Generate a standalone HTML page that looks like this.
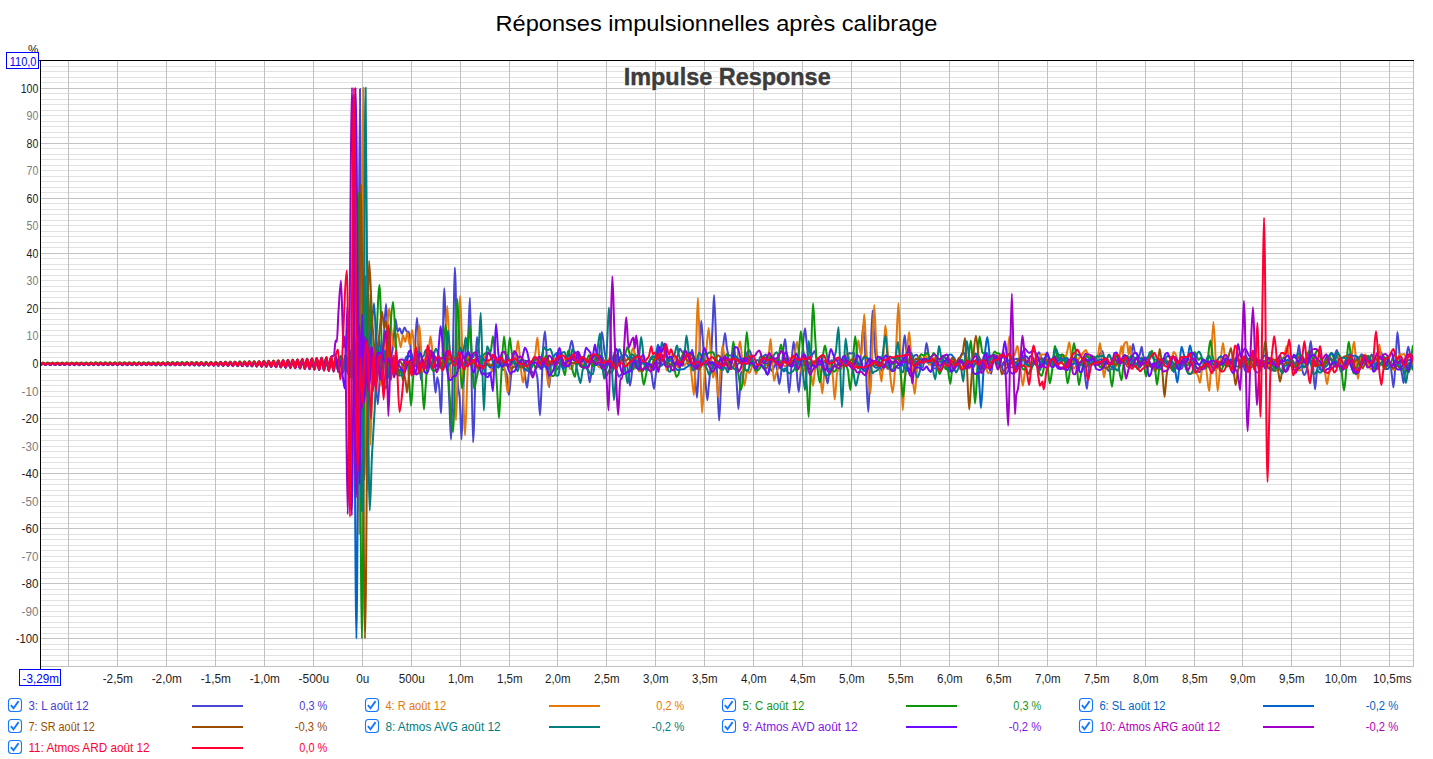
<!DOCTYPE html>
<html lang="fr"><head><meta charset="utf-8"><title>Réponses impulsionnelles après calibrage</title>
<style>html,body{margin:0;padding:0;background:#fff;overflow:hidden}body{width:1433px;height:759px;font-family:"Liberation Sans",sans-serif}svg text{white-space:pre}</style></head>
<body>
<svg width="1433" height="759" viewBox="0 0 1433 759" style="display:block">
<rect width="1433" height="759" fill="#fff"/>
<g shape-rendering="crispEdges">
<path d="M41 660.5H1413M41 655.5H1413M41 649.5H1413M41 644.5H1413M41 633.5H1413M41 627.5H1413M41 622.5H1413M41 616.5H1413M41 611.5H1413M41 605.5H1413M41 600.5H1413M41 594.5H1413M41 589.5H1413M41 578.5H1413M41 572.5H1413M41 567.5H1413M41 561.5H1413M41 556.5H1413M41 550.5H1413M41 545.5H1413M41 539.5H1413M41 534.5H1413M41 523.5H1413M41 517.5H1413M41 512.5H1413M41 506.5H1413M41 501.5H1413M41 495.5H1413M41 490.5H1413M41 484.5H1413M41 479.5H1413M41 468.5H1413M41 462.5H1413M41 457.5H1413M41 451.5H1413M41 446.5H1413M41 440.5H1413M41 435.5H1413M41 429.5H1413M41 424.5H1413M41 413.5H1413M41 407.5H1413M41 402.5H1413M41 396.5H1413M41 391.5H1413M41 385.5H1413M41 380.5H1413M41 374.5H1413M41 369.5H1413M41 357.5H1413M41 352.5H1413M41 346.5H1413M41 341.5H1413M41 335.5H1413M41 330.5H1413M41 324.5H1413M41 319.5H1413M41 313.5H1413M41 302.5H1413M41 297.5H1413M41 291.5H1413M41 286.5H1413M41 280.5H1413M41 275.5H1413M41 269.5H1413M41 264.5H1413M41 258.5H1413M41 247.5H1413M41 242.5H1413M41 236.5H1413M41 231.5H1413M41 225.5H1413M41 220.5H1413M41 214.5H1413M41 209.5H1413M41 203.5H1413M41 192.5H1413M41 187.5H1413M41 181.5H1413M41 176.5H1413M41 170.5H1413M41 165.5H1413M41 159.5H1413M41 154.5H1413M41 148.5H1413M41 137.5H1413M41 132.5H1413M41 126.5H1413M41 121.5H1413M41 115.5H1413M41 110.5H1413M41 104.5H1413M41 99.5H1413M41 93.5H1413M41 82.5H1413M41 77.5H1413M41 71.5H1413M41 66.5H1413" stroke="#e1e1e1" stroke-width="1" fill="none"/>
<path d="M41 638.5H1413M41 583.5H1413M41 528.5H1413M41 473.5H1413M41 418.5H1413M41 363.5H1413M41 308.5H1413M41 253.5H1413M41 198.5H1413M41 143.5H1413M41 88.5H1413" stroke="#c3c3c3" stroke-width="1" fill="none"/>
<path d="M68.5 61V666M117.5 61V666M166.5 61V666M215.5 61V666M264.5 61V666M313.5 61V666M362.5 61V666M411.5 61V666M460.5 61V666M509.5 61V666M557.5 61V666M606.5 61V666M655.5 61V666M704.5 61V666M753.5 61V666M802.5 61V666M851.5 61V666M900.5 61V666M949.5 61V666M998.5 61V666M1047.5 61V666M1096.5 61V666M1145.5 61V666M1194.5 61V666M1242.5 61V666M1291.5 61V666M1340.5 61V666M1389.5 61V666" stroke="#c0c0c0" stroke-width="1" fill="none"/>
<path d="M1413.5 61V667 M41 666.5H1414" stroke="#c0c0c0" stroke-width="1" fill="none"/>
</g>
<clipPath id="cp"><rect x="41" y="61" width="1372" height="605"/></clipPath>
<g clip-path="url(#cp)" fill="none" stroke-width="2" stroke-linejoin="round" stroke-linecap="round">
<path d="M38.0 363.0C38.8 363.3 39.6 364.1 40.4 364.1C41.2 364.1 42.0 363.0 42.8 363.0C43.6 363.0 44.4 364.1 45.2 364.1C46.0 364.1 46.8 363.0 47.6 363.0C48.4 363.0 49.2 364.1 50.0 364.1C50.8 364.1 51.6 363.0 52.4 363.0C53.2 363.0 54.0 364.1 54.8 364.1C55.6 364.1 56.4 363.0 57.2 363.0C58.0 363.0 58.8 364.1 59.6 364.1C60.4 364.1 61.2 363.0 62.0 363.0C62.8 363.0 63.6 364.1 64.4 364.1C65.2 364.1 66.0 363.0 66.8 363.0C67.6 363.0 68.4 364.1 69.2 364.1C70.0 364.1 70.8 363.0 71.6 363.0C72.4 363.0 73.2 364.1 74.0 364.1C74.8 364.1 75.6 363.0 76.4 363.0C77.2 363.0 78.0 364.1 78.8 364.1C79.6 364.1 80.4 363.0 81.2 363.0C82.0 363.0 82.8 364.1 83.6 364.1C84.4 364.1 85.2 362.9 86.0 362.9C86.8 362.9 87.6 364.1 88.4 364.1C89.2 364.1 90.0 362.9 90.8 362.9C91.6 362.9 92.4 364.1 93.2 364.1C94.0 364.1 94.8 362.9 95.6 362.9C96.4 362.9 97.2 364.1 98.0 364.1C98.8 364.1 99.6 362.9 100.4 362.9C101.2 362.9 102.0 364.1 102.8 364.1C103.6 364.1 104.4 362.9 105.2 362.9C106.0 362.9 106.8 364.1 107.6 364.1C108.4 364.1 109.2 362.9 110.0 362.9C110.8 362.9 111.6 364.1 112.4 364.1C113.2 364.1 114.0 362.9 114.8 362.9C115.6 362.9 116.4 364.1 117.2 364.1C118.0 364.1 118.8 362.9 119.6 362.9C120.4 362.9 121.2 364.2 122.0 364.2C122.8 364.2 123.6 362.9 124.4 362.9C125.2 362.9 126.0 364.2 126.8 364.2C127.6 364.2 128.4 362.9 129.2 362.9C130.0 362.9 130.8 364.2 131.6 364.2C132.4 364.2 133.2 362.9 134.0 362.9C134.8 362.9 135.6 364.2 136.4 364.2C137.2 364.2 138.0 362.8 138.8 362.8C139.6 362.8 140.4 364.2 141.2 364.2C142.0 364.2 142.8 362.8 143.6 362.8C144.4 362.8 145.2 364.2 146.0 364.2C146.8 364.2 147.6 362.8 148.4 362.8C149.2 362.8 150.0 364.2 150.8 364.2C151.6 364.2 152.4 362.8 153.2 362.8C154.0 362.8 154.8 364.3 155.6 364.3C156.4 364.3 157.2 362.8 158.0 362.8C158.8 362.8 159.6 364.3 160.4 364.3C161.2 364.3 162.0 362.8 162.8 362.8C163.6 362.8 164.4 364.3 165.2 364.3C166.0 364.3 166.8 362.7 167.6 362.7C168.4 362.7 169.2 364.3 170.0 364.3C170.8 364.3 171.6 362.7 172.4 362.7C173.2 362.7 174.0 364.3 174.8 364.3C175.6 364.3 176.4 362.7 177.2 362.7C178.0 362.7 178.8 364.4 179.6 364.4C180.4 364.4 181.2 362.7 182.0 362.7C182.8 362.7 183.6 364.4 184.4 364.4C185.2 364.4 186.0 362.6 186.8 362.6C187.6 362.6 188.4 364.4 189.2 364.4C190.0 364.4 190.8 362.6 191.6 362.6C192.4 362.6 193.2 364.5 194.0 364.5C194.8 364.5 195.6 362.6 196.4 362.6C197.2 362.6 198.0 364.5 198.8 364.5C199.6 364.5 200.4 362.5 201.2 362.5C202.0 362.5 202.8 364.6 203.6 364.6C204.4 364.6 205.2 362.5 206.0 362.5C206.8 362.5 207.6 364.6 208.4 364.6C209.2 364.6 210.0 362.4 210.8 362.4C211.6 362.4 212.4 364.7 213.2 364.7C214.0 364.7 214.8 362.4 215.6 362.4C216.4 362.4 217.2 364.7 218.0 364.7C218.8 364.7 219.6 362.3 220.4 362.3C221.2 362.3 222.0 364.8 222.8 364.8C223.6 364.8 224.4 362.2 225.2 362.2C226.0 362.2 226.8 364.8 227.6 364.8C228.4 364.8 229.2 362.2 230.0 362.2C230.8 362.2 231.6 364.9 232.4 364.9C233.2 364.9 234.0 362.1 234.8 362.1C235.6 362.1 236.4 365.0 237.2 365.0C238.0 365.0 238.8 362.0 239.6 362.0C240.4 362.0 241.2 365.1 242.0 365.1C242.8 365.1 243.6 361.9 244.4 361.9C245.2 361.9 246.0 365.2 246.8 365.2C247.6 365.2 248.4 361.8 249.2 361.8C250.0 361.8 250.8 365.3 251.6 365.3C252.4 365.3 253.2 361.7 254.0 361.7C254.8 361.7 255.6 365.4 256.4 365.4C257.2 365.4 258.0 361.6 258.8 361.6C259.6 361.6 260.4 365.5 261.2 365.5C262.0 365.5 262.8 361.5 263.6 361.5C264.4 361.5 265.2 365.7 266.0 365.7C266.8 365.7 267.6 361.3 268.4 361.3C269.2 361.3 270.0 365.8 270.8 365.8C271.6 365.8 272.4 361.2 273.2 361.2C274.0 361.2 274.8 366.0 275.6 366.0C276.4 366.0 277.2 361.0 278.0 361.0C278.8 361.0 279.6 366.1 280.4 366.1C281.2 366.1 282.0 360.8 282.8 360.8C283.6 360.8 284.4 366.3 285.2 366.3C286.0 366.3 286.8 360.6 287.6 360.6C288.4 360.6 289.2 366.5 290.0 366.5C290.8 366.5 291.6 360.4 292.4 360.4C293.2 360.4 294.0 366.8 294.8 366.8C295.6 366.8 296.4 360.1 297.2 360.1C298.0 360.1 298.8 367.0 299.6 367.0C300.4 367.0 301.2 359.9 302.0 359.9C302.8 359.9 303.6 367.3 304.4 367.3C305.2 367.3 306.0 359.6 306.8 359.6C307.6 359.6 308.4 367.6 309.2 367.6C310.0 367.6 310.8 359.3 311.6 359.3C312.4 359.3 313.2 367.9 314.0 367.9C314.8 367.9 315.6 359.0 316.4 359.0C317.2 359.0 318.0 368.3 318.8 368.3C319.6 368.3 320.4 358.6 321.2 358.6C322.0 358.6 322.8 368.7 323.6 368.7C324.4 368.7 325.2 358.2 326.0 358.2C326.8 358.2 327.6 369.1 328.4 369.1C329.2 369.1 330.0 357.7 330.8 357.7C331.6 357.7 332.4 369.5 333.2 369.5C334.0 369.5 334.8 357.3 335.6 357.3C336.4 357.3 337.2 370.0 338.0 370.0C338.8 370.0 339.6 356.7 340.4 356.7C341.2 356.7 342.0 370.6 342.8 370.6C343.6 370.6 344.4 356.2 345.2 356.2C346.0 356.2 346.8 371.2 347.6 371.2C348.4 371.2 349.2 358.3 350.0 358.3C350.8 358.3 351.7 374.8 352.5 374.8C353.3 374.8 354.2 341.8 355.0 341.8C355.8 341.8 356.7 424.4 357.5 424.4C358.3 424.4 359.2 88.9 360.0 88.9C360.8 88.9 361.5 425.6 362.3 446.4C363.0 466.4 363.8 479.5 364.5 479.5C365.2 479.5 366.0 336.3 366.7 336.3C367.5 336.3 368.2 385.8 369.0 385.8C369.8 385.8 370.7 347.3 371.5 347.3C372.3 347.3 373.2 349.8 374.0 352.8C375.3 357.4 376.5 404.3 377.8 404.3C378.9 404.3 379.9 364.0 381.0 355.5C381.8 348.9 382.7 348.5 383.5 341.8C384.3 335.0 385.2 304.0 386.0 304.0C386.8 304.0 387.7 333.0 388.5 341.8C389.2 348.8 389.8 358.3 390.5 358.3C391.3 358.3 392.2 352.5 393.0 347.3C393.8 342.0 394.7 319.2 395.5 319.2C396.2 319.2 396.9 331.6 397.6 331.6C398.3 331.6 399.0 328.3 399.7 328.3C400.4 328.3 401.1 333.8 401.8 333.8C402.7 333.8 403.7 327.4 404.6 327.4C405.3 327.4 406.0 331.2 406.7 331.6C407.4 331.9 408.1 331.8 408.8 332.1C409.4 332.4 409.9 339.2 410.5 345.6C411.0 351.3 411.5 374.8 412.0 374.8C412.8 374.8 413.7 364.0 414.5 355.5C415.3 347.0 416.2 317.8 417.0 317.8C417.8 317.8 418.7 345.5 419.5 358.3C420.0 366.0 420.5 380.3 421.0 380.3C421.7 380.3 422.3 361.0 423.0 361.0C423.7 361.0 424.4 361.1 425.0 361.3C425.7 361.5 426.4 367.2 427.1 367.3C427.8 367.3 428.4 367.3 429.1 367.3C429.8 367.3 430.5 363.3 431.2 363.3C431.8 363.3 432.5 366.0 433.2 368.9C434.0 372.2 434.8 392.7 435.6 392.7C436.2 392.7 436.7 377.2 437.3 377.2C438.0 377.2 438.6 382.7 439.3 388.1C439.9 392.6 440.4 413.4 441.0 413.4C442.1 413.4 443.2 288.3 444.3 288.3C444.7 288.3 445.1 305.9 445.4 314.7C446.1 330.4 446.8 346.6 447.5 361.8C448.2 376.9 448.8 390.9 449.5 406.0C450.0 416.9 450.5 439.6 451.0 439.6C451.9 439.6 452.7 357.3 453.6 318.9C454.0 301.1 454.4 267.4 454.8 267.4C455.9 267.4 456.9 374.1 458.0 385.8C458.6 392.1 459.1 391.7 459.7 397.8C460.3 404.2 460.9 439.6 461.5 439.6C462.3 439.6 463.0 393.5 463.8 378.7C464.5 364.6 465.3 348.9 466.0 345.2C466.6 342.1 467.3 342.8 467.9 339.5C468.6 335.8 469.3 297.7 470.0 297.7C471.0 297.7 472.0 442.3 473.0 442.3C474.3 442.3 475.7 337.0 477.0 337.0C478.0 337.0 479.1 355.9 480.1 359.9C480.8 362.6 481.5 364.1 482.2 365.6C482.8 367.1 483.5 367.8 484.2 369.2C484.9 370.6 485.6 374.3 486.2 374.3C486.9 374.3 487.6 373.3 488.3 373.3C489.0 373.3 489.6 373.7 490.3 373.7C491.0 373.7 491.7 370.6 492.4 369.1C493.0 367.6 493.7 366.0 494.4 364.7C495.1 363.5 495.8 361.6 496.4 361.4C497.1 361.2 497.8 361.1 498.5 361.1C499.2 361.1 499.8 362.2 500.5 363.2C501.2 364.2 501.9 369.2 502.6 369.5C503.2 369.8 503.9 369.7 504.6 369.9C505.3 370.2 506.0 371.7 506.6 373.9C507.4 376.4 508.2 395.2 509.0 395.2C509.6 395.2 510.1 384.3 510.7 379.1C511.4 372.9 512.1 364.8 512.8 360.9C513.4 357.0 514.1 352.3 514.8 352.3C515.5 352.3 516.2 353.9 516.8 355.4C517.5 356.8 518.2 361.7 518.9 363.0C519.6 364.2 520.2 365.5 520.9 365.5C521.6 365.5 522.3 365.3 523.0 365.3C523.6 365.3 524.3 371.5 525.0 375.2C525.7 378.8 526.3 387.8 527.0 387.8C527.7 387.8 528.4 373.7 529.1 372.4C529.8 371.2 530.4 370.2 531.1 370.2C531.8 370.2 532.5 374.2 533.2 374.2C533.8 374.2 534.5 369.9 535.2 369.9C535.9 369.9 536.6 373.2 537.2 376.8C538.2 381.6 539.1 415.3 540.0 415.3C540.4 415.3 540.9 401.4 541.3 392.8C542.0 379.5 542.7 352.4 543.4 344.4C543.9 338.0 544.5 331.3 545.0 331.3C545.8 331.3 546.6 357.2 547.4 368.1C548.0 375.1 548.5 387.2 549.0 387.2C549.8 387.2 550.7 367.6 551.5 365.8C552.2 364.3 552.9 363.2 553.6 363.2C554.2 363.2 554.9 366.3 555.6 367.2C556.3 368.0 557.0 369.2 557.6 369.2C558.3 369.2 559.0 366.5 559.7 365.1C560.4 363.6 561.0 360.2 561.7 360.2C562.4 360.2 563.1 362.4 563.8 362.6C564.4 362.7 565.1 362.9 565.8 362.9C566.5 362.9 567.2 359.5 567.8 357.2C568.5 354.9 569.2 351.0 569.9 348.1C570.5 345.5 571.1 340.7 571.7 340.7C572.5 340.7 573.2 348.7 574.0 351.9C574.6 354.8 575.3 359.6 576.0 359.6C576.7 359.6 577.4 357.4 578.0 357.3C578.7 357.2 579.4 357.1 580.1 357.1C580.8 357.1 581.4 364.2 582.1 365.5C582.8 366.7 583.5 367.9 584.2 367.9C584.8 367.9 585.5 364.0 586.2 364.0C586.9 364.0 587.6 369.3 588.2 372.8C588.8 375.4 589.3 382.2 589.8 382.2C590.6 382.2 591.5 369.7 592.3 364.9C593.0 361.0 593.7 354.9 594.4 354.9C595.0 354.9 595.7 358.1 596.4 358.9C597.1 359.8 597.8 360.8 598.4 360.8C599.1 360.8 599.8 347.3 600.5 342.0C601.0 338.3 601.4 332.1 601.9 332.1C602.8 332.1 603.7 347.3 604.6 351.9C605.2 355.5 605.9 359.2 606.6 360.3C607.3 361.4 608.0 361.6 608.6 362.3C609.3 363.0 610.0 364.5 610.7 364.5C611.4 364.5 612.0 364.4 612.7 364.3C613.4 364.2 614.1 362.7 614.8 362.7C615.4 362.7 616.1 368.4 616.8 370.7C617.5 373.0 618.2 376.8 618.8 376.8C619.5 376.8 620.2 375.4 620.9 374.8C621.6 374.3 622.2 374.1 622.9 373.3C623.6 372.5 624.3 369.5 625.0 368.0C625.6 366.6 626.3 364.4 627.0 364.4C628.0 364.4 629.0 385.8 630.0 385.8C631.0 385.8 632.1 367.9 633.1 362.5C633.8 358.9 634.5 354.1 635.2 354.1C635.8 354.1 636.5 359.3 637.2 361.6C637.9 363.9 638.6 368.1 639.2 368.1C639.9 368.1 640.6 365.2 641.3 364.3C642.0 363.4 642.6 362.2 643.3 362.2C644.0 362.2 644.7 364.3 645.4 364.3C646.0 364.3 646.7 362.8 647.4 362.8C648.1 362.8 648.8 362.8 649.4 362.9C650.1 362.9 650.8 369.1 651.5 372.8C652.3 377.5 653.2 388.9 654.0 388.9C654.5 388.9 655.0 380.5 655.6 376.6C656.2 371.5 656.9 361.9 657.6 361.9C658.3 361.9 659.0 364.6 659.6 364.6C660.3 364.6 661.0 363.2 661.7 362.0C662.4 360.8 663.0 356.2 663.7 356.2C664.4 356.2 665.1 356.4 665.8 356.7C666.4 356.9 667.1 358.3 667.8 359.6C668.5 360.8 669.2 365.0 669.8 365.1C670.5 365.2 671.2 365.2 671.9 365.2C672.6 365.3 673.2 366.4 673.9 366.4C674.6 366.4 675.3 363.8 676.0 362.0C676.6 360.1 677.3 356.6 678.0 354.4C678.7 352.2 679.4 348.7 680.0 348.7C680.7 348.7 681.4 351.5 682.1 352.0C682.8 352.5 683.4 352.4 684.1 353.0C684.8 353.5 685.5 357.2 686.2 359.2C686.8 361.1 687.5 364.5 688.2 364.5C688.9 364.5 689.6 359.6 690.2 357.1C690.9 354.7 691.6 349.7 692.3 349.7C693.0 349.7 693.6 359.3 694.3 365.6C695.2 374.0 696.1 397.7 697.0 397.7C697.5 397.7 697.9 384.1 698.4 376.1C699.3 360.2 700.3 320.8 701.2 320.8C701.6 320.8 702.1 329.9 702.5 335.4C703.2 344.1 703.8 357.1 704.5 366.1C705.5 378.9 706.4 400.2 707.4 400.2C707.8 400.2 708.2 391.5 708.6 387.3C709.3 380.1 710.0 375.6 710.6 366.1C711.3 356.7 712.0 336.9 712.7 323.0C713.2 313.3 713.6 294.9 714.1 294.9C715.0 294.9 715.9 343.1 716.8 365.3C717.5 384.8 718.3 420.8 719.1 420.8C719.7 420.8 720.3 400.3 720.8 389.5C721.5 376.8 722.2 358.1 722.9 350.2C723.6 342.1 724.3 332.9 725.0 332.9C725.7 332.9 726.3 345.3 727.0 348.5C727.6 351.8 728.3 355.6 729.0 355.6C729.7 355.6 730.4 355.5 731.0 355.4C731.7 355.4 732.4 354.1 733.1 354.1C733.8 354.1 734.4 356.9 735.1 360.5C735.8 364.0 736.5 381.8 737.2 391.7C737.6 397.7 738.0 409.0 738.4 409.0C739.3 409.0 740.3 373.4 741.2 372.3C741.9 371.5 742.6 371.7 743.3 371.0C744.0 370.3 744.6 366.6 745.3 363.6C746.0 360.6 746.7 353.1 747.4 352.0C748.0 351.0 748.7 350.2 749.4 350.2C750.1 350.2 750.8 353.8 751.4 355.8C752.1 357.7 752.8 360.3 753.5 362.1C754.2 363.8 754.8 366.6 755.5 366.6C756.2 366.6 756.9 366.3 757.6 365.8C758.2 365.4 758.9 363.6 759.6 362.8C760.3 362.0 761.0 361.7 761.6 360.8C762.3 359.9 763.0 357.2 763.7 356.3C764.4 355.4 765.0 354.4 765.7 354.4C766.4 354.4 767.1 358.2 767.8 360.3C768.4 362.4 769.1 365.3 769.8 367.0C770.5 368.7 771.2 371.1 771.8 371.1C772.5 371.1 773.2 368.6 773.9 367.3C774.6 366.1 775.2 363.4 775.9 363.4C776.6 363.4 777.3 372.6 778.0 376.6C778.4 379.3 778.9 384.2 779.4 384.2C780.3 384.2 781.2 370.9 782.0 363.9C783.0 356.0 784.0 339.0 785.0 339.0C785.4 339.0 785.7 344.1 786.1 347.8C787.1 357.7 788.1 393.0 789.1 393.0C790.1 393.0 791.2 364.4 792.2 354.1C792.7 349.3 793.2 341.8 793.7 341.8C794.6 341.8 795.4 357.7 796.3 366.5C797.1 374.5 797.9 391.9 798.7 391.9C799.3 391.9 799.8 381.3 800.4 375.3C801.1 368.2 801.8 358.5 802.4 351.6C803.3 342.8 804.1 328.3 805.0 328.3C805.5 328.3 806.0 336.9 806.5 341.3C807.2 347.2 807.9 359.2 808.6 359.2C809.2 359.2 809.9 359.0 810.6 358.8C811.3 358.5 812.0 355.5 812.6 354.2C813.3 353.0 814.0 351.0 814.7 351.0C815.4 351.0 816.0 357.1 816.7 359.4C817.4 361.8 818.1 365.6 818.8 365.6C819.4 365.6 820.1 363.7 820.8 363.4C821.5 363.2 822.2 363.0 822.8 363.0C823.5 363.0 824.2 366.5 824.9 369.1C825.8 372.5 826.7 383.4 827.6 383.4C828.1 383.4 828.5 376.7 829.0 373.6C829.6 368.9 830.3 360.2 831.0 360.2C831.7 360.2 832.4 361.6 833.0 361.6C833.7 361.6 834.4 360.0 835.1 360.0C835.8 360.0 836.4 360.0 837.1 360.0C837.8 360.1 838.5 360.2 839.2 360.2C839.8 360.2 840.5 359.9 841.2 359.9C841.9 359.9 842.6 363.7 843.2 364.3C843.9 364.9 844.6 365.3 845.3 365.3C846.0 365.3 846.6 359.7 847.3 357.7C848.0 355.8 848.7 353.1 849.4 353.1C850.0 353.1 850.7 353.6 851.4 353.6C852.1 353.6 852.8 352.6 853.4 352.6C854.1 352.6 854.8 356.1 855.5 358.6C856.2 361.1 856.8 368.3 857.5 368.3C858.2 368.3 858.9 367.7 859.6 366.8C860.2 365.9 860.9 353.2 861.6 345.6C862.2 339.3 862.7 325.2 863.3 325.2C864.1 325.2 864.9 350.3 865.7 364.0C866.6 379.0 867.4 412.0 868.3 412.0C868.8 412.0 869.3 391.4 869.8 380.0C870.7 358.6 871.6 310.4 872.5 310.4C872.9 310.4 873.4 323.9 873.8 330.4C874.5 340.4 875.2 359.6 875.9 359.6C876.6 359.6 877.2 359.5 877.9 359.5C878.6 359.5 879.3 363.4 880.0 365.3C880.6 367.2 881.3 371.0 882.0 371.0C882.7 371.0 883.4 368.3 884.0 367.4C884.7 366.6 885.4 365.3 886.1 365.3C886.8 365.3 887.4 369.0 888.1 369.0C888.8 369.0 889.5 367.4 890.2 366.4C890.8 365.5 891.5 363.1 892.2 363.1C892.9 363.1 893.6 363.7 894.2 364.2C894.9 364.7 895.6 366.2 896.3 366.7C897.0 367.3 897.6 368.0 898.3 368.0C899.0 368.0 899.7 367.8 900.4 367.5C901.0 367.2 901.7 360.9 902.4 356.2C903.2 351.0 903.9 335.2 904.7 335.2C905.3 335.2 905.9 347.3 906.5 351.6C907.2 356.5 907.8 363.6 908.5 363.6C909.2 363.6 909.9 363.3 910.6 362.9C911.2 362.4 911.9 359.7 912.6 358.5C913.3 357.3 914.0 355.7 914.6 355.3C915.3 355.0 916.0 354.7 916.7 354.7C917.4 354.7 918.0 357.5 918.7 359.6C919.3 361.5 920.0 367.2 920.6 367.3C921.3 367.4 922.1 367.4 922.8 367.4C923.5 367.4 924.2 359.8 924.8 355.3C925.4 351.6 925.9 343.1 926.5 343.1C927.3 343.1 928.1 353.4 928.9 356.7C929.6 359.6 930.3 361.6 931.0 363.6C931.6 365.5 932.3 368.7 933.0 368.7C933.7 368.7 934.4 368.2 935.0 368.2C935.7 368.2 936.4 368.3 937.1 368.5C937.8 368.6 938.4 370.6 939.1 370.6C939.8 370.6 940.5 365.5 941.2 363.8C941.8 362.1 942.5 359.7 943.2 359.7C943.9 359.7 944.6 363.0 945.2 364.5C945.9 366.0 946.6 368.8 947.3 368.8C948.0 368.8 948.6 367.5 949.3 366.5C950.0 365.5 950.7 363.5 951.4 361.9C952.0 360.3 952.7 356.9 953.4 356.9C954.1 356.9 954.8 359.4 955.4 360.5C956.1 361.7 956.8 363.7 957.5 363.7C958.2 363.7 958.8 362.0 959.5 360.5C960.2 359.1 960.9 354.5 961.6 353.9C962.2 353.3 962.9 352.8 963.6 352.8C964.3 352.8 965.0 357.3 965.6 359.3C966.3 361.2 967.0 364.5 967.7 364.5C968.4 364.5 969.0 363.6 969.7 363.6C970.4 363.6 971.1 365.6 971.8 366.0C972.4 366.4 973.1 366.9 973.8 366.9C974.5 366.9 975.2 361.8 975.8 360.7C976.5 359.6 977.2 358.5 977.9 358.5C978.6 358.5 979.2 360.9 979.9 360.9C980.6 360.9 981.3 360.9 982.0 360.8C982.6 360.8 983.3 359.5 984.0 358.4C984.7 357.2 985.4 352.8 986.0 352.8C986.7 352.8 987.4 353.6 988.1 354.7C989.1 356.2 990.0 373.7 991.0 373.7C991.4 373.7 991.8 369.6 992.2 367.5C992.8 363.9 993.5 356.7 994.2 356.7C994.9 356.7 995.6 358.3 996.2 358.3C996.9 358.3 997.6 357.9 998.3 357.9C999.0 357.9 999.6 358.9 1000.3 360.0C1001.0 361.1 1001.7 365.9 1002.4 368.1C1003.0 370.3 1003.7 373.8 1004.4 373.8C1005.1 373.9 1005.8 373.9 1006.4 373.9C1007.1 373.9 1007.8 371.5 1008.5 370.0C1009.2 368.5 1009.8 366.0 1010.5 364.5C1011.2 363.1 1011.9 361.8 1012.6 361.0C1013.2 360.2 1013.9 359.2 1014.6 359.2C1015.3 359.2 1016.0 359.2 1016.6 359.1C1017.3 359.1 1018.0 359.1 1018.7 358.9C1019.4 358.8 1020.0 356.5 1020.7 356.1C1021.4 355.8 1022.1 355.5 1022.8 355.5C1023.4 355.5 1024.1 360.5 1024.8 363.3C1025.5 366.1 1026.2 371.7 1026.8 372.5C1027.5 373.3 1028.2 373.8 1028.9 373.8C1029.6 373.8 1030.2 369.2 1030.9 367.6C1031.6 366.0 1032.3 365.1 1033.0 363.7C1033.6 362.4 1034.3 361.0 1035.0 359.6C1035.7 358.2 1036.4 356.5 1037.0 355.3C1037.7 354.2 1038.4 352.3 1039.1 352.3C1039.8 352.3 1040.4 355.7 1041.1 357.3C1041.8 358.8 1042.5 360.9 1043.2 361.6C1043.8 362.2 1044.5 362.9 1045.2 362.9C1045.9 362.9 1046.6 359.0 1047.2 359.0C1047.9 359.0 1048.6 359.6 1049.3 360.2C1050.0 360.7 1050.6 363.6 1051.3 363.7C1052.0 363.9 1052.7 364.0 1053.4 364.0C1054.0 364.0 1054.7 359.1 1055.4 357.7C1056.1 356.3 1056.8 354.6 1057.4 354.6C1058.1 354.6 1058.8 354.6 1059.5 354.7C1060.2 354.7 1060.8 355.3 1061.5 355.9C1062.2 356.5 1062.9 357.9 1063.6 358.9C1064.2 359.9 1064.9 361.9 1065.6 361.9C1066.3 361.9 1067.0 361.6 1067.6 361.6C1068.3 361.6 1069.0 362.1 1069.7 362.5C1070.4 363.0 1071.0 365.6 1071.7 365.6C1072.4 365.6 1073.1 362.9 1073.8 361.1C1074.4 359.4 1075.1 354.5 1075.8 354.5C1076.5 354.5 1077.2 354.5 1077.8 354.6C1078.5 354.6 1079.2 355.6 1079.9 356.1C1080.6 356.6 1081.2 356.7 1081.9 357.5C1082.6 358.3 1083.3 362.5 1084.0 366.1C1084.9 371.4 1085.9 388.9 1086.9 388.9C1087.3 388.9 1087.7 382.0 1088.0 378.2C1088.7 371.5 1089.4 356.4 1090.1 356.1C1090.8 355.8 1091.4 355.6 1092.1 355.6C1092.8 355.6 1093.5 358.9 1094.2 359.4C1094.8 359.8 1095.5 360.1 1096.2 360.1C1096.9 360.1 1097.6 358.0 1098.2 356.9C1098.9 355.8 1099.6 354.2 1100.3 353.3C1101.0 352.4 1101.6 351.0 1102.3 351.0C1103.0 351.0 1103.7 356.1 1104.4 358.8C1105.0 361.5 1105.7 365.5 1106.4 367.1C1107.1 368.8 1107.8 370.7 1108.4 370.7C1109.1 370.7 1109.8 369.4 1110.5 369.3C1111.2 369.3 1111.8 369.3 1112.5 369.2C1113.2 369.2 1113.9 367.9 1114.6 367.1C1115.2 366.3 1115.9 365.2 1116.6 364.2C1117.3 363.2 1118.0 361.1 1118.6 361.1C1119.3 361.1 1120.0 363.1 1120.7 363.1C1121.4 363.1 1122.0 362.0 1122.7 361.0C1123.4 360.0 1124.1 356.9 1124.8 356.5C1125.4 356.2 1126.1 355.9 1126.8 355.9C1127.5 355.9 1128.2 362.8 1128.8 362.8C1129.5 362.8 1130.2 360.5 1130.9 358.2C1131.6 355.8 1132.3 344.0 1133.0 344.0C1133.7 344.0 1134.3 351.9 1135.0 352.6C1135.6 353.3 1136.3 353.2 1137.0 353.8C1137.7 354.4 1138.4 357.2 1139.0 357.2C1139.9 357.2 1140.8 346.7 1141.7 346.7C1142.2 346.7 1142.6 353.6 1143.1 355.2C1143.8 357.5 1144.5 359.8 1145.2 359.8C1145.8 359.8 1146.5 357.2 1147.2 357.2C1147.9 357.2 1148.6 360.4 1149.2 361.6C1149.9 362.8 1150.6 364.1 1151.3 364.7C1152.0 365.4 1152.6 365.6 1153.3 366.1C1154.0 366.5 1154.7 367.5 1155.4 367.5C1156.0 367.5 1156.7 361.0 1157.4 360.7C1158.1 360.4 1158.8 360.2 1159.4 360.2C1160.1 360.2 1160.8 360.9 1161.5 360.9C1162.2 360.9 1162.8 360.4 1163.5 360.4C1164.2 360.4 1164.9 361.9 1165.6 362.7C1166.2 363.4 1166.9 365.0 1167.6 365.0C1168.3 365.0 1169.0 364.3 1169.6 364.3C1170.3 364.3 1171.0 365.6 1171.7 366.6C1172.4 367.7 1173.0 371.9 1173.7 371.9C1174.4 371.9 1175.1 368.4 1175.8 367.8C1176.4 367.2 1177.1 366.7 1177.8 366.7C1178.5 366.7 1179.2 369.0 1179.8 369.0C1180.5 369.0 1181.2 368.7 1181.9 368.3C1182.6 367.9 1183.2 364.8 1183.9 363.4C1184.6 362.0 1185.3 359.7 1186.0 359.7C1186.6 359.7 1187.3 359.8 1188.0 359.8C1188.7 359.8 1189.4 359.7 1190.0 359.7C1190.7 359.7 1191.4 363.6 1192.1 364.7C1192.8 365.9 1193.4 366.3 1194.1 367.3C1194.8 368.4 1195.5 370.8 1196.2 371.1C1196.8 371.4 1197.5 371.6 1198.2 371.7C1198.9 371.8 1199.6 371.9 1200.2 371.9C1200.9 371.9 1201.6 367.9 1202.3 366.7C1203.0 365.4 1203.6 364.4 1204.3 363.7C1205.0 363.0 1205.7 362.2 1206.4 362.2C1207.0 362.2 1207.7 365.3 1208.4 366.3C1209.1 367.4 1209.8 368.4 1210.4 368.7C1211.1 369.1 1211.8 369.2 1212.5 369.4C1213.2 369.7 1213.8 370.3 1214.5 370.3C1215.2 370.3 1215.9 369.6 1216.6 368.9C1217.2 368.1 1217.9 362.9 1218.6 362.9C1219.3 362.9 1220.0 363.2 1220.6 363.5C1221.3 363.8 1222.0 365.3 1222.7 365.3C1223.4 365.3 1224.0 362.7 1224.7 362.7C1225.4 362.7 1226.1 363.7 1226.8 363.7C1227.4 363.7 1228.1 363.6 1228.8 363.3C1229.5 363.1 1230.2 359.6 1230.8 359.6C1231.5 359.6 1232.2 360.9 1232.9 361.6C1233.6 362.3 1234.2 363.8 1234.9 363.8C1235.6 363.8 1236.3 358.8 1237.0 357.4C1237.6 356.0 1238.3 354.3 1239.0 354.3C1239.7 354.3 1240.4 355.6 1241.0 356.8C1241.7 358.0 1242.4 361.0 1243.1 363.3C1243.8 365.6 1244.4 369.7 1245.1 370.5C1245.8 371.4 1246.5 372.0 1247.2 372.0C1247.8 372.0 1248.5 366.2 1249.2 365.0C1249.9 363.8 1250.6 362.6 1251.2 362.6C1251.9 362.6 1252.6 365.6 1253.3 366.9C1254.0 368.3 1254.6 369.9 1255.3 370.8C1256.0 371.6 1256.7 372.6 1257.4 372.6C1258.0 372.6 1258.7 372.3 1259.4 371.9C1260.1 371.5 1260.8 368.4 1261.4 366.5C1262.1 364.7 1262.8 360.8 1263.5 360.8C1264.2 360.8 1264.8 361.5 1265.5 362.1C1266.2 362.7 1266.9 364.4 1267.6 365.5C1268.2 366.6 1268.9 368.0 1269.6 368.8C1270.3 369.6 1271.0 370.6 1271.6 370.6C1272.3 370.6 1273.0 370.3 1273.7 369.8C1274.4 369.3 1275.0 365.8 1275.7 364.0C1276.4 362.2 1277.1 360.3 1277.8 358.9C1278.4 357.5 1279.1 355.4 1279.8 355.4C1280.5 355.4 1281.2 357.9 1281.8 359.9C1282.5 362.0 1283.2 369.4 1283.9 369.7C1284.6 369.9 1285.2 370.1 1285.9 370.1C1286.6 370.1 1287.3 366.7 1288.0 365.2C1288.6 363.6 1289.3 360.7 1290.0 360.7C1290.7 360.7 1291.4 360.8 1292.0 360.9C1292.7 361.0 1293.4 363.6 1294.1 363.8C1294.8 364.0 1295.4 364.1 1296.1 364.1C1297.0 364.1 1298.0 345.1 1298.9 345.1C1299.3 345.1 1299.8 350.7 1300.2 353.8C1300.9 358.8 1301.6 367.6 1302.2 370.1C1302.9 372.7 1303.6 375.1 1304.3 375.1C1305.0 375.1 1305.6 373.4 1306.3 371.5C1307.0 369.6 1307.7 363.4 1308.4 358.8C1309.2 353.4 1310.0 340.9 1310.8 340.9C1311.3 340.9 1311.9 350.5 1312.4 356.4C1313.3 365.6 1314.1 389.4 1315.0 389.4C1315.5 389.4 1316.0 379.4 1316.5 375.4C1317.2 370.1 1317.9 361.5 1318.6 361.5C1319.2 361.5 1319.9 368.2 1320.6 369.2C1321.3 370.3 1322.0 371.2 1322.6 371.2C1323.3 371.2 1324.0 362.7 1324.7 360.8C1325.4 358.9 1326.0 356.9 1326.7 356.9C1327.4 356.9 1328.1 361.6 1328.8 362.8C1329.4 364.0 1330.1 365.5 1330.8 365.5C1331.5 365.5 1332.2 364.0 1332.8 362.6C1333.5 361.2 1334.2 356.8 1334.9 354.9C1335.6 352.8 1336.3 349.9 1337.0 349.9C1337.7 349.9 1338.3 360.2 1339.0 363.6C1339.6 367.1 1340.3 371.8 1341.0 371.8C1341.7 371.8 1342.4 370.2 1343.0 369.7C1343.7 369.2 1344.4 369.0 1345.1 368.5C1345.8 368.0 1346.4 367.5 1347.1 366.6C1347.8 365.6 1348.5 362.1 1349.2 362.1C1349.8 362.1 1350.5 362.5 1351.2 362.5C1351.9 362.5 1352.6 362.5 1353.2 362.4C1353.9 362.3 1354.6 358.0 1355.3 357.4C1356.0 356.9 1356.6 356.5 1357.3 356.5C1358.0 356.5 1358.7 358.7 1359.4 358.7C1360.0 358.7 1360.7 354.3 1361.4 354.3C1362.1 354.3 1362.8 354.8 1363.4 355.5C1364.1 356.2 1364.8 362.1 1365.5 363.2C1366.2 364.3 1366.8 365.2 1367.5 365.2C1368.2 365.2 1368.9 361.5 1369.6 359.7C1370.2 358.0 1370.9 354.6 1371.6 354.6C1372.3 354.6 1373.0 357.3 1373.6 358.7C1374.3 360.0 1375.0 362.7 1375.7 362.7C1376.4 362.7 1377.0 359.0 1377.7 357.0C1378.4 355.1 1379.1 351.0 1379.8 351.0C1380.4 351.0 1381.1 352.8 1381.8 353.9C1382.5 354.9 1383.2 356.2 1383.8 357.4C1384.5 358.7 1385.2 360.2 1385.9 361.4C1386.6 362.5 1387.2 364.5 1387.9 364.5C1388.6 364.5 1389.3 362.7 1390.0 362.7C1390.6 362.7 1391.3 371.4 1392.0 376.2C1392.5 379.7 1393.0 387.5 1393.5 387.5C1394.4 387.5 1395.2 364.5 1396.1 352.1C1396.5 345.7 1397.0 332.1 1397.4 332.1C1398.3 332.1 1399.2 354.0 1400.2 361.6C1400.8 367.1 1401.5 371.5 1402.2 375.5C1402.7 378.3 1403.2 383.1 1403.7 383.1C1404.6 383.1 1405.4 364.0 1406.3 357.8C1406.9 353.2 1407.6 346.7 1408.2 346.7C1408.9 346.7 1409.6 353.0 1410.4 356.0C1411.0 358.8 1411.7 362.0 1412.4 364.1C1413.1 366.2 1413.8 367.4 1414.4 369.1" stroke="#4646d2"/>
<path d="M38.1 362.7C38.9 363.1 39.7 363.8 40.5 363.8C41.3 363.8 42.1 362.7 42.9 362.7C43.7 362.7 44.5 363.8 45.3 363.8C46.1 363.8 46.9 362.7 47.7 362.7C48.5 362.7 49.3 363.8 50.1 363.8C50.9 363.8 51.7 362.7 52.5 362.7C53.3 362.7 54.1 363.8 54.9 363.8C55.7 363.8 56.5 362.7 57.3 362.7C58.1 362.7 58.9 363.8 59.7 363.8C60.5 363.8 61.3 362.7 62.1 362.7C62.9 362.7 63.7 363.8 64.5 363.8C65.3 363.8 66.1 362.7 66.9 362.7C67.7 362.7 68.5 363.8 69.3 363.8C70.1 363.8 70.9 362.7 71.7 362.7C72.5 362.7 73.3 363.8 74.1 363.8C74.9 363.8 75.7 362.7 76.5 362.7C77.3 362.7 78.1 363.8 78.9 363.8C79.7 363.8 80.5 362.7 81.3 362.7C82.1 362.7 82.9 363.8 83.7 363.8C84.5 363.8 85.3 362.7 86.1 362.7C86.9 362.7 87.7 363.8 88.5 363.8C89.3 363.8 90.1 362.6 90.9 362.6C91.7 362.6 92.5 363.9 93.3 363.9C94.1 363.9 94.9 362.6 95.7 362.6C96.5 362.6 97.3 363.9 98.1 363.9C98.9 363.9 99.7 362.6 100.5 362.6C101.3 362.6 102.1 363.9 102.9 363.9C103.7 363.9 104.5 362.6 105.3 362.6C106.1 362.6 106.9 363.9 107.7 363.9C108.5 363.9 109.3 362.6 110.1 362.6C110.9 362.6 111.7 363.9 112.5 363.9C113.3 363.9 114.1 362.6 114.9 362.6C115.7 362.6 116.5 363.9 117.3 363.9C118.1 363.9 118.9 362.6 119.7 362.6C120.5 362.6 121.3 363.9 122.1 363.9C122.9 363.9 123.7 362.6 124.5 362.6C125.3 362.6 126.1 363.9 126.9 363.9C127.7 363.9 128.5 362.6 129.3 362.6C130.1 362.6 130.9 363.9 131.7 363.9C132.5 363.9 133.3 362.6 134.1 362.6C134.9 362.6 135.7 363.9 136.5 363.9C137.3 363.9 138.1 362.5 138.9 362.5C139.7 362.5 140.5 364.0 141.3 364.0C142.1 364.0 142.9 362.5 143.7 362.5C144.5 362.5 145.3 364.0 146.1 364.0C146.9 364.0 147.7 362.5 148.5 362.5C149.3 362.5 150.1 364.0 150.9 364.0C151.7 364.0 152.5 362.5 153.3 362.5C154.1 362.5 154.9 364.0 155.7 364.0C156.5 364.0 157.3 362.5 158.1 362.5C158.9 362.5 159.7 364.0 160.5 364.0C161.3 364.0 162.1 362.5 162.9 362.5C163.7 362.5 164.5 364.1 165.3 364.1C166.1 364.1 166.9 362.4 167.7 362.4C168.5 362.4 169.3 364.1 170.1 364.1C170.9 364.1 171.7 362.4 172.5 362.4C173.3 362.4 174.1 364.1 174.9 364.1C175.7 364.1 176.5 362.4 177.3 362.4C178.1 362.4 178.9 364.1 179.7 364.1C180.5 364.1 181.3 362.4 182.1 362.4C182.9 362.4 183.7 364.2 184.5 364.2C185.3 364.2 186.1 362.3 186.9 362.3C187.7 362.3 188.5 364.2 189.3 364.2C190.1 364.2 190.9 362.3 191.7 362.3C192.5 362.3 193.3 364.2 194.1 364.2C194.9 364.2 195.7 362.2 196.5 362.2C197.3 362.2 198.1 364.3 198.9 364.3C199.7 364.3 200.5 362.2 201.3 362.2C202.1 362.2 202.9 364.3 203.7 364.3C204.5 364.3 205.3 362.2 206.1 362.2C206.9 362.2 207.7 364.4 208.5 364.4C209.3 364.4 210.1 362.1 210.9 362.1C211.7 362.1 212.5 364.4 213.3 364.4C214.1 364.4 214.9 362.0 215.7 362.0C216.5 362.0 217.3 364.5 218.1 364.5C218.9 364.5 219.7 362.0 220.5 362.0C221.3 362.0 222.1 364.5 222.9 364.5C223.7 364.5 224.5 361.9 225.3 361.9C226.1 361.9 226.9 364.6 227.7 364.6C228.5 364.6 229.3 361.8 230.1 361.8C230.9 361.8 231.7 364.7 232.5 364.7C233.3 364.7 234.1 361.8 234.9 361.8C235.7 361.8 236.5 364.8 237.3 364.8C238.1 364.8 238.9 361.7 239.7 361.7C240.5 361.7 241.3 364.9 242.1 364.9C242.9 364.9 243.7 361.6 244.5 361.6C245.3 361.6 246.1 365.0 246.9 365.0C247.7 365.0 248.5 361.5 249.3 361.5C250.1 361.5 250.9 365.1 251.7 365.1C252.5 365.1 253.3 361.4 254.1 361.4C254.9 361.4 255.7 365.2 256.5 365.2C257.3 365.2 258.1 361.2 258.9 361.2C259.7 361.2 260.5 365.3 261.3 365.3C262.1 365.3 262.9 361.1 263.7 361.1C264.5 361.1 265.3 365.5 266.1 365.5C266.9 365.5 267.7 361.0 268.5 361.0C269.3 361.0 270.1 365.6 270.9 365.6C271.7 365.6 272.5 360.8 273.3 360.8C274.1 360.8 274.9 365.8 275.7 365.8C276.5 365.8 277.3 360.6 278.1 360.6C278.9 360.6 279.7 366.0 280.5 366.0C281.3 366.0 282.1 360.4 282.9 360.4C283.7 360.4 284.5 366.2 285.3 366.2C286.1 366.2 286.9 360.2 287.7 360.2C288.5 360.2 289.3 366.4 290.1 366.4C290.9 366.4 291.7 360.0 292.5 360.0C293.3 360.0 294.1 366.6 294.9 366.6C295.7 366.6 296.5 359.8 297.3 359.8C298.1 359.8 298.9 366.9 299.7 366.9C300.5 366.9 301.3 359.5 302.1 359.5C302.9 359.5 303.7 367.2 304.5 367.2C305.3 367.2 306.1 359.2 306.9 359.2C307.7 359.2 308.5 367.5 309.3 367.5C310.1 367.5 310.9 358.9 311.7 358.9C312.5 358.9 313.3 367.8 314.1 367.8C314.9 367.8 315.7 358.5 316.5 358.5C317.3 358.5 318.1 368.2 318.9 368.2C319.7 368.2 320.5 358.1 321.3 358.1C322.1 358.1 322.9 368.6 323.7 368.6C324.5 368.6 325.3 357.7 326.1 357.7C326.9 357.7 327.7 369.0 328.5 369.0C329.3 369.0 330.1 357.3 330.9 357.3C331.7 357.3 332.5 369.5 333.3 369.5C334.1 369.5 334.9 356.8 335.7 356.8C336.5 356.8 337.3 370.0 338.1 370.0C338.9 370.0 339.7 356.2 340.5 356.2C341.3 356.2 342.1 370.6 342.9 370.6C343.7 370.6 344.5 355.6 345.3 355.6C346.1 355.6 346.9 371.2 347.7 371.2C348.5 371.2 349.3 355.0 350.1 355.0C350.7 355.0 351.4 356.5 352.0 358.3C352.8 360.6 353.7 380.3 354.5 380.3C355.3 380.3 356.2 330.7 357.0 330.7C357.8 330.7 358.6 534.0 359.4 534.0C360.0 534.0 360.7 383.1 361.3 308.7C361.9 234.3 362.6 87.8 363.2 87.8C363.9 87.8 364.5 272.8 365.2 336.3C365.9 399.7 366.5 490.5 367.2 490.5C367.7 490.5 368.3 377.6 368.8 377.6C369.4 377.6 369.9 445.1 370.5 445.1C371.3 445.1 372.2 347.3 373.0 347.3C373.8 347.3 374.7 380.3 375.5 380.3C376.3 380.3 377.2 352.8 378.0 352.8C379.0 352.8 380.0 385.8 381.0 385.8C382.0 385.8 383.0 353.7 384.0 347.3C384.8 341.9 385.7 341.4 386.5 336.3C387.4 330.7 388.3 308.2 389.2 308.2C390.0 308.2 390.7 324.4 391.5 330.7C392.3 337.1 393.0 347.3 393.8 347.3C394.4 347.3 394.9 343.8 395.5 341.8C396.2 339.2 396.9 333.2 397.6 333.2C398.7 333.2 399.7 347.3 400.8 347.3C401.5 347.3 402.2 335.2 402.9 335.2C403.7 335.2 404.4 341.8 405.2 341.8C405.9 341.8 406.7 332.4 407.4 332.4C408.2 332.4 409.0 345.1 409.8 345.1C410.5 345.1 411.3 329.9 412.0 329.9C412.7 329.9 413.3 339.9 414.0 345.9C414.5 350.4 415.0 361.0 415.5 361.0C416.0 361.0 416.5 356.5 417.0 352.8C417.8 347.1 418.5 325.2 419.3 325.2C420.0 325.2 420.8 346.6 421.5 355.5C422.0 361.6 422.5 372.1 423.0 372.1C423.7 372.1 424.3 358.3 425.0 358.3C425.7 358.3 426.4 364.3 427.0 364.3C427.7 364.3 428.4 353.3 429.1 347.8C429.6 344.0 430.0 336.3 430.5 336.3C431.4 336.3 432.3 354.0 433.2 358.4C433.8 361.7 434.5 365.7 435.2 365.7C435.9 365.7 436.6 364.4 437.2 364.4C437.9 364.4 438.6 364.8 439.3 365.2C440.0 365.7 440.6 368.6 441.3 368.6C442.0 368.6 442.7 367.4 443.4 365.5C444.0 363.7 444.7 347.2 445.4 336.9C446.0 327.4 446.7 306.0 447.3 306.0C448.0 306.0 448.8 337.4 449.5 351.3C450.0 361.0 450.5 378.4 451.0 378.4C451.9 378.4 452.7 375.8 453.6 375.8C454.4 375.8 455.2 420.3 456.0 420.3C456.5 420.3 457.1 390.0 457.6 373.3C458.4 349.4 459.2 295.8 460.0 295.8C460.6 295.8 461.1 318.3 461.7 334.3C462.4 353.2 463.1 393.4 463.8 410.6C464.2 421.2 464.6 435.4 465.0 435.4C465.9 435.4 466.9 381.8 467.8 366.6C468.2 360.5 468.6 351.9 469.0 351.9C470.0 351.9 470.9 367.2 471.9 367.2C472.6 367.2 473.3 366.7 474.0 366.1C474.6 365.4 475.3 356.5 476.0 356.5C476.7 356.5 477.4 357.2 478.0 358.2C478.7 359.1 479.4 367.4 480.1 367.4C480.8 367.4 481.4 366.6 482.1 365.6C482.8 364.6 483.5 356.8 484.2 356.6C484.8 356.4 485.5 356.3 486.2 356.3C486.9 356.3 487.6 359.5 488.2 361.1C488.9 362.8 489.6 364.7 490.3 366.3C491.0 367.9 491.6 370.7 492.3 370.7C493.0 370.7 493.7 370.6 494.4 370.4C495.0 370.2 495.7 365.4 496.4 363.2C497.1 361.0 497.8 357.2 498.4 357.2C499.1 357.2 499.8 357.7 500.5 358.2C501.2 358.8 501.8 363.5 502.5 365.0C503.2 366.5 503.9 366.5 504.6 368.3C505.6 371.0 506.6 392.7 507.6 392.7C508.6 392.7 509.7 370.3 510.7 367.6C511.4 365.9 512.0 365.4 512.7 364.3C513.4 363.2 514.1 362.7 514.8 360.9C515.4 359.1 516.1 353.3 516.8 349.0C517.2 346.5 517.6 340.9 518.0 340.9C519.0 340.9 519.9 361.3 520.9 368.7C521.6 374.2 522.3 382.5 523.0 382.5C523.7 382.5 524.3 375.4 525.0 373.1C525.6 370.6 526.3 367.3 527.0 367.3C527.7 367.3 528.4 367.5 529.0 367.5C529.7 367.5 530.4 363.9 531.1 362.8C531.8 361.6 532.4 361.3 533.1 360.0C533.8 358.8 534.5 357.0 535.2 354.3C535.9 351.3 536.7 337.6 537.4 337.6C538.0 337.6 538.6 351.7 539.2 356.2C539.9 361.3 540.6 368.0 541.3 368.0C542.2 368.0 543.1 357.1 544.0 357.1C544.5 357.1 544.9 358.5 545.4 360.0C546.0 362.3 546.7 373.6 547.4 378.5C547.8 381.4 548.2 385.8 548.6 385.8C549.6 385.8 550.5 366.7 551.5 363.3C552.2 360.8 552.8 358.4 553.5 358.4C554.2 358.4 554.9 359.0 555.6 359.0C556.2 359.0 556.9 357.1 557.6 356.7C558.3 356.2 559.0 355.7 559.6 355.7C560.3 355.7 561.0 360.9 561.7 360.9C562.4 360.9 563.0 360.7 563.7 360.3C564.4 359.9 565.1 355.4 565.8 355.4C566.4 355.4 567.1 356.7 567.8 358.2C568.5 359.7 569.2 368.0 569.8 368.4C570.5 368.8 571.2 369.1 571.9 369.1C572.6 369.1 573.2 363.7 573.9 362.6C574.6 361.6 575.3 360.5 576.0 360.5C576.6 360.5 577.3 362.9 578.0 362.9C578.7 362.9 579.4 362.8 580.0 362.8C580.7 362.8 581.4 363.0 582.1 363.2C582.8 363.5 583.4 365.1 584.1 365.5C584.8 366.0 585.5 366.6 586.2 366.6C586.8 366.6 587.5 366.4 588.2 366.3C588.9 366.1 589.6 364.8 590.2 364.1C590.9 363.4 591.6 363.0 592.3 362.2C593.0 361.4 593.6 358.6 594.3 358.6C595.0 358.6 595.7 361.0 596.4 362.4C597.0 363.7 597.7 366.3 598.4 366.8C599.1 367.3 599.8 367.7 600.4 367.7C601.1 367.7 601.8 365.3 602.5 365.3C603.2 365.3 603.8 368.9 604.5 368.9C605.2 368.9 605.9 368.7 606.6 368.2C607.2 367.8 607.9 362.0 608.6 360.2C609.3 358.3 610.0 356.0 610.6 356.0C611.3 356.0 612.0 356.7 612.7 356.7C613.4 356.7 614.0 354.7 614.7 354.7C615.4 354.7 616.1 355.5 616.8 356.4C617.4 357.3 618.1 362.0 618.8 362.6C619.5 363.2 620.2 363.6 620.8 363.6C621.5 363.6 622.2 357.6 622.9 357.6C623.6 357.6 624.2 357.7 624.9 357.9C625.6 358.1 626.3 365.2 627.0 365.3C627.6 365.3 628.3 365.3 629.0 365.3C629.7 365.3 630.4 356.7 631.0 354.2C631.7 351.6 632.4 348.3 633.1 348.3C633.8 348.3 634.4 353.2 635.1 356.1C635.8 359.0 636.5 364.1 637.2 366.3C637.8 368.6 638.5 371.4 639.2 371.4C639.9 371.4 640.6 370.8 641.2 370.3C641.9 369.9 642.6 368.7 643.3 368.7C644.0 368.7 644.6 368.7 645.3 368.7C646.0 368.7 646.7 368.6 647.4 368.6C648.0 368.6 648.7 370.2 649.4 370.2C650.1 370.2 650.8 370.0 651.4 369.8C652.1 369.5 652.8 363.8 653.5 362.1C654.2 360.3 654.8 358.1 655.5 358.1C656.2 358.1 656.9 360.9 657.6 360.9C658.2 360.9 658.9 359.7 659.6 358.7C660.3 357.8 661.0 354.8 661.6 354.8C662.3 354.8 663.0 355.9 663.7 357.1C664.4 358.3 665.0 362.3 665.7 365.1C666.1 366.9 666.6 370.6 667.0 370.6C667.9 370.6 668.9 363.1 669.8 360.4C670.5 358.5 671.2 356.2 671.8 355.5C672.5 354.8 673.2 354.1 673.9 354.1C674.6 354.1 675.2 361.5 675.9 363.4C676.6 365.3 677.3 367.5 678.0 367.5C678.6 367.5 679.3 364.9 680.0 364.6C680.7 364.4 681.4 364.3 682.0 364.3C682.7 364.3 683.4 365.7 684.1 365.7C684.8 365.7 685.4 363.8 686.1 363.2C686.8 362.5 687.5 361.6 688.2 361.6C688.8 361.6 689.5 363.7 690.2 365.9C690.9 368.2 691.6 375.7 692.2 381.0C692.8 385.5 693.4 395.2 694.0 395.2C694.8 395.2 695.5 359.0 696.3 339.5C696.8 326.2 697.4 297.7 697.9 297.7C698.7 297.7 699.6 347.2 700.4 370.3C700.9 385.0 701.5 412.8 702.0 412.8C702.8 412.8 703.7 387.4 704.5 375.8C705.2 366.4 705.8 356.6 706.5 349.0C707.2 340.9 708.0 328.0 708.7 328.0C709.3 328.0 710.0 343.3 710.6 350.6C711.4 359.9 712.2 377.7 713.0 377.7C713.6 377.7 714.1 370.4 714.7 370.4C715.4 370.4 716.0 376.2 716.7 380.9C717.2 384.5 717.8 396.9 718.3 396.9C719.1 396.9 720.0 375.0 720.8 365.0C721.4 358.2 721.9 345.6 722.5 345.6C723.3 345.6 724.1 358.4 724.9 358.5C725.6 358.6 726.2 358.6 726.9 358.7C727.6 358.8 728.3 360.0 729.0 361.2C729.6 362.3 730.3 366.4 731.0 367.0C731.7 367.7 732.4 368.2 733.0 368.2C733.7 368.2 734.4 365.9 735.1 364.4C735.8 363.0 736.4 361.7 737.1 359.3C738.1 355.9 739.0 341.2 740.0 341.2C740.4 341.2 740.8 346.2 741.2 349.5C742.2 358.2 743.3 385.8 744.3 385.8C745.3 385.8 746.3 369.7 747.3 369.7C748.0 369.7 748.7 373.0 749.4 373.0C750.0 373.0 750.7 370.1 751.4 368.4C752.1 366.7 752.8 362.7 753.4 362.7C754.3 362.7 755.1 374.2 756.0 374.2C756.5 374.2 757.0 371.9 757.5 370.3C758.2 368.1 758.9 361.5 759.6 361.5C760.2 361.5 760.9 364.1 761.6 364.8C762.3 365.5 763.0 366.3 763.6 366.3C764.3 366.3 765.0 365.6 765.7 365.2C766.4 364.9 767.0 364.8 767.7 364.2C768.7 363.3 769.6 339.0 770.6 339.0C771.0 339.0 771.4 349.1 771.8 354.0C772.5 363.1 773.3 380.9 774.0 380.9C774.6 380.9 775.3 376.2 775.9 374.3C776.6 372.3 777.2 370.4 777.9 368.9C778.6 367.3 779.3 366.1 780.0 364.9C780.6 363.6 781.3 361.4 782.0 361.4C782.7 361.4 783.4 365.9 784.0 365.9C784.7 365.9 785.4 365.9 786.1 365.9C786.8 365.9 787.4 360.5 788.1 359.5C788.8 358.5 789.5 357.7 790.2 357.7C790.8 357.7 791.5 358.2 792.2 358.2C792.9 358.2 793.6 357.4 794.2 356.4C795.2 355.2 796.1 341.8 797.0 341.8C797.4 341.8 797.9 346.4 798.3 349.4C799.0 354.0 799.7 362.3 800.4 366.2C801.0 370.1 801.7 375.2 802.4 375.2C803.1 375.2 803.8 370.0 804.4 367.8C805.1 365.6 805.8 361.8 806.5 361.8C807.2 361.8 807.8 364.1 808.5 365.7C809.2 367.2 809.9 368.7 810.6 371.2C811.4 374.2 812.2 385.8 813.0 385.8C813.5 385.8 814.1 376.6 814.6 372.8C815.3 368.2 816.0 360.7 816.7 360.7C817.4 360.7 818.0 361.2 818.7 362.0C819.4 362.9 820.1 373.2 820.8 379.2C821.3 383.8 821.8 393.5 822.3 393.5C823.1 393.5 824.0 370.8 824.8 368.4C825.5 366.5 826.2 364.9 826.9 364.9C827.6 364.9 828.2 368.1 828.9 368.1C829.6 368.1 830.3 362.0 831.0 362.0C831.6 362.0 832.3 371.5 833.0 378.2C833.6 383.8 834.1 399.6 834.7 399.6C835.5 399.6 836.3 376.3 837.1 373.2C837.8 370.6 838.4 368.4 839.1 368.4C839.8 368.4 840.5 369.0 841.2 369.0C841.8 369.0 842.5 364.0 843.2 361.9C843.9 359.9 844.6 357.8 845.2 356.6C845.9 355.4 846.6 353.8 847.3 353.8C848.0 353.8 848.6 356.5 849.3 358.5C850.0 360.6 850.7 365.8 851.4 367.7C852.0 369.6 852.7 371.8 853.4 371.8C854.1 371.8 854.8 364.9 855.4 360.7C856.4 354.9 857.3 340.4 858.3 340.4C858.7 340.4 859.1 347.0 859.5 348.8C860.2 351.9 860.9 355.4 861.6 355.4C862.4 355.4 863.3 314.2 864.2 314.2C864.7 314.2 865.2 329.2 865.6 336.7C866.3 347.4 867.0 360.8 867.7 368.7C868.6 379.3 869.5 393.5 870.4 393.5C870.9 393.5 871.3 374.8 871.8 364.5C872.6 346.1 873.4 304.9 874.2 304.9C874.7 304.9 875.3 326.2 875.8 335.1C876.5 346.3 877.2 361.3 877.9 365.0C878.6 368.7 879.2 368.8 879.9 371.7C880.5 374.1 881.0 381.7 881.6 381.7C882.4 381.7 883.2 356.8 884.0 345.2C884.5 338.4 884.9 325.5 885.4 325.5C886.3 325.5 887.2 347.8 888.1 356.4C888.8 363.0 889.4 368.1 890.1 373.6C890.9 380.2 891.8 392.7 892.6 392.7C893.1 392.7 893.7 385.9 894.2 380.3C894.9 373.1 895.6 357.6 896.2 345.5C897.0 332.0 897.7 303.2 898.5 303.2C899.1 303.2 899.7 333.9 900.3 349.3C901.1 369.6 901.9 410.4 902.7 410.4C903.3 410.4 903.8 391.7 904.4 383.9C905.1 374.6 905.8 366.4 906.4 359.0C907.4 349.0 908.3 332.1 909.2 332.1C909.6 332.1 910.1 341.4 910.5 346.8C911.2 355.2 911.9 368.2 912.6 375.5C913.3 383.2 914.0 394.1 914.7 394.1C915.3 394.1 916.0 380.2 916.6 374.0C917.3 367.6 918.0 356.2 918.7 356.2C919.4 356.2 920.0 356.6 920.7 357.0C921.4 357.4 922.1 359.4 922.8 359.4C923.4 359.4 924.1 356.1 924.8 356.1C925.5 356.1 926.2 356.4 926.8 357.0C927.5 357.6 928.2 364.7 928.9 364.7C929.6 364.7 930.2 364.6 930.9 364.3C931.6 364.0 932.3 358.3 933.0 358.1C933.6 357.9 934.3 357.8 935.0 357.8C935.7 357.8 936.4 360.1 937.0 361.3C937.7 362.6 938.4 365.2 939.1 365.2C939.8 365.2 940.4 364.5 941.1 364.2C941.8 363.9 942.5 363.5 943.2 363.5C943.8 363.5 944.5 363.6 945.2 363.8C945.9 364.0 946.6 366.1 947.2 366.3C947.9 366.5 948.6 366.6 949.3 366.6C950.0 366.6 950.6 364.7 951.3 363.7C952.0 362.8 952.7 360.7 953.4 360.7C954.0 360.7 954.7 362.1 955.4 362.8C956.1 363.4 956.8 364.0 957.4 364.9C958.1 365.7 958.8 367.4 959.5 368.1C960.2 368.7 960.8 369.4 961.5 369.4C962.2 369.4 962.9 364.1 963.6 362.4C964.2 360.7 964.9 358.3 965.6 358.3C966.3 358.3 967.0 364.3 967.6 365.6C968.3 366.9 969.0 368.2 969.7 368.2C970.4 368.2 971.0 364.3 971.7 363.3C972.4 362.4 973.1 361.6 973.8 361.4C974.4 361.3 975.1 361.1 975.8 361.1C976.5 361.1 977.2 361.5 977.8 361.6C978.5 361.6 979.2 361.7 979.9 361.7C980.6 361.7 981.2 361.5 981.9 361.5C982.6 361.4 983.3 361.3 984.0 361.3C984.6 361.3 985.3 365.4 986.0 367.3C986.7 369.3 987.4 373.0 988.0 373.0C988.7 373.0 989.4 372.6 990.1 372.0C990.8 371.3 991.4 363.8 992.1 361.6C992.8 359.3 993.5 356.5 994.2 356.5C994.8 356.5 995.5 359.7 996.2 361.4C996.9 363.2 997.6 367.0 998.2 367.0C998.9 367.0 999.6 365.4 1000.3 364.7C1001.0 364.1 1001.6 362.9 1002.3 362.9C1003.0 362.9 1003.7 365.9 1004.4 365.9C1005.0 365.9 1005.7 365.5 1006.4 365.0C1007.4 364.1 1008.4 336.3 1009.4 336.3C1010.4 336.3 1011.5 356.3 1012.5 356.3C1013.2 356.3 1013.9 355.6 1014.6 354.8C1015.5 353.7 1016.5 345.9 1017.4 345.9C1017.8 345.9 1018.2 349.5 1018.6 352.1C1019.3 356.4 1020.0 365.2 1020.7 370.6C1021.4 376.3 1022.1 385.8 1022.8 385.8C1023.5 385.8 1024.1 376.4 1024.8 372.4C1025.4 368.3 1026.1 361.4 1026.8 361.4C1027.5 361.4 1028.2 363.0 1028.8 363.3C1029.5 363.6 1030.2 364.0 1030.9 364.0C1031.6 364.0 1032.2 361.2 1032.9 360.4C1033.6 359.7 1034.3 358.8 1035.0 358.8C1035.6 358.8 1036.3 361.8 1037.0 361.8C1037.7 361.8 1038.4 361.1 1039.0 360.4C1039.7 359.6 1040.4 354.5 1041.1 354.5C1041.8 354.5 1042.4 354.6 1043.1 354.6C1043.8 354.6 1044.5 354.2 1045.2 354.2C1045.8 354.2 1046.5 357.3 1047.2 359.1C1047.9 360.9 1048.6 365.1 1049.2 365.4C1049.9 365.6 1050.6 365.8 1051.3 365.8C1052.0 365.8 1052.6 363.1 1053.3 363.1C1054.0 363.1 1054.7 363.2 1055.4 363.3C1056.0 363.4 1056.7 365.0 1057.4 365.0C1058.1 365.0 1058.8 364.6 1059.4 364.1C1060.1 363.6 1060.8 360.9 1061.5 359.4C1062.2 357.9 1062.8 354.9 1063.5 354.9C1064.2 354.9 1064.9 357.1 1065.6 357.1C1066.2 357.1 1066.9 352.4 1067.6 349.7C1068.2 347.5 1068.7 342.3 1069.3 342.3C1070.1 342.3 1070.9 355.4 1071.7 359.7C1072.4 363.3 1073.0 368.4 1073.7 368.4C1074.4 368.4 1075.1 367.4 1075.8 366.4C1076.4 365.5 1077.1 362.6 1077.8 361.0C1078.5 359.5 1079.2 358.0 1079.8 357.0C1080.5 356.1 1081.2 355.7 1081.9 354.8C1082.6 354.0 1083.2 352.5 1083.9 351.8C1084.6 351.0 1085.3 350.1 1086.0 350.1C1086.6 350.1 1087.3 354.1 1088.0 355.5C1088.7 356.9 1089.4 358.9 1090.0 358.9C1090.7 358.9 1091.4 357.9 1092.1 357.6C1092.8 357.2 1093.4 356.7 1094.1 356.7C1094.8 356.7 1095.5 363.2 1096.2 363.2C1096.8 363.2 1097.5 358.0 1098.2 354.5C1098.8 351.4 1099.4 342.9 1100.0 342.9C1100.8 342.9 1101.5 356.5 1102.3 363.0C1102.9 368.0 1103.4 377.4 1104.0 377.4C1104.8 377.4 1105.6 366.7 1106.4 362.9C1107.0 359.6 1107.7 354.9 1108.4 354.9C1109.1 354.9 1109.8 356.4 1110.4 357.5C1111.1 358.6 1111.8 360.5 1112.5 362.2C1113.2 364.0 1113.8 368.1 1114.5 368.1C1115.2 368.1 1115.9 366.2 1116.6 365.1C1117.2 364.1 1117.9 363.3 1118.6 361.6C1119.6 359.1 1120.5 345.9 1121.5 345.9C1121.9 345.9 1122.3 355.0 1122.7 355.0C1123.1 355.0 1123.6 345.4 1124.0 344.5C1124.9 342.7 1125.9 341.8 1126.8 341.8C1127.5 341.8 1128.1 354.9 1128.8 354.9C1129.2 354.9 1129.6 345.9 1130.0 345.9C1131.0 345.9 1131.9 363.7 1132.9 363.7C1133.6 363.7 1134.2 359.3 1134.9 359.2C1135.6 359.1 1136.3 359.0 1137.0 359.0C1137.6 359.0 1138.3 363.6 1139.0 363.6C1139.7 363.6 1140.4 362.7 1141.0 361.9C1141.7 361.1 1142.4 357.5 1143.1 357.5C1143.8 357.5 1144.4 360.4 1145.1 362.1C1145.8 363.8 1146.5 367.7 1147.2 367.7C1147.8 367.7 1148.5 366.5 1149.2 366.1C1149.9 365.7 1150.6 365.3 1151.2 365.3C1151.9 365.3 1152.6 368.4 1153.3 369.4C1154.0 370.4 1154.6 371.6 1155.3 371.6C1156.0 371.6 1156.7 368.3 1157.4 367.6C1158.0 366.8 1158.7 366.5 1159.4 366.0C1160.1 365.5 1160.8 365.4 1161.4 364.7C1162.1 364.0 1162.8 361.0 1163.5 360.4C1164.2 359.8 1164.8 359.2 1165.5 359.2C1166.2 359.2 1166.9 360.4 1167.6 360.9C1168.2 361.4 1168.9 362.3 1169.6 362.3C1170.3 362.3 1171.0 360.9 1171.6 359.6C1172.3 358.2 1173.0 352.1 1173.7 352.1C1174.4 352.1 1175.0 353.3 1175.7 354.4C1176.4 355.6 1177.1 358.9 1177.8 360.7C1178.4 362.5 1179.1 365.6 1179.8 365.6C1180.5 365.6 1181.2 364.0 1181.8 362.6C1182.5 361.2 1183.2 355.4 1183.9 355.4C1184.6 355.4 1185.2 357.6 1185.9 359.6C1186.6 361.5 1187.3 368.0 1188.0 370.0C1188.6 372.0 1189.3 374.2 1190.0 374.2C1190.7 374.2 1191.4 373.4 1192.0 373.2C1192.7 373.0 1193.4 372.8 1194.1 372.8C1194.8 372.8 1195.4 372.8 1196.1 372.9C1196.8 373.0 1197.5 374.9 1198.2 376.5C1198.8 377.9 1199.4 382.8 1200.0 382.8C1200.7 382.8 1201.5 370.6 1202.2 367.9C1202.9 365.4 1203.6 362.7 1204.3 362.7C1205.0 362.7 1205.6 366.9 1206.3 370.1C1207.3 374.7 1208.2 391.3 1209.2 391.3C1209.6 391.3 1210.0 382.8 1210.4 377.3C1211.4 363.3 1212.4 321.7 1213.4 321.7C1214.8 321.7 1216.2 391.3 1217.6 391.3C1218.6 391.3 1219.6 369.8 1220.6 361.2C1221.4 354.3 1222.2 342.9 1223.0 342.9C1223.6 342.9 1224.1 351.9 1224.7 355.5C1225.4 359.9 1226.0 366.9 1226.7 366.9C1227.4 366.9 1228.1 364.0 1228.8 363.3C1229.4 362.6 1230.1 361.8 1230.8 361.8C1231.5 361.8 1232.2 363.5 1232.8 363.5C1233.5 363.5 1234.2 359.8 1234.9 359.0C1235.6 358.2 1236.2 357.4 1236.9 357.4C1237.6 357.4 1238.3 359.1 1239.0 360.2C1239.6 361.4 1240.3 364.8 1241.0 364.8C1241.7 364.8 1242.4 362.7 1243.0 361.5C1243.7 360.3 1244.4 357.7 1245.1 357.7C1245.8 357.7 1246.4 358.7 1247.1 359.6C1247.8 360.6 1248.5 364.8 1249.2 364.8C1249.8 364.8 1250.5 364.1 1251.2 363.4C1251.9 362.8 1252.6 360.1 1253.2 360.1C1253.9 360.1 1254.6 360.5 1255.3 361.0C1256.0 361.5 1256.6 364.0 1257.3 365.4C1258.0 366.8 1258.7 369.6 1259.4 369.6C1260.0 369.6 1260.7 368.5 1261.4 367.8C1262.1 367.1 1262.8 365.1 1263.4 365.1C1264.1 365.1 1264.8 365.8 1265.5 366.1C1266.2 366.5 1266.8 367.4 1267.5 367.4C1268.2 367.4 1268.9 362.0 1269.6 360.6C1270.2 359.2 1270.9 357.7 1271.6 357.7C1272.3 357.7 1273.0 360.7 1273.6 362.8C1274.3 364.9 1275.0 370.9 1275.7 370.9C1276.4 370.9 1277.0 370.0 1277.7 369.0C1278.4 368.1 1279.1 365.0 1279.8 363.4C1280.4 361.8 1281.1 359.8 1281.8 359.1C1282.5 358.4 1283.2 358.4 1283.8 357.6C1284.8 356.5 1285.8 345.9 1286.8 345.9C1287.2 345.9 1287.5 349.0 1287.9 350.6C1288.6 353.6 1289.3 359.4 1290.0 360.1C1290.6 360.8 1291.3 360.6 1292.0 361.2C1292.7 361.8 1293.4 363.8 1294.0 365.1C1294.7 366.4 1295.4 368.1 1296.1 368.8C1296.8 369.5 1297.4 370.3 1298.1 370.3C1298.8 370.3 1299.5 370.3 1300.2 370.2C1300.8 370.2 1301.5 368.4 1302.2 367.1C1302.9 365.8 1303.6 363.3 1304.2 362.0C1304.9 360.6 1305.6 358.5 1306.3 358.5C1307.0 358.5 1307.6 359.4 1308.3 359.4C1309.0 359.4 1309.7 359.3 1310.4 359.3C1311.0 359.2 1311.7 357.5 1312.4 356.5C1313.1 355.6 1313.8 353.7 1314.4 353.7C1315.1 353.7 1315.8 356.0 1316.5 357.6C1317.2 359.1 1317.8 363.3 1318.5 363.3C1319.2 363.3 1319.9 362.6 1320.6 362.6C1321.2 362.6 1321.9 362.6 1322.6 362.6C1323.3 362.7 1324.0 366.8 1324.6 369.8C1325.4 373.3 1326.2 384.2 1327.0 384.2C1327.6 384.2 1328.1 376.7 1328.7 374.7C1329.4 372.3 1330.1 370.1 1330.8 369.5C1331.4 368.9 1332.1 369.0 1332.8 368.4C1333.5 367.8 1334.2 362.1 1334.8 360.1C1335.5 358.0 1336.2 355.3 1336.9 355.3C1337.6 355.3 1338.2 355.8 1338.9 356.4C1339.6 357.0 1340.3 361.1 1341.0 361.9C1341.6 362.8 1342.3 363.7 1343.0 363.7C1343.7 363.7 1344.4 361.0 1345.0 360.5C1345.7 360.0 1346.4 359.5 1347.1 359.5C1347.8 359.5 1348.4 361.7 1349.1 361.7C1349.8 361.7 1350.5 359.8 1351.2 358.0C1352.1 355.4 1353.1 341.8 1354.1 341.8C1354.5 341.8 1354.9 347.5 1355.2 350.9C1356.2 358.9 1357.1 378.9 1358.0 378.9C1358.4 378.9 1358.9 372.6 1359.3 369.5C1360.0 364.8 1360.7 355.7 1361.4 355.7C1362.0 355.7 1362.7 355.8 1363.4 355.8C1364.1 355.8 1364.8 354.6 1365.4 354.6C1366.1 354.6 1366.8 357.4 1367.5 359.3C1368.2 361.3 1368.8 366.1 1369.5 367.2C1370.2 368.3 1370.9 369.3 1371.6 369.3C1372.2 369.3 1372.9 368.2 1373.6 367.4C1374.3 366.6 1375.0 365.6 1375.6 363.8C1376.3 362.0 1377.0 357.3 1377.7 353.7C1378.2 350.9 1378.8 344.5 1379.3 344.5C1380.1 344.5 1380.9 359.0 1381.8 361.9C1382.4 364.3 1383.1 366.9 1383.8 366.9C1384.5 366.9 1385.2 365.3 1385.8 364.7C1386.5 364.1 1387.2 363.3 1387.9 363.3C1388.6 363.3 1389.2 363.4 1389.9 363.6C1390.6 363.8 1391.3 366.6 1392.0 367.7C1392.6 368.7 1393.3 370.1 1394.0 370.1C1394.7 370.1 1395.4 367.4 1396.0 365.4C1396.7 363.3 1397.4 358.4 1398.1 357.0C1398.8 355.7 1399.4 354.3 1400.1 354.3C1400.8 354.3 1401.5 354.5 1402.2 354.5C1402.8 354.5 1403.5 354.1 1404.2 354.1C1404.9 354.1 1405.6 357.4 1406.2 359.4C1406.9 361.4 1407.6 364.8 1408.3 366.2C1409.0 367.6 1409.6 369.3 1410.3 369.3C1411.0 369.3 1411.7 366.3 1412.4 364.2C1413.0 362.2 1413.7 359.1 1414.4 356.5" stroke="#e6780a"/>
<path d="M38.1 362.4C38.9 362.8 39.7 363.6 40.5 363.6C41.3 363.6 42.1 362.4 42.9 362.4C43.7 362.4 44.5 363.6 45.3 363.6C46.1 363.6 46.9 362.4 47.7 362.4C48.5 362.4 49.3 363.6 50.1 363.6C50.9 363.6 51.7 362.4 52.5 362.4C53.3 362.4 54.1 363.6 54.9 363.6C55.7 363.6 56.5 362.4 57.3 362.4C58.1 362.4 58.9 363.6 59.7 363.6C60.5 363.6 61.3 362.4 62.1 362.4C62.9 362.4 63.7 363.6 64.5 363.6C65.3 363.6 66.1 362.4 66.9 362.4C67.7 362.4 68.5 363.6 69.3 363.6C70.1 363.6 70.9 362.4 71.7 362.4C72.5 362.4 73.3 363.6 74.1 363.6C74.9 363.6 75.7 362.4 76.5 362.4C77.3 362.4 78.1 363.6 78.9 363.6C79.7 363.6 80.5 362.4 81.3 362.4C82.1 362.4 82.9 363.6 83.7 363.6C84.5 363.6 85.3 362.4 86.1 362.4C86.9 362.4 87.7 363.6 88.5 363.6C89.3 363.6 90.1 362.4 90.9 362.4C91.7 362.4 92.5 363.6 93.3 363.6C94.1 363.6 94.9 362.3 95.7 362.3C96.5 362.3 97.3 363.6 98.1 363.6C98.9 363.6 99.7 362.3 100.5 362.3C101.3 362.3 102.1 363.6 102.9 363.6C103.7 363.6 104.5 362.3 105.3 362.3C106.1 362.3 106.9 363.6 107.7 363.6C108.5 363.6 109.3 362.3 110.1 362.3C110.9 362.3 111.7 363.6 112.5 363.6C113.3 363.6 114.1 362.3 114.9 362.3C115.7 362.3 116.5 363.6 117.3 363.6C118.1 363.6 118.9 362.3 119.7 362.3C120.5 362.3 121.3 363.7 122.1 363.7C122.9 363.7 123.7 362.3 124.5 362.3C125.3 362.3 126.1 363.7 126.9 363.7C127.7 363.7 128.5 362.3 129.3 362.3C130.1 362.3 130.9 363.7 131.7 363.7C132.5 363.7 133.3 362.3 134.1 362.3C134.9 362.3 135.7 363.7 136.5 363.7C137.3 363.7 138.1 362.2 138.9 362.2C139.7 362.2 140.5 363.7 141.3 363.7C142.1 363.7 142.9 362.2 143.7 362.2C144.5 362.2 145.3 363.7 146.1 363.7C146.9 363.7 147.7 362.2 148.5 362.2C149.3 362.2 150.1 363.7 150.9 363.7C151.7 363.7 152.5 362.2 153.3 362.2C154.1 362.2 154.9 363.8 155.7 363.8C156.5 363.8 157.3 362.2 158.1 362.2C158.9 362.2 159.7 363.8 160.5 363.8C161.3 363.8 162.1 362.2 162.9 362.2C163.7 362.2 164.5 363.8 165.3 363.8C166.1 363.8 166.9 362.1 167.7 362.1C168.5 362.1 169.3 363.8 170.1 363.8C170.9 363.8 171.7 362.1 172.5 362.1C173.3 362.1 174.1 363.9 174.9 363.9C175.7 363.9 176.5 362.1 177.3 362.1C178.1 362.1 178.9 363.9 179.7 363.9C180.5 363.9 181.3 362.0 182.1 362.0C182.9 362.0 183.7 363.9 184.5 363.9C185.3 363.9 186.1 362.0 186.9 362.0C187.7 362.0 188.5 364.0 189.3 364.0C190.1 364.0 190.9 362.0 191.7 362.0C192.5 362.0 193.3 364.0 194.1 364.0C194.9 364.0 195.7 361.9 196.5 361.9C197.3 361.9 198.1 364.0 198.9 364.0C199.7 364.0 200.5 361.9 201.3 361.9C202.1 361.9 202.9 364.1 203.7 364.1C204.5 364.1 205.3 361.8 206.1 361.8C206.9 361.8 207.7 364.1 208.5 364.1C209.3 364.1 210.1 361.8 210.9 361.8C211.7 361.8 212.5 364.2 213.3 364.2C214.1 364.2 214.9 361.7 215.7 361.7C216.5 361.7 217.3 364.3 218.1 364.3C218.9 364.3 219.7 361.7 220.5 361.7C221.3 361.7 222.1 364.3 222.9 364.3C223.7 364.3 224.5 361.6 225.3 361.6C226.1 361.6 226.9 364.4 227.7 364.4C228.5 364.4 229.3 361.5 230.1 361.5C230.9 361.5 231.7 364.5 232.5 364.5C233.3 364.5 234.1 361.4 234.9 361.4C235.7 361.4 236.5 364.6 237.3 364.6C238.1 364.6 238.9 361.3 239.7 361.3C240.5 361.3 241.3 364.7 242.1 364.7C242.9 364.7 243.7 361.2 244.5 361.2C245.3 361.2 246.1 364.8 246.9 364.8C247.7 364.8 248.5 361.1 249.3 361.1C250.1 361.1 250.9 364.9 251.7 364.9C252.5 364.9 253.3 361.0 254.1 361.0C254.9 361.0 255.7 365.0 256.5 365.0C257.3 365.0 258.1 360.9 258.9 360.9C259.7 360.9 260.5 365.1 261.3 365.1C262.1 365.1 262.9 360.8 263.7 360.8C264.5 360.8 265.3 365.3 266.1 365.3C266.9 365.3 267.7 360.6 268.5 360.6C269.3 360.6 270.1 365.4 270.9 365.4C271.7 365.4 272.5 360.4 273.3 360.4C274.1 360.4 274.9 365.6 275.7 365.6C276.5 365.6 277.3 360.3 278.1 360.3C278.9 360.3 279.7 365.8 280.5 365.8C281.3 365.8 282.1 360.1 282.9 360.1C283.7 360.1 284.5 366.0 285.3 366.0C286.1 366.0 286.9 359.8 287.7 359.8C288.5 359.8 289.3 366.2 290.1 366.2C290.9 366.2 291.7 359.6 292.5 359.6C293.3 359.6 294.1 366.5 294.9 366.5C295.7 366.5 296.5 359.4 297.3 359.4C298.1 359.4 298.9 366.7 299.7 366.7C300.5 366.7 301.3 359.1 302.1 359.1C302.9 359.1 303.7 367.0 304.5 367.0C305.3 367.0 306.1 358.8 306.9 358.8C307.7 358.8 308.5 367.3 309.3 367.3C310.1 367.3 310.9 358.4 311.7 358.4C312.5 358.4 313.3 367.7 314.1 367.7C314.9 367.7 315.7 358.1 316.5 358.1C317.3 358.1 318.1 368.1 318.9 368.1C319.7 368.1 320.5 357.7 321.3 357.7C322.1 357.7 322.9 368.5 323.7 368.5C324.5 368.5 325.3 357.2 326.1 357.2C326.9 357.2 327.7 368.9 328.5 368.9C329.3 368.9 330.1 356.8 330.9 356.8C331.7 356.8 332.5 369.4 333.3 369.4C334.1 369.4 334.9 356.3 335.7 356.3C336.5 356.3 337.3 370.0 338.1 370.0C338.9 370.0 339.7 355.7 340.5 355.7C341.3 355.7 342.1 370.6 342.9 370.6C343.7 370.6 344.5 355.1 345.3 355.1C346.2 355.1 347.1 358.1 348.0 361.0C348.8 363.9 349.7 377.6 350.5 377.6C351.3 377.6 352.2 344.5 353.0 344.5C353.8 344.5 354.7 407.9 355.5 407.9C356.5 407.9 357.4 193.0 358.4 193.0C359.6 193.0 360.7 638.6 361.9 638.6C363.1 638.6 364.2 275.7 365.4 275.7C366.3 275.7 367.1 396.9 368.0 396.9C368.8 396.9 369.6 293.6 370.4 293.6C371.3 293.6 372.1 391.3 373.0 391.3C374.0 391.3 375.0 363.3 376.0 347.3C377.2 328.5 378.3 285.0 379.5 285.0C380.7 285.0 381.8 374.6 383.0 380.3C384.0 385.2 385.0 388.6 386.0 388.6C387.2 388.6 388.3 356.1 389.5 341.8C390.7 327.4 391.8 301.8 393.0 301.8C394.2 301.8 395.3 340.1 396.5 352.8C397.3 361.8 398.2 374.8 399.0 374.8C399.7 374.8 400.4 369.2 401.0 369.2C401.7 369.2 402.3 380.5 403.0 380.5C403.7 380.5 404.4 369.5 405.1 366.3C405.8 363.3 406.5 359.4 407.2 359.4C407.8 359.4 408.5 373.3 409.2 381.4C409.8 388.6 410.4 405.7 411.0 405.7C411.8 405.7 412.5 383.7 413.3 376.2C414.2 367.2 415.1 354.7 416.0 354.7C416.5 354.7 416.9 357.7 417.4 359.2C418.0 361.6 418.7 364.3 419.4 366.7C420.1 369.1 420.8 369.9 421.4 373.6C422.3 378.1 423.1 409.5 424.0 409.5C424.5 409.5 425.0 395.2 425.5 388.5C426.2 379.5 426.9 363.3 427.6 362.8C428.0 362.4 428.5 362.1 429.0 362.1C429.9 362.1 430.8 367.5 431.6 368.8C432.3 369.9 433.0 371.1 433.7 371.1C434.4 371.1 435.0 370.6 435.7 370.2C436.4 369.8 437.1 369.2 437.8 368.7C438.4 368.3 439.1 367.2 439.8 367.2C440.5 367.2 441.2 368.2 441.8 368.2C442.5 368.2 443.2 353.9 443.9 346.0C444.5 339.3 445.0 324.4 445.6 324.4C446.7 324.4 447.9 369.8 449.0 385.8C450.3 404.8 451.7 432.1 453.0 432.1C454.0 432.1 455.1 353.0 456.1 326.5C456.5 315.7 457.0 299.1 457.4 299.1C458.3 299.1 459.3 350.5 460.2 365.6C460.8 375.4 461.4 388.6 462.0 388.6C462.8 388.6 463.5 374.2 464.3 369.7C465.0 365.7 465.6 364.3 466.3 360.4C467.0 356.4 467.7 350.5 468.4 344.1C468.9 338.9 469.5 325.2 470.0 325.2C470.8 325.2 471.6 354.4 472.4 366.8C473.0 374.7 473.5 388.7 474.0 388.7C474.8 388.7 475.7 382.3 476.5 378.7C477.2 375.7 477.9 371.9 478.6 369.1C479.2 366.2 479.9 363.5 480.6 361.3C481.3 359.1 482.0 356.7 482.6 355.7C483.3 354.8 484.0 354.2 484.7 353.8C485.4 353.5 486.0 353.0 486.7 353.0C487.4 353.0 488.1 353.8 488.8 353.8C489.4 353.8 490.1 352.5 490.8 351.0C491.5 349.3 492.3 336.3 493.0 336.3C493.6 336.3 494.3 346.6 494.9 353.8C495.6 361.7 496.2 374.3 496.9 385.0C497.6 395.8 498.3 418.3 499.0 418.3C499.7 418.3 500.3 392.1 501.0 381.0C502.0 364.3 503.0 336.3 504.0 336.3C505.0 336.3 506.1 363.8 507.1 363.8C508.0 363.8 508.9 337.4 509.8 337.4C510.3 337.4 510.7 345.1 511.2 348.3C511.9 353.0 512.6 359.3 513.2 360.6C513.9 361.9 514.6 362.7 515.3 362.9C516.0 363.2 516.6 363.4 517.3 363.4C518.0 363.4 518.7 361.1 519.4 361.1C520.0 361.1 520.7 361.4 521.4 361.8C522.1 362.3 522.8 368.0 523.4 368.0C524.1 368.0 524.8 364.5 525.5 363.4C526.2 362.3 526.8 360.7 527.5 360.7C528.2 360.7 528.9 361.1 529.6 361.4C530.2 361.7 530.9 363.1 531.6 363.2C532.3 363.2 533.0 363.2 533.6 363.2C534.3 363.2 535.0 368.8 535.7 368.8C536.4 368.8 537.0 367.1 537.7 366.8C538.4 366.5 539.1 366.2 539.8 366.2C540.4 366.2 541.1 367.8 541.8 367.8C542.5 367.8 543.2 367.2 543.8 366.5C544.5 365.7 545.2 355.4 545.9 355.4C546.6 355.4 547.2 356.5 547.9 357.8C548.6 359.2 549.3 367.3 550.0 370.0C550.6 372.7 551.3 376.0 552.0 376.0C552.7 376.0 553.4 375.9 554.0 375.6C554.7 375.4 555.4 372.1 556.1 369.2C556.8 366.3 557.4 357.5 558.1 355.7C558.8 354.0 559.5 352.5 560.2 352.5C560.8 352.5 561.5 361.4 562.2 364.6C563.1 369.0 564.1 375.3 565.0 375.3C565.4 375.3 565.9 367.2 566.3 363.9C567.0 358.6 567.6 350.4 568.3 350.4C569.0 350.4 569.7 357.1 570.4 360.3C571.0 363.6 571.7 367.6 572.4 369.9C573.3 372.8 574.1 376.7 575.0 376.7C575.5 376.7 576.0 368.0 576.5 366.6C577.2 364.6 577.8 363.1 578.5 363.1C579.2 363.1 579.9 366.4 580.6 366.4C581.2 366.4 581.9 366.2 582.6 365.9C583.3 365.7 584.0 365.0 584.6 364.4C585.3 363.8 586.0 363.3 586.7 362.1C587.4 361.0 588.0 355.2 588.7 355.2C589.4 355.2 590.1 356.9 590.8 358.4C591.4 359.9 592.1 366.3 592.8 366.3C593.5 366.3 594.2 363.8 594.8 361.8C595.5 359.8 596.2 353.4 596.9 353.4C597.6 353.4 598.2 354.5 598.9 355.7C599.6 356.8 600.3 360.3 601.0 362.9C601.6 365.4 602.3 368.5 603.0 370.9C603.7 373.4 604.4 377.6 605.0 377.6C605.7 377.6 606.4 376.2 607.1 375.0C607.8 373.9 608.4 370.3 609.1 370.3C609.8 370.3 610.5 372.7 611.2 372.7C611.8 372.7 612.5 371.1 613.2 369.5C613.9 367.9 614.6 360.8 615.2 358.9C615.9 357.0 616.6 355.0 617.3 355.0C618.0 355.0 618.6 357.7 619.3 358.1C620.0 358.6 620.7 358.9 621.4 358.9C622.0 358.9 622.7 358.6 623.4 358.1C624.1 357.7 624.8 355.0 625.4 353.2C626.1 351.4 626.8 347.3 627.5 347.3C628.2 347.3 628.8 350.5 629.5 353.4C630.2 356.3 630.9 367.3 631.6 368.2C632.2 369.0 632.9 369.5 633.6 369.5C634.3 369.5 635.0 357.8 635.6 356.8C636.3 355.9 637.0 355.2 637.7 355.2C638.4 355.2 639.0 359.5 639.7 362.4C640.4 365.2 641.1 369.3 641.8 373.1C642.4 376.8 643.1 384.7 643.8 384.7C644.5 384.7 645.2 379.0 645.8 375.9C646.5 372.8 647.2 368.7 647.9 366.1C648.6 363.5 649.2 359.8 649.9 359.6C650.6 359.3 651.3 359.1 652.0 359.1C652.6 359.1 653.3 359.8 654.0 360.2C654.7 360.6 655.4 360.9 656.0 361.6C656.7 362.4 657.4 367.7 658.1 367.7C658.8 367.7 659.4 367.1 660.1 366.3C660.8 365.5 661.5 357.8 662.2 357.8C662.8 357.8 663.5 358.8 664.2 359.7C664.9 360.5 665.6 364.0 666.2 364.0C666.9 364.0 667.6 361.7 668.3 360.6C669.0 359.4 669.6 357.1 670.3 357.1C671.0 357.1 671.7 359.0 672.4 360.5C673.0 362.1 673.7 365.6 674.4 368.3C675.1 371.1 675.8 376.9 676.4 376.9C677.1 376.9 677.8 375.6 678.5 374.2C679.2 372.8 679.8 367.2 680.5 364.0C681.2 360.7 681.9 356.4 682.6 354.5C683.2 352.6 683.9 350.5 684.6 350.5C685.3 350.5 686.0 351.4 686.6 352.2C687.3 353.0 688.0 355.8 688.7 355.8C689.4 355.8 690.0 355.3 690.7 355.3C691.4 355.2 692.1 355.2 692.8 355.2C693.4 355.2 694.1 357.1 694.8 358.2C695.5 359.4 696.2 361.4 696.8 362.5C697.5 363.7 698.2 365.4 698.9 365.4C699.6 365.4 700.2 363.6 700.9 362.3C701.6 361.0 702.3 358.3 703.0 357.0C703.6 355.6 704.3 353.7 705.0 353.7C705.7 353.7 706.4 354.2 707.0 354.2C707.7 354.2 708.4 352.7 709.1 352.6C709.8 352.5 710.4 352.5 711.1 352.4C711.8 352.4 712.5 352.2 713.2 352.2C713.8 352.2 714.5 357.1 715.2 358.2C715.9 359.2 716.6 359.5 717.2 360.3C717.9 361.1 718.6 361.8 719.3 363.0C720.0 364.3 720.6 369.6 721.3 369.7C722.0 369.7 722.7 369.7 723.4 369.7C724.0 369.7 724.7 357.7 725.4 356.3C726.1 354.9 726.8 353.8 727.4 353.8C728.1 353.8 728.8 365.8 729.5 365.8C730.2 365.8 730.8 361.6 731.5 358.0C732.1 354.6 732.8 341.5 733.4 341.5C734.1 341.5 734.9 355.6 735.6 359.9C736.3 364.0 737.0 365.7 737.6 369.3C738.3 373.0 739.0 378.3 739.7 382.4C740.1 385.1 740.6 390.2 741.0 390.2C741.9 390.2 742.8 379.2 743.8 370.9C744.8 361.7 745.8 332.1 746.8 332.1C747.8 332.1 748.9 365.5 749.9 365.5C750.6 365.5 751.2 363.7 751.9 363.7C752.6 363.7 753.3 365.3 754.0 366.4C754.6 367.5 755.3 370.8 756.0 370.8C756.7 370.8 757.4 370.4 758.0 370.0C758.7 369.7 759.4 368.9 760.1 367.7C760.8 366.6 761.4 362.4 762.1 360.6C762.8 358.9 763.5 356.5 764.2 356.5C764.8 356.5 765.5 359.0 766.2 359.3C766.9 359.6 767.6 359.8 768.2 359.8C768.9 359.8 769.6 356.1 770.3 356.1C771.0 356.1 771.6 358.5 772.3 359.2C773.0 360.0 773.7 360.5 774.4 361.0C775.0 361.5 775.7 362.4 776.4 362.4C777.1 362.4 777.8 360.0 778.4 358.0C779.3 355.4 780.1 344.5 781.0 344.5C781.5 344.5 782.0 349.2 782.5 351.3C783.2 354.0 783.9 358.8 784.6 358.8C785.2 358.8 785.9 358.8 786.6 358.8C787.3 358.8 788.0 363.0 788.6 363.7C789.3 364.4 790.0 365.1 790.7 365.1C791.4 365.1 792.0 363.2 792.7 363.2C793.4 363.2 794.1 365.3 794.8 366.6C795.4 368.0 796.1 371.4 796.8 371.4C797.5 371.4 798.2 359.8 798.8 353.0C799.5 346.5 800.1 331.3 800.8 331.3C801.5 331.3 802.2 344.0 802.9 348.7C803.6 353.3 804.3 354.9 805.0 360.4C805.6 365.8 806.3 378.0 807.0 388.3C807.6 396.9 808.1 417.0 808.7 417.0C809.5 417.0 810.3 374.7 811.1 353.7C811.7 336.8 812.4 303.2 813.0 303.2C813.7 303.2 814.4 327.5 815.2 338.1C815.8 348.1 816.5 359.7 817.2 365.7C818.1 373.4 818.9 382.5 819.8 382.5C820.3 382.5 820.8 376.5 821.3 372.7C822.0 367.4 822.6 357.4 823.3 353.3C823.9 349.9 824.4 345.6 825.0 345.6C825.8 345.6 826.6 355.5 827.4 357.8C828.1 359.7 828.8 360.8 829.4 361.9C830.1 362.9 830.8 363.1 831.5 364.4C832.2 365.6 832.8 371.7 833.5 371.7C834.2 371.7 834.9 371.3 835.6 370.7C836.2 370.2 836.9 367.2 837.6 365.8C838.3 364.4 839.0 362.1 839.6 362.1C840.3 362.1 841.0 364.0 841.7 364.6C842.4 365.1 843.0 365.9 843.7 365.9C844.4 365.9 845.1 365.7 845.8 365.7C846.4 365.7 847.1 367.6 847.8 369.7C848.6 372.3 849.5 390.2 850.3 390.2C850.8 390.2 851.4 381.2 851.9 375.4C852.6 368.0 853.2 354.5 853.9 347.7C854.4 343.0 854.8 336.3 855.3 336.3C856.2 336.3 857.1 362.0 858.0 364.3C858.7 366.1 859.4 367.5 860.0 367.5C860.7 367.5 861.4 367.4 862.1 367.4C862.8 367.4 863.4 370.8 864.1 370.8C864.8 370.8 865.5 370.7 866.2 370.6C866.8 370.5 867.5 367.4 868.2 366.6C868.9 365.8 869.6 364.9 870.2 364.9C870.9 364.9 871.6 364.9 872.3 365.0C873.0 365.0 873.6 365.4 874.3 365.4C875.0 365.4 875.7 365.3 876.4 365.2C877.0 365.2 877.7 363.2 878.4 361.9C879.1 360.6 879.8 357.1 880.4 357.1C881.1 357.1 881.8 359.5 882.5 359.9C883.2 360.3 883.8 360.6 884.5 360.6C885.2 360.6 885.9 359.2 886.6 359.2C887.2 359.2 887.9 361.9 888.6 363.7C889.3 365.4 890.0 370.1 890.6 370.1C891.3 370.1 892.0 370.0 892.7 369.8C893.4 369.6 894.0 366.1 894.7 364.0C895.4 361.8 896.1 356.8 896.8 356.8C897.4 356.8 898.1 357.4 898.8 358.3C899.5 359.3 900.2 369.5 900.8 375.6C901.6 382.2 902.3 396.9 903.0 396.9C903.6 396.9 904.3 383.8 904.9 378.5C905.6 372.8 906.3 365.4 907.0 363.4C907.6 361.5 908.3 361.0 909.0 359.8C909.7 358.5 910.4 356.0 911.0 356.0C911.7 356.0 912.4 359.0 913.1 360.9C913.8 362.9 914.4 368.2 915.1 368.2C915.8 368.2 916.5 367.6 917.2 366.8C917.8 366.0 918.5 359.4 919.2 357.7C919.9 356.0 920.6 354.2 921.2 354.2C921.9 354.2 922.6 355.5 923.3 355.5C924.0 355.5 924.6 354.9 925.3 354.4C926.0 354.0 926.7 352.9 927.4 352.9C928.0 352.9 928.7 356.1 929.4 356.5C930.1 357.0 930.8 357.4 931.4 357.4C932.1 357.4 932.8 353.1 933.5 353.1C934.2 353.1 934.8 354.1 935.5 355.3C936.2 356.5 936.9 363.5 937.6 366.5C938.2 369.5 938.9 374.0 939.6 374.0C940.3 374.0 941.0 371.0 941.6 369.8C942.3 368.6 943.0 366.6 943.7 366.6C944.4 366.6 945.0 368.3 945.7 368.9C946.4 369.4 947.1 369.4 947.8 370.2C948.6 371.2 949.5 383.9 950.3 383.9C950.8 383.9 951.3 375.3 951.8 372.2C952.5 368.1 953.2 362.1 953.9 362.1C954.6 362.1 955.2 365.5 955.9 365.5C956.6 365.5 957.3 365.2 958.0 364.8C958.6 364.4 959.3 362.2 960.0 361.4C960.7 360.6 961.4 359.4 962.0 359.4C962.7 359.4 963.4 363.7 964.1 364.8C964.8 365.9 965.4 367.3 966.1 367.3C966.8 367.3 967.5 363.5 968.2 360.4C969.1 356.3 970.0 340.4 970.9 340.4C971.3 340.4 971.8 349.7 972.2 355.7C973.2 368.1 974.1 403.5 975.0 403.5C975.4 403.5 975.9 394.9 976.3 388.7C977.0 379.1 977.7 355.5 978.4 347.4C978.8 342.5 979.2 336.5 979.6 336.5C980.5 336.5 981.5 351.0 982.4 352.4C983.1 353.4 983.8 353.3 984.5 354.2C985.2 355.0 985.8 358.2 986.5 359.4C987.2 360.6 987.9 362.1 988.6 362.1C989.2 362.1 989.9 360.5 990.6 359.5C991.3 358.4 992.0 357.1 992.6 355.8C993.3 354.5 994.0 351.5 994.7 351.5C995.4 351.5 996.0 353.0 996.7 353.2C997.4 353.4 998.1 353.3 998.8 353.5C999.4 353.7 1000.1 354.7 1000.8 355.3C1001.5 355.9 1002.2 356.9 1002.8 356.9C1003.5 356.9 1004.2 356.1 1004.9 356.1C1005.6 356.1 1006.2 358.4 1006.9 360.1C1007.6 361.7 1008.3 366.3 1009.0 366.7C1009.6 367.1 1010.3 367.3 1011.0 367.3C1011.7 367.3 1012.4 367.1 1013.0 367.1C1013.7 367.1 1014.4 369.4 1015.1 369.4C1015.8 369.4 1016.4 364.8 1017.1 363.0C1017.8 361.2 1018.5 358.4 1019.2 358.4C1019.8 358.4 1020.5 363.8 1021.2 365.5C1021.9 367.2 1022.6 369.4 1023.2 369.4C1023.9 369.4 1024.6 369.3 1025.3 369.3C1026.0 369.3 1026.6 371.2 1027.3 372.0C1028.0 372.8 1028.7 374.0 1029.4 374.0C1030.0 374.0 1030.7 370.9 1031.4 369.1C1032.1 367.3 1032.8 364.0 1033.4 362.9C1034.1 361.7 1034.8 360.5 1035.5 360.5C1036.2 360.5 1036.8 364.1 1037.5 366.2C1038.2 368.4 1038.9 372.7 1039.6 373.8C1040.2 374.9 1040.9 375.8 1041.6 375.8C1042.3 375.8 1043.0 371.8 1043.6 369.2C1044.3 366.6 1045.0 359.8 1045.7 359.8C1046.4 359.8 1047.0 363.3 1047.7 366.6C1048.4 369.8 1049.0 383.4 1049.7 383.4C1050.4 383.4 1051.1 377.3 1051.8 372.7C1052.5 368.2 1053.2 358.6 1053.8 353.5C1054.2 350.5 1054.6 345.9 1055.0 345.9C1056.0 345.9 1056.9 361.0 1057.9 361.0C1058.6 361.0 1059.3 359.5 1060.0 358.4C1060.6 357.3 1061.3 354.2 1062.0 354.2C1062.7 354.2 1063.4 355.3 1064.0 356.9C1064.7 358.4 1065.4 367.6 1066.1 372.6C1066.6 376.3 1067.1 383.4 1067.6 383.4C1068.5 383.4 1069.3 373.9 1070.2 368.6C1070.8 364.4 1071.5 359.4 1072.2 354.9C1072.8 350.9 1073.4 342.9 1074.0 342.9C1074.8 342.9 1075.5 352.7 1076.3 358.9C1077.2 366.1 1078.0 385.0 1078.9 385.0C1079.4 385.0 1079.9 379.9 1080.4 377.5C1081.0 374.1 1081.7 370.5 1082.4 367.8C1083.1 365.1 1083.8 362.8 1084.4 360.9C1085.1 358.9 1085.8 355.7 1086.5 355.7C1087.2 355.7 1087.8 357.5 1088.5 357.8C1089.2 358.0 1089.9 358.3 1090.6 358.3C1091.2 358.3 1091.9 357.5 1092.6 357.3C1093.3 357.0 1094.0 356.8 1094.6 356.8C1095.3 356.8 1096.0 359.8 1096.7 361.2C1097.4 362.6 1098.0 364.3 1098.7 365.2C1099.4 366.2 1100.1 367.4 1100.8 367.4C1101.4 367.4 1102.1 364.8 1102.8 363.2C1103.5 361.6 1104.2 357.7 1104.8 357.7C1105.5 357.7 1106.2 359.0 1106.9 360.0C1107.6 361.0 1108.2 362.5 1108.9 364.8C1109.9 368.3 1111.0 386.7 1112.0 386.7C1113.0 386.7 1114.0 365.5 1115.0 360.8C1115.7 357.7 1116.4 354.1 1117.1 354.1C1117.8 354.1 1118.4 365.8 1119.1 369.7C1119.9 374.2 1120.7 380.3 1121.5 380.3C1122.1 380.3 1122.6 370.7 1123.2 366.9C1123.9 362.5 1124.6 355.4 1125.2 355.4C1125.9 355.4 1126.6 358.1 1127.3 358.1C1128.0 358.1 1128.6 358.0 1129.3 357.9C1130.0 357.8 1130.7 356.0 1131.4 356.0C1132.0 356.0 1132.7 356.1 1133.4 356.3C1134.1 356.5 1134.8 361.4 1135.4 363.5C1136.1 365.6 1136.8 369.1 1137.5 369.1C1138.2 369.1 1138.8 367.8 1139.5 366.4C1140.2 365.0 1140.9 357.6 1141.6 357.6C1142.2 357.6 1142.9 359.5 1143.6 361.5C1144.4 363.8 1145.2 376.5 1146.0 376.5C1146.6 376.5 1147.1 371.1 1147.7 368.2C1148.4 364.7 1149.0 359.6 1149.7 357.0C1150.4 354.2 1151.2 350.7 1151.9 350.7C1152.5 350.7 1153.2 354.3 1153.8 357.6C1154.5 361.0 1155.2 370.1 1155.8 375.7C1156.2 378.9 1156.6 384.7 1157.0 384.7C1158.0 384.7 1158.9 366.2 1159.9 364.3C1160.6 362.9 1161.3 361.8 1162.0 361.8C1162.6 361.8 1163.3 362.1 1164.0 362.2C1164.7 362.3 1165.4 362.5 1166.0 362.5C1166.7 362.5 1167.4 361.4 1168.1 361.4C1168.8 361.4 1169.4 362.6 1170.1 363.8C1170.8 364.9 1171.5 370.5 1172.2 370.5C1172.8 370.5 1173.5 369.1 1174.2 367.8C1174.9 366.5 1175.6 360.4 1176.2 360.4C1176.9 360.4 1177.6 362.2 1178.3 363.0C1179.0 363.8 1179.6 365.2 1180.3 365.2C1181.0 365.2 1181.7 362.1 1182.4 361.7C1183.0 361.3 1183.7 360.9 1184.4 360.9C1185.1 360.9 1185.8 364.9 1186.4 364.9C1187.1 364.9 1187.8 364.8 1188.5 364.8C1189.2 364.8 1189.8 362.6 1190.5 361.1C1191.2 359.6 1191.9 356.4 1192.6 355.1C1193.2 353.7 1193.9 352.1 1194.6 352.1C1195.3 352.1 1196.0 354.4 1196.6 355.7C1197.3 357.0 1198.0 360.0 1198.7 360.0C1199.4 360.0 1200.0 358.1 1200.7 358.1C1201.4 358.1 1202.1 358.4 1202.8 359.0C1203.4 359.5 1204.1 368.0 1204.8 368.0C1205.5 368.0 1206.2 368.0 1206.8 367.9C1207.5 367.8 1208.2 354.4 1208.9 349.5C1209.4 345.9 1209.9 340.4 1210.4 340.4C1211.3 340.4 1212.1 355.3 1213.0 358.1C1213.6 360.4 1214.3 362.8 1215.0 362.8C1215.7 362.8 1216.4 360.5 1217.0 360.5C1217.7 360.5 1218.4 364.0 1219.1 365.7C1219.8 367.5 1220.4 371.0 1221.1 371.0C1221.8 371.0 1222.5 367.0 1223.2 366.1C1223.8 365.3 1224.5 364.5 1225.2 364.5C1225.9 364.5 1226.6 365.6 1227.2 365.8C1227.9 366.0 1228.6 366.0 1229.3 366.2C1230.0 366.4 1230.6 366.8 1231.3 367.3C1232.0 367.7 1232.7 369.0 1233.4 369.0C1234.0 369.0 1234.7 363.2 1235.4 362.2C1236.1 361.2 1236.8 360.2 1237.4 360.2C1238.1 360.2 1238.8 362.2 1239.5 362.2C1240.2 362.2 1240.8 359.7 1241.5 359.7C1242.2 359.7 1242.9 360.3 1243.6 360.9C1244.2 361.5 1244.9 366.0 1245.6 366.0C1246.3 366.0 1247.0 365.1 1247.6 364.3C1248.3 363.5 1249.0 359.6 1249.7 359.6C1250.4 359.6 1251.0 360.5 1251.7 360.5C1252.4 360.5 1253.1 359.1 1253.8 358.8C1254.4 358.5 1255.1 358.1 1255.8 358.1C1256.5 358.1 1257.2 359.6 1257.8 360.5C1258.5 361.5 1259.2 364.0 1259.9 364.0C1260.6 364.0 1261.2 363.3 1261.9 362.3C1262.6 361.4 1263.3 353.7 1264.0 349.5C1264.4 346.7 1264.9 341.2 1265.3 341.2C1266.2 341.2 1267.1 359.2 1268.0 361.3C1268.7 362.8 1269.4 363.7 1270.1 364.2C1270.8 364.6 1271.4 364.7 1272.1 365.2C1272.8 365.6 1273.5 367.6 1274.2 367.8C1274.8 367.9 1275.5 368.0 1276.2 368.0C1276.9 368.0 1277.6 366.2 1278.2 365.5C1278.9 364.8 1279.6 364.6 1280.3 363.7C1281.0 362.9 1281.6 359.6 1282.3 359.0C1283.0 358.3 1283.7 357.7 1284.4 357.7C1285.0 357.7 1285.7 361.2 1286.4 362.4C1287.1 363.7 1287.8 365.5 1288.4 365.5C1289.1 365.5 1289.8 362.0 1290.5 361.3C1291.2 360.6 1291.8 359.9 1292.5 359.9C1293.2 359.9 1293.9 363.7 1294.6 364.5C1295.2 365.3 1295.9 366.0 1296.6 366.0C1297.3 366.0 1298.0 362.7 1298.6 361.5C1299.3 360.3 1300.0 358.6 1300.7 358.6C1301.4 358.6 1302.0 362.6 1302.7 362.6C1303.4 362.6 1304.1 362.4 1304.8 362.1C1305.4 361.8 1306.1 357.5 1306.8 355.8C1307.5 354.1 1308.2 351.6 1308.8 351.6C1309.5 351.6 1310.2 354.2 1310.9 355.3C1311.6 356.3 1312.2 358.1 1312.9 358.1C1313.6 358.1 1314.3 356.7 1315.0 355.6C1315.6 354.4 1316.3 350.2 1317.0 350.2C1317.7 350.2 1318.4 350.7 1319.0 351.5C1319.7 352.3 1320.4 358.2 1321.1 359.9C1321.8 361.5 1322.4 363.3 1323.1 363.3C1323.8 363.3 1324.5 362.3 1325.2 361.6C1325.8 361.0 1326.5 360.2 1327.2 359.6C1327.9 358.9 1328.6 358.7 1329.2 357.8C1329.9 356.9 1330.6 352.8 1331.3 352.8C1332.0 352.8 1332.6 355.1 1333.3 356.5C1334.0 357.9 1334.7 359.9 1335.4 361.1C1336.0 362.4 1336.7 364.3 1337.4 364.3C1338.1 364.3 1338.8 362.9 1339.4 362.9C1340.1 362.9 1340.8 367.1 1341.5 370.6C1342.3 374.8 1343.2 390.5 1344.0 390.5C1344.5 390.5 1345.0 383.4 1345.6 378.3C1346.2 371.6 1346.9 356.4 1347.6 350.2C1348.0 346.6 1348.4 341.8 1348.8 341.8C1349.8 341.8 1350.7 359.2 1351.7 364.5C1352.4 368.2 1353.0 373.3 1353.7 373.3C1354.4 373.3 1355.1 372.6 1355.8 371.8C1356.4 370.9 1357.1 367.4 1357.8 364.9C1358.5 362.4 1359.2 356.9 1359.8 356.5C1360.5 356.2 1361.2 355.9 1361.9 355.9C1362.6 355.9 1363.2 359.5 1363.9 360.0C1364.6 360.4 1365.3 360.8 1366.0 360.8C1366.6 360.8 1367.3 355.7 1368.0 355.7C1368.7 355.7 1369.4 356.3 1370.0 357.2C1370.7 358.0 1371.4 363.4 1372.1 365.2C1372.8 367.0 1373.4 369.2 1374.1 369.2C1374.8 369.2 1375.5 363.5 1376.2 363.2C1376.8 362.9 1377.5 362.7 1378.2 362.7C1378.9 362.7 1379.6 363.2 1380.2 363.2C1380.9 363.2 1381.6 362.4 1382.3 361.6C1383.0 360.8 1383.6 357.3 1384.3 357.3C1385.0 357.3 1385.7 358.0 1386.4 358.6C1387.0 359.2 1387.7 360.3 1388.4 361.2C1389.1 362.0 1389.8 363.6 1390.4 363.6C1391.1 363.6 1391.8 359.9 1392.5 358.4C1393.2 356.9 1393.8 354.4 1394.5 354.4C1395.2 354.4 1395.9 356.6 1396.6 357.9C1397.2 359.2 1397.9 362.2 1398.6 362.2C1399.3 362.2 1400.0 361.8 1400.6 361.5C1401.3 361.3 1402.0 360.5 1402.7 360.5C1403.4 360.5 1404.0 363.9 1404.7 365.7C1405.4 367.5 1406.1 370.3 1406.8 371.1C1407.4 371.9 1408.1 372.6 1408.8 372.6C1409.5 372.6 1410.2 366.7 1410.8 362.6C1411.6 358.3 1412.3 345.6 1413.0 345.6C1413.6 345.6 1414.3 354.9 1414.9 359.6" stroke="#0a960a"/>
<path d="M38.2 363.5C39.0 363.9 39.8 364.7 40.6 364.7C41.4 364.7 42.2 363.5 43.0 363.5C43.8 363.5 44.6 364.7 45.4 364.7C46.2 364.7 47.0 363.5 47.8 363.5C48.6 363.5 49.4 364.7 50.2 364.7C51.0 364.7 51.8 363.5 52.6 363.5C53.4 363.5 54.2 364.7 55.0 364.7C55.8 364.7 56.6 363.5 57.4 363.5C58.2 363.5 59.0 364.7 59.8 364.7C60.6 364.7 61.4 363.5 62.2 363.5C63.0 363.5 63.8 364.7 64.6 364.7C65.4 364.7 66.2 363.5 67.0 363.5C67.8 363.5 68.6 364.7 69.4 364.7C70.2 364.7 71.0 363.5 71.8 363.5C72.6 363.5 73.4 364.7 74.2 364.7C75.0 364.7 75.8 363.4 76.6 363.4C77.4 363.4 78.2 364.7 79.0 364.7C79.8 364.7 80.6 363.4 81.4 363.4C82.2 363.4 83.0 364.7 83.8 364.7C84.6 364.7 85.4 363.4 86.2 363.4C87.0 363.4 87.8 364.7 88.6 364.7C89.4 364.7 90.2 363.4 91.0 363.4C91.8 363.4 92.6 364.7 93.4 364.7C94.2 364.7 95.0 363.4 95.8 363.4C96.6 363.4 97.4 364.7 98.2 364.7C99.0 364.7 99.8 363.4 100.6 363.4C101.4 363.4 102.2 364.7 103.0 364.7C103.8 364.7 104.6 363.4 105.4 363.4C106.2 363.4 107.0 364.7 107.8 364.7C108.6 364.7 109.4 363.4 110.2 363.4C111.0 363.4 111.8 364.8 112.6 364.8C113.4 364.8 114.2 363.4 115.0 363.4C115.8 363.4 116.6 364.8 117.4 364.8C118.2 364.8 119.0 363.4 119.8 363.4C120.6 363.4 121.4 364.8 122.2 364.8C123.0 364.8 123.8 363.4 124.6 363.4C125.4 363.4 126.2 364.8 127.0 364.8C127.8 364.8 128.6 363.4 129.4 363.4C130.2 363.4 131.0 364.8 131.8 364.8C132.6 364.8 133.4 363.3 134.2 363.3C135.0 363.3 135.8 364.8 136.6 364.8C137.4 364.8 138.2 363.3 139.0 363.3C139.8 363.3 140.6 364.8 141.4 364.8C142.2 364.8 143.0 363.3 143.8 363.3C144.6 363.3 145.4 364.8 146.2 364.8C147.0 364.8 147.8 363.3 148.6 363.3C149.4 363.3 150.2 364.9 151.0 364.9C151.8 364.9 152.6 363.3 153.4 363.3C154.2 363.3 155.0 364.9 155.8 364.9C156.6 364.9 157.4 363.3 158.2 363.3C159.0 363.3 159.8 364.9 160.6 364.9C161.4 364.9 162.2 363.2 163.0 363.2C163.8 363.2 164.6 364.9 165.4 364.9C166.2 364.9 167.0 363.2 167.8 363.2C168.6 363.2 169.4 365.0 170.2 365.0C171.0 365.0 171.8 363.2 172.6 363.2C173.4 363.2 174.2 365.0 175.0 365.0C175.8 365.0 176.6 363.1 177.4 363.1C178.2 363.1 179.0 365.0 179.8 365.0C180.6 365.0 181.4 363.1 182.2 363.1C183.0 363.1 183.8 365.1 184.6 365.1C185.4 365.1 186.2 363.1 187.0 363.1C187.8 363.1 188.6 365.1 189.4 365.1C190.2 365.1 191.0 363.0 191.8 363.0C192.6 363.0 193.4 365.1 194.2 365.1C195.0 365.1 195.8 363.0 196.6 363.0C197.4 363.0 198.2 365.2 199.0 365.2C199.8 365.2 200.6 363.0 201.4 363.0C202.2 363.0 203.0 365.2 203.8 365.2C204.6 365.2 205.4 362.9 206.2 362.9C207.0 362.9 207.8 365.3 208.6 365.3C209.4 365.3 210.2 362.8 211.0 362.8C211.8 362.8 212.6 365.3 213.4 365.3C214.2 365.3 215.0 362.8 215.8 362.8C216.6 362.8 217.4 365.4 218.2 365.4C219.0 365.4 219.8 362.7 220.6 362.7C221.4 362.7 222.2 365.5 223.0 365.5C223.8 365.5 224.6 362.6 225.4 362.6C226.2 362.6 227.0 365.5 227.8 365.5C228.6 365.5 229.4 362.6 230.2 362.6C231.0 362.6 231.8 365.6 232.6 365.6C233.4 365.6 234.2 362.5 235.0 362.5C235.8 362.5 236.6 365.7 237.4 365.7C238.2 365.7 239.0 362.4 239.8 362.4C240.6 362.4 241.4 365.8 242.2 365.8C243.0 365.8 243.8 362.3 244.6 362.3C245.4 362.3 246.2 365.9 247.0 365.9C247.8 365.9 248.6 362.2 249.4 362.2C250.2 362.2 251.0 366.0 251.8 366.0C252.6 366.0 253.4 362.1 254.2 362.1C255.0 362.1 255.8 366.2 256.6 366.2C257.4 366.2 258.2 361.9 259.0 361.9C259.8 361.9 260.6 366.3 261.4 366.3C262.2 366.3 263.0 361.8 263.8 361.8C264.6 361.8 265.4 366.4 266.2 366.4C267.0 366.4 267.8 361.6 268.6 361.6C269.4 361.6 270.2 366.6 271.0 366.6C271.8 366.6 272.6 361.5 273.4 361.5C274.2 361.5 275.0 366.8 275.8 366.8C276.6 366.8 277.4 361.3 278.2 361.3C279.0 361.3 279.8 367.0 280.6 367.0C281.4 367.0 282.2 361.1 283.0 361.1C283.8 361.1 284.6 367.2 285.4 367.2C286.2 367.2 287.0 360.8 287.8 360.8C288.6 360.8 289.4 367.4 290.2 367.4C291.0 367.4 291.8 360.6 292.6 360.6C293.4 360.6 294.2 367.7 295.0 367.7C295.8 367.7 296.6 360.3 297.4 360.3C298.2 360.3 299.0 368.0 299.8 368.0C300.6 368.0 301.4 360.0 302.2 360.0C303.0 360.0 303.8 368.3 304.6 368.3C305.4 368.3 306.2 359.7 307.0 359.7C307.8 359.7 308.6 368.6 309.4 368.6C310.2 368.6 311.0 359.4 311.8 359.4C312.6 359.4 313.4 369.0 314.2 369.0C315.0 369.0 315.8 359.0 316.6 359.0C317.4 359.0 318.2 369.3 319.0 369.3C319.8 369.3 320.6 358.6 321.4 358.6C322.2 358.6 323.0 369.8 323.8 369.8C324.6 369.8 325.4 358.1 326.2 358.1C327.0 358.1 327.8 370.2 328.6 370.2C329.4 370.2 330.2 357.7 331.0 357.7C331.8 357.7 332.6 370.8 333.4 370.8C334.2 370.8 335.0 357.1 335.8 357.1C336.6 357.1 337.4 371.3 338.2 371.3C339.0 371.3 339.8 356.5 340.6 356.5C341.4 356.5 342.2 371.9 343.0 371.9C343.7 371.9 344.3 361.0 345.0 361.0C345.8 361.0 346.7 372.1 347.5 372.1C348.3 372.1 349.2 350.0 350.0 350.0C350.7 350.0 351.3 380.3 352.0 380.3C352.5 380.3 353.1 330.7 353.6 330.7C354.5 330.7 355.5 638.6 356.4 638.6C357.3 638.6 358.3 325.2 359.2 325.2C360.0 325.2 360.7 391.3 361.5 391.3C362.3 391.3 363.2 341.8 364.0 341.8C364.8 341.8 365.7 396.9 366.5 396.9C367.3 396.9 368.2 362.6 369.0 352.8C369.8 343.0 370.7 338.9 371.5 330.7C372.3 322.6 373.2 303.2 374.0 303.2C375.0 303.2 376.0 352.8 377.0 352.8C377.8 352.8 378.7 339.0 379.5 339.0C380.3 339.0 381.2 383.1 382.0 383.1C383.0 383.1 384.0 350.0 385.0 350.0C386.0 350.0 387.0 377.6 388.0 377.6C388.7 377.6 389.4 368.7 390.0 368.1C390.7 367.4 391.4 367.4 392.1 367.0C392.8 366.5 393.4 364.9 394.1 364.9C394.8 364.9 395.5 365.5 396.2 366.0C396.8 366.5 397.5 367.9 398.2 368.6C398.9 369.4 399.6 370.5 400.2 370.5C400.9 370.5 401.6 368.9 402.3 367.6C403.0 366.3 403.6 363.8 404.3 362.0C405.0 360.2 405.7 357.5 406.4 356.8C407.0 356.0 407.7 355.4 408.4 355.4C409.1 355.4 409.8 356.2 410.4 357.1C411.1 358.0 411.8 361.5 412.5 362.7C413.2 363.8 413.8 364.9 414.5 365.2C415.2 365.4 415.9 365.3 416.6 365.6C417.2 365.8 417.9 366.9 418.6 367.4C419.3 367.8 420.0 368.5 420.6 368.5C421.3 368.5 422.0 367.4 422.7 366.5C423.4 365.6 424.0 363.5 424.7 362.7C425.4 362.0 426.1 361.5 426.8 361.1C427.4 360.7 428.1 360.5 428.8 360.1C429.5 359.7 430.2 359.1 430.8 358.3C431.5 357.5 432.2 354.8 432.9 354.8C433.6 354.8 434.2 355.7 434.9 356.4C435.6 357.1 436.3 358.4 437.0 359.6C437.6 360.8 438.3 363.6 439.0 363.6C439.7 363.6 440.4 363.3 441.0 363.2C441.7 363.0 442.4 362.8 443.1 362.8C443.8 362.8 444.4 363.8 445.1 364.7C445.8 365.5 446.5 368.2 447.2 368.2C447.8 368.2 448.5 365.3 449.2 364.4C449.9 363.5 450.6 362.9 451.2 362.4C451.9 361.9 452.6 361.4 453.3 361.4C454.0 361.4 454.6 361.7 455.3 361.7C456.0 361.7 456.7 358.7 457.4 358.7C458.0 358.7 458.7 359.2 459.4 359.7C460.1 360.3 460.8 363.5 461.4 364.0C462.1 364.6 462.8 365.1 463.5 365.1C464.2 365.1 464.8 362.8 465.5 362.4C466.2 361.9 466.9 361.8 467.6 361.4C468.2 361.0 468.9 360.2 469.6 360.1C470.3 360.0 471.0 359.9 471.6 359.9C472.3 359.9 473.0 361.5 473.7 361.5C474.4 361.5 475.0 360.2 475.7 359.4C476.4 358.5 477.1 356.4 477.8 356.4C478.4 356.3 479.1 356.3 479.8 356.3C480.5 356.3 481.2 356.4 481.8 356.6C482.5 356.8 483.2 358.7 483.9 359.6C484.6 360.6 485.2 361.3 485.9 362.1C486.6 362.9 487.3 363.5 488.0 364.4C488.6 365.3 489.3 367.5 490.0 367.5C490.7 367.5 491.4 366.4 492.0 365.5C492.7 364.6 493.4 361.3 494.1 361.3C494.8 361.3 495.4 363.2 496.1 364.2C496.8 365.3 497.5 367.7 498.2 367.7C498.8 367.7 499.5 365.9 500.2 365.2C500.9 364.5 501.6 363.8 502.2 363.4C502.9 363.1 503.6 362.8 504.3 362.8C505.0 362.8 505.6 363.1 506.3 363.4C507.0 363.7 507.7 365.1 508.4 365.1C509.0 365.1 509.7 363.7 510.4 362.7C511.1 361.8 511.8 359.1 512.4 359.1C513.1 359.1 513.8 360.1 514.5 361.0C515.2 362.0 515.8 366.6 516.5 366.6C517.2 366.6 517.9 366.1 518.6 365.7C519.2 365.3 519.9 363.7 520.6 363.7C521.3 363.7 522.0 364.1 522.6 364.6C523.3 365.0 524.0 367.9 524.7 368.6C525.4 369.4 526.0 369.7 526.7 370.2C527.4 370.6 528.1 371.2 528.8 371.2C529.4 371.2 530.1 367.7 530.8 365.9C531.5 364.2 532.2 361.6 532.8 360.7C533.5 359.9 534.2 359.4 534.9 359.1C535.6 358.8 536.2 358.6 536.9 358.4C537.6 358.2 538.3 357.8 539.0 357.8C539.6 357.8 540.3 358.8 541.0 359.6C541.7 360.4 542.4 362.2 543.0 363.3C543.7 364.4 544.4 365.5 545.1 366.4C545.8 367.3 546.4 368.7 547.1 368.7C547.8 368.7 548.5 368.5 549.2 368.1C549.8 367.8 550.5 365.6 551.2 363.9C551.9 362.2 552.6 359.2 553.2 357.7C553.9 356.2 554.6 354.6 555.3 354.1C556.0 353.5 556.6 352.9 557.3 352.9C558.0 352.9 558.7 355.4 559.4 357.3C560.0 359.2 560.7 363.9 561.4 365.6C562.1 367.3 562.8 369.2 563.4 369.2C564.1 369.2 564.8 365.3 565.5 363.2C566.2 361.1 566.8 357.4 567.5 356.5C568.2 355.6 568.9 354.9 569.6 354.9C570.2 354.9 570.9 357.1 571.6 357.1C572.3 357.1 573.0 356.7 573.6 356.7C574.3 356.7 575.0 357.9 575.7 358.5C576.4 359.2 577.0 360.6 577.7 360.6C578.4 360.6 579.1 360.4 579.8 360.1C580.4 359.8 581.1 357.0 581.8 357.0C582.5 357.0 583.2 359.6 583.8 360.9C584.5 362.3 585.2 364.2 585.9 365.2C586.6 366.1 587.2 367.3 587.9 367.3C588.6 367.3 589.3 364.3 590.0 363.4C590.6 362.5 591.3 361.5 592.0 361.5C592.7 361.5 593.4 362.0 594.0 362.5C594.7 363.0 595.4 365.0 596.1 365.0C596.8 365.0 597.4 364.2 598.1 364.2C598.8 364.2 599.5 364.8 600.2 365.4C600.8 365.9 601.5 367.8 602.2 368.6C602.9 369.4 603.6 370.5 604.2 370.5C604.9 370.5 605.6 369.3 606.3 368.4C607.0 367.4 607.6 365.2 608.3 363.9C609.0 362.6 609.7 361.2 610.4 360.3C611.0 359.4 611.7 358.3 612.4 358.3C613.1 358.3 613.8 359.6 614.4 360.3C615.1 361.0 615.8 362.7 616.5 362.7C617.2 362.7 617.8 361.8 618.5 361.0C619.2 360.2 619.9 357.7 620.6 357.0C621.2 356.4 621.9 356.2 622.6 355.7C623.3 355.3 624.0 354.3 624.6 354.3C625.3 354.3 626.0 354.9 626.7 355.4C627.4 356.0 628.0 358.2 628.7 358.3C629.4 358.5 630.1 358.7 630.8 358.7C631.4 358.7 632.1 357.5 632.8 357.5C633.5 357.5 634.2 358.8 634.8 359.6C635.5 360.3 636.2 361.3 636.9 361.8C637.6 362.3 638.2 362.9 638.9 362.9C639.6 362.9 640.3 362.3 641.0 362.3C641.6 362.3 642.3 362.5 643.0 362.7C643.7 362.9 644.4 364.5 645.0 365.1C645.7 365.8 646.4 366.9 647.1 366.9C647.8 366.9 648.4 364.0 649.1 362.5C649.8 361.0 650.5 358.5 651.2 357.9C651.8 357.3 652.5 356.8 653.2 356.8C653.9 356.8 654.6 357.1 655.2 357.1C656.2 357.1 657.1 344.5 658.0 344.5C658.4 344.5 658.9 350.2 659.3 353.0C660.0 357.3 660.7 365.8 661.4 365.8C662.0 365.8 662.7 364.1 663.4 364.1C664.1 364.1 664.8 364.2 665.4 364.2C666.1 364.2 666.8 363.6 667.5 363.0C668.2 362.5 668.8 360.2 669.5 360.2C670.2 360.2 670.9 360.4 671.6 360.6C672.2 360.8 672.9 363.3 673.6 364.6C674.3 365.9 675.0 367.6 675.6 368.4C676.3 369.1 677.0 370.0 677.7 370.0C678.4 370.0 679.0 369.7 679.7 369.6C680.4 369.5 681.1 369.3 681.8 369.3C682.4 369.2 683.1 369.2 683.8 369.2C684.5 369.1 685.2 368.1 685.8 367.6C686.5 367.2 687.2 366.8 687.9 366.4C688.6 365.9 689.2 364.8 689.9 364.7C690.6 364.6 691.3 364.7 692.0 364.6C692.6 364.5 693.3 363.8 694.0 363.8C694.7 363.8 695.4 365.0 696.0 365.6C696.7 366.1 697.4 367.2 698.1 367.2C698.8 367.2 699.4 367.0 700.1 366.7C700.8 366.4 701.5 361.5 702.2 361.5C702.8 361.5 703.5 361.5 704.2 361.5C704.9 361.5 705.6 363.7 706.2 364.0C706.9 364.3 707.6 364.5 708.3 364.5C709.0 364.5 709.6 361.9 710.3 361.9C711.0 361.9 711.7 363.6 712.4 364.7C713.0 365.8 713.7 368.9 714.4 368.9C715.1 368.9 715.8 368.2 716.4 367.6C717.1 366.9 717.8 363.1 718.5 363.1C719.2 363.1 719.8 363.9 720.5 364.6C721.2 365.3 721.9 368.9 722.6 368.9C723.2 368.9 723.9 366.7 724.6 365.3C725.3 363.9 726.0 360.6 726.6 360.1C727.3 359.7 728.0 359.3 728.7 359.3C729.4 359.3 730.0 359.9 730.7 359.9C731.4 359.9 732.1 358.3 732.8 357.7C733.4 357.0 734.1 356.0 734.8 356.0C735.5 356.0 736.2 356.7 736.8 357.2C737.5 357.8 738.2 359.7 738.9 359.7C739.6 359.7 740.2 359.4 740.9 359.3C741.6 359.1 742.3 358.8 743.0 358.8C743.6 358.8 744.3 359.0 745.0 359.0C745.7 359.0 746.4 358.8 747.0 358.6C747.7 358.4 748.4 356.9 749.1 356.9C749.8 356.9 750.4 359.6 751.1 360.6C751.8 361.6 752.5 363.1 753.2 363.1C753.8 363.1 754.5 362.8 755.2 362.4C755.9 362.1 756.6 360.1 757.2 360.1C757.9 360.1 758.6 360.9 759.3 360.9C760.0 360.9 760.6 359.8 761.3 359.8C762.0 359.8 762.7 360.2 763.4 360.5C764.0 360.9 764.7 362.6 765.4 363.0C766.1 363.3 766.8 363.7 767.4 363.7C768.1 363.7 768.8 361.8 769.5 360.9C770.2 359.9 770.8 357.9 771.5 357.9C772.2 357.9 772.9 357.9 773.6 358.0C774.2 358.1 774.9 360.3 775.6 361.2C776.3 362.2 777.0 362.9 777.6 363.7C778.3 364.5 779.0 365.1 779.7 366.0C780.4 366.9 781.0 368.3 781.7 369.2C782.4 370.0 783.1 371.4 783.8 371.4C784.4 371.4 785.1 370.2 785.8 369.3C786.5 368.3 787.2 366.5 787.8 365.3C788.5 364.0 789.2 361.7 789.9 361.7C790.6 361.7 791.2 361.8 791.9 361.8C792.6 361.9 793.3 364.3 794.0 365.2C794.6 366.1 795.3 367.4 796.0 367.4C796.7 367.4 797.4 364.4 798.0 363.0C798.7 361.7 799.4 359.2 800.1 359.2C800.8 359.2 801.4 359.3 802.1 359.5C802.8 359.7 803.5 361.4 804.2 362.5C804.8 363.5 805.5 365.8 806.2 366.0C806.9 366.3 807.6 366.4 808.2 366.4C808.9 366.4 809.6 361.9 810.3 361.9C811.0 361.9 811.6 362.1 812.3 362.5C813.0 362.8 813.7 366.4 814.4 366.5C815.0 366.5 815.7 366.5 816.4 366.5C817.1 366.5 817.8 364.3 818.4 364.3C819.1 364.3 819.8 364.7 820.5 364.7C821.2 364.7 821.8 362.7 822.5 362.3C823.2 361.8 823.9 361.4 824.6 361.4C825.2 361.4 825.9 363.8 826.6 365.1C827.3 366.4 828.0 369.4 828.6 369.4C829.3 369.4 830.0 369.2 830.7 369.1C831.4 369.0 832.0 368.8 832.7 368.4C833.4 368.0 834.1 366.2 834.8 365.7C835.4 365.3 836.1 365.1 836.8 364.8C837.5 364.5 838.2 364.3 838.8 363.9C839.5 363.5 840.2 362.9 840.9 362.4C841.6 361.8 842.2 360.4 842.9 360.4C843.6 360.4 844.3 361.4 845.0 361.4C845.6 361.4 846.3 360.9 847.0 360.9C847.7 360.9 848.4 361.9 849.0 362.6C849.7 363.2 850.4 365.0 851.1 365.0C851.8 365.0 852.4 364.9 853.1 364.6C853.8 364.4 854.5 361.3 855.2 361.3C855.8 361.3 856.5 361.6 857.2 362.0C857.9 362.3 858.6 364.2 859.2 365.2C859.9 366.1 860.6 367.1 861.3 367.9C862.0 368.8 862.6 369.7 863.3 370.2C864.0 370.7 864.7 371.3 865.4 371.3C866.0 371.3 866.7 369.0 867.4 367.7C868.1 366.4 868.8 363.9 869.4 363.6C870.1 363.2 870.8 363.0 871.5 363.0C872.2 363.0 872.8 364.9 873.5 365.7C874.2 366.5 874.9 367.8 875.6 367.8C876.2 367.8 876.9 367.6 877.6 367.3C878.3 367.0 879.0 363.9 879.6 363.3C880.3 362.8 881.0 362.3 881.7 362.3C882.4 362.3 883.0 365.5 883.7 365.5C884.4 365.5 885.1 364.9 885.8 364.2C886.4 363.5 887.1 359.4 887.8 358.4C888.5 357.4 889.2 356.5 889.8 356.5C890.5 356.5 891.2 358.2 891.9 358.3C892.6 358.5 893.2 358.4 893.9 358.5C894.6 358.7 895.3 360.4 896.0 361.1C896.6 361.9 897.3 362.6 898.0 363.0C898.7 363.5 899.4 363.8 900.0 364.1C900.7 364.3 901.4 364.3 902.1 364.6C902.8 364.9 903.4 366.5 904.1 367.1C904.8 367.8 905.5 368.2 906.2 368.8C906.8 369.5 907.5 371.1 908.2 371.1C908.9 371.1 909.6 369.4 910.2 368.1C910.9 366.8 911.6 363.3 912.3 362.6C913.0 361.9 913.6 361.3 914.3 361.3C915.0 361.3 915.7 361.8 916.4 361.8C917.0 361.8 917.7 360.0 918.4 359.6C919.1 359.3 919.8 358.9 920.4 358.9C921.1 358.9 921.8 360.9 922.5 361.0C923.2 361.2 923.8 361.3 924.5 361.3C925.2 361.4 925.9 361.4 926.6 361.4C927.2 361.5 927.9 362.5 928.6 362.5C929.3 362.5 930.0 361.5 930.6 361.5C931.3 361.5 932.0 361.9 932.7 362.3C933.4 362.7 934.0 365.7 934.7 365.7C935.4 365.7 936.1 365.0 936.8 364.4C937.4 363.9 938.1 361.6 938.8 361.6C939.5 361.6 940.2 361.6 940.8 361.6C941.5 361.7 942.2 364.6 942.9 364.6C943.6 364.6 944.2 363.8 944.9 363.1C945.6 362.4 946.3 360.7 947.0 359.3C947.6 357.9 948.3 354.9 949.0 354.8C949.7 354.7 950.4 354.6 951.0 354.6C951.7 354.6 952.4 355.7 953.1 356.7C953.8 357.7 954.4 361.2 955.1 362.5C955.8 363.8 956.5 365.4 957.2 365.4C957.8 365.4 958.5 363.5 959.2 362.8C959.9 362.1 960.6 361.1 961.2 361.1C961.9 361.1 962.6 364.5 963.3 364.5C964.0 364.5 964.6 364.3 965.3 364.0C966.0 363.7 966.7 362.2 967.4 362.2C968.0 362.2 968.7 363.1 969.4 363.1C970.1 363.1 970.8 362.7 971.4 362.2C972.1 361.7 972.8 357.5 973.5 356.2C974.2 355.0 974.8 353.5 975.5 353.5C976.2 353.5 976.9 354.9 977.6 357.0C978.2 359.2 978.9 378.9 979.6 389.2C980.0 395.7 980.5 408.1 980.9 408.1C981.8 408.1 982.8 378.4 983.7 367.3C984.4 359.2 985.0 351.7 985.7 346.6C986.2 342.6 986.8 337.1 987.3 337.1C988.1 337.1 989.0 352.3 989.8 356.6C990.5 360.1 991.2 364.7 991.8 364.7C992.5 364.7 993.2 362.1 993.9 361.1C994.6 360.1 995.2 358.7 995.9 358.7C996.6 358.7 997.3 361.2 998.0 362.6C998.6 364.0 999.3 367.3 1000.0 367.3C1000.7 367.3 1001.4 366.7 1002.0 366.1C1002.7 365.5 1003.4 362.2 1004.1 361.8C1004.8 361.5 1005.4 361.4 1006.1 361.2C1006.8 361.0 1007.5 360.7 1008.2 360.5C1008.8 360.3 1009.5 360.0 1010.2 360.0C1010.9 360.0 1011.6 362.5 1012.2 363.5C1012.9 364.5 1013.6 366.0 1014.3 366.0C1015.0 366.0 1015.6 365.2 1016.3 365.2C1017.0 365.2 1017.7 366.8 1018.4 366.8C1019.0 366.8 1019.7 366.5 1020.4 366.1C1021.1 365.6 1021.8 360.2 1022.4 358.8C1023.1 357.4 1023.8 355.9 1024.5 355.9C1025.2 355.9 1025.8 356.0 1026.5 356.3C1027.2 356.5 1027.9 357.9 1028.6 359.3C1029.2 360.6 1029.9 364.7 1030.6 365.1C1031.3 365.6 1032.0 365.9 1032.6 365.9C1033.3 365.9 1034.0 362.5 1034.7 362.5C1035.4 362.5 1036.0 363.8 1036.7 364.6C1037.4 365.3 1038.1 367.0 1038.8 367.0C1039.4 367.0 1040.1 363.6 1040.8 362.2C1041.5 360.8 1042.2 358.5 1042.8 358.5C1043.5 358.5 1044.2 360.9 1044.9 361.8C1045.6 362.7 1046.2 364.1 1046.9 364.1C1047.6 364.1 1048.3 360.4 1049.0 360.0C1049.6 359.5 1050.3 359.2 1051.0 359.2C1051.7 359.2 1052.4 361.4 1053.0 362.3C1053.7 363.3 1054.4 364.9 1055.1 364.9C1055.8 364.9 1056.4 364.2 1057.1 363.5C1057.8 362.8 1058.5 360.1 1059.2 359.4C1059.8 358.7 1060.5 358.0 1061.2 358.0C1061.9 358.0 1062.6 360.6 1063.2 360.6C1063.9 360.6 1064.6 358.7 1065.3 358.5C1066.0 358.2 1066.6 358.0 1067.3 358.0C1068.0 358.0 1068.7 361.9 1069.4 362.7C1070.0 363.5 1070.7 364.4 1071.4 364.4C1072.1 364.4 1072.8 364.2 1073.4 364.0C1074.1 363.9 1074.8 363.4 1075.5 363.1C1076.2 362.7 1076.8 361.8 1077.5 361.8C1078.2 361.8 1078.9 362.8 1079.6 363.4C1080.2 363.9 1080.9 365.0 1081.6 365.0C1082.3 365.0 1083.0 362.4 1083.6 361.6C1084.3 360.8 1085.0 359.7 1085.7 359.7C1086.4 359.7 1087.0 361.2 1087.7 361.8C1088.4 362.4 1089.1 363.4 1089.8 363.4C1090.4 363.4 1091.1 362.9 1091.8 362.6C1092.5 362.2 1093.2 361.1 1093.8 360.9C1094.5 360.7 1095.2 360.5 1095.9 360.5C1096.6 360.5 1097.2 361.1 1097.9 361.1C1098.6 361.1 1099.3 359.3 1100.0 359.3C1100.6 359.3 1101.3 359.6 1102.0 360.0C1102.7 360.4 1103.4 363.9 1104.0 363.9C1104.7 363.9 1105.4 363.7 1106.1 363.6C1106.8 363.5 1107.4 362.9 1108.1 362.9C1108.8 362.9 1109.5 365.0 1110.2 365.7C1110.8 366.4 1111.5 367.3 1112.2 367.3C1112.9 367.3 1113.6 366.3 1114.2 365.7C1114.9 365.1 1115.6 364.0 1116.3 363.7C1117.0 363.3 1117.6 363.0 1118.3 363.0C1119.0 363.0 1119.7 363.2 1120.4 363.2C1121.0 363.2 1121.7 361.8 1122.4 361.0C1123.1 360.1 1123.8 358.2 1124.4 358.2C1125.1 358.2 1125.8 360.0 1126.5 361.0C1127.2 362.1 1127.8 364.6 1128.5 364.6C1129.2 364.6 1129.9 364.4 1130.6 364.2C1131.2 363.9 1131.9 361.2 1132.6 360.5C1133.3 359.7 1134.0 359.3 1134.6 358.8C1135.3 358.4 1136.0 357.6 1136.7 357.6C1137.4 357.6 1138.0 357.9 1138.7 358.1C1139.4 358.3 1140.1 358.4 1140.8 358.7C1141.4 359.0 1142.1 360.4 1142.8 360.4C1143.5 360.4 1144.2 360.0 1144.8 359.7C1145.5 359.4 1146.2 358.4 1146.9 358.4C1147.6 358.4 1148.2 359.5 1148.9 360.4C1149.6 361.3 1150.3 363.9 1151.0 364.8C1151.6 365.6 1152.3 366.6 1153.0 366.6C1153.7 366.6 1154.4 365.6 1155.0 364.8C1155.7 363.9 1156.4 361.4 1157.1 360.8C1157.8 360.2 1158.4 359.6 1159.1 359.6C1159.8 359.6 1160.5 360.8 1161.2 360.8C1161.8 360.8 1162.5 358.6 1163.2 358.6C1163.9 358.6 1164.6 359.0 1165.2 359.6C1165.9 360.1 1166.6 364.2 1167.3 364.2C1168.0 364.2 1168.6 363.0 1169.3 362.4C1170.0 361.8 1170.7 360.4 1171.4 360.4C1172.0 360.4 1172.7 361.9 1173.4 363.4C1174.1 364.9 1174.8 368.6 1175.4 371.8C1176.1 374.8 1176.7 382.5 1177.4 382.5C1178.1 382.5 1178.8 370.8 1179.5 364.6C1180.2 358.8 1180.8 346.8 1181.5 346.8C1182.2 346.8 1182.9 351.1 1183.6 353.5C1184.3 355.7 1185.0 360.6 1185.6 360.6C1186.3 360.6 1187.0 358.8 1187.7 357.1C1188.5 355.2 1189.2 345.6 1190.0 345.6C1190.6 345.6 1191.2 350.2 1191.8 352.8C1192.4 355.8 1193.1 362.0 1193.8 362.6C1194.5 363.3 1195.2 363.6 1195.8 363.7C1196.5 363.8 1197.2 363.8 1197.9 363.9C1198.6 364.0 1199.2 366.0 1199.9 366.3C1200.6 366.7 1201.3 367.0 1202.0 367.0C1202.6 367.0 1203.3 364.8 1204.0 364.8C1204.7 364.8 1205.4 365.7 1206.0 365.9C1206.7 366.1 1207.4 366.3 1208.1 366.3C1208.8 366.3 1209.4 363.1 1210.1 362.9C1210.8 362.7 1211.5 362.6 1212.2 362.6C1212.8 362.6 1213.5 365.0 1214.2 365.0C1214.9 365.0 1215.6 364.2 1216.2 363.4C1216.9 362.6 1217.6 359.6 1218.3 358.6C1219.0 357.6 1219.6 356.4 1220.3 356.4C1221.0 356.4 1221.7 356.7 1222.4 357.1C1223.0 357.4 1223.7 359.1 1224.4 360.2C1225.1 361.4 1225.8 363.9 1226.4 363.9C1227.1 363.9 1227.8 363.2 1228.5 362.6C1229.2 362.0 1229.8 359.6 1230.5 359.6C1231.2 359.6 1231.9 360.0 1232.6 360.1C1233.2 360.3 1233.9 360.7 1234.6 360.7C1235.3 360.7 1236.0 357.7 1236.6 357.7C1237.3 357.7 1238.0 358.7 1238.7 359.6C1239.4 360.6 1240.0 364.0 1240.7 364.8C1241.4 365.7 1242.1 366.5 1242.8 366.5C1243.4 366.5 1244.1 364.5 1244.8 363.5C1245.5 362.5 1246.2 361.2 1246.8 360.6C1247.5 360.0 1248.2 359.2 1248.9 359.2C1249.6 359.2 1250.2 360.0 1250.9 360.0C1251.6 360.0 1252.3 360.0 1253.0 360.0C1253.6 360.0 1254.3 360.5 1255.0 361.1C1255.7 361.7 1256.4 364.6 1257.0 365.3C1257.7 365.9 1258.4 366.4 1259.1 366.4C1259.8 366.4 1260.4 363.9 1261.1 362.3C1261.8 360.8 1262.5 357.8 1263.2 357.0C1263.8 356.2 1264.5 355.5 1265.2 355.5C1265.9 355.5 1266.6 356.3 1267.2 356.9C1267.9 357.5 1268.6 358.4 1269.3 359.2C1270.0 360.1 1270.6 361.7 1271.3 362.2C1272.0 362.7 1272.7 363.2 1273.4 363.2C1274.0 363.2 1274.7 360.2 1275.4 359.8C1276.1 359.4 1276.8 359.1 1277.4 359.1C1278.1 359.1 1278.8 360.1 1279.5 360.6C1280.2 361.1 1280.8 362.1 1281.5 362.1C1282.2 362.1 1282.9 361.4 1283.6 361.3C1284.2 361.2 1284.9 361.2 1285.6 361.1C1286.3 360.9 1287.0 359.8 1287.6 359.8C1288.3 359.8 1289.0 361.2 1289.7 361.3C1290.4 361.3 1291.0 361.3 1291.7 361.3C1292.4 361.4 1293.1 362.4 1293.8 363.1C1294.4 363.9 1295.1 365.7 1295.8 366.6C1296.5 367.6 1297.2 369.0 1297.8 369.0C1298.5 369.0 1299.2 368.0 1299.9 367.6C1300.6 367.1 1301.2 366.4 1301.9 366.3C1302.6 366.2 1303.3 366.1 1304.0 366.1C1304.6 366.1 1305.3 366.8 1306.0 366.8C1306.7 366.8 1307.4 365.2 1308.0 364.3C1308.7 363.3 1309.4 361.0 1310.1 361.0C1310.8 361.0 1311.4 361.8 1312.1 361.9C1312.8 362.0 1313.5 362.1 1314.2 362.1C1314.8 362.1 1315.5 361.1 1316.2 361.1C1316.9 361.1 1317.6 363.5 1318.2 364.8C1318.9 366.2 1319.6 369.3 1320.3 369.5C1321.0 369.6 1321.6 369.7 1322.3 369.7C1323.0 369.7 1323.7 368.3 1324.4 367.1C1325.0 366.0 1325.7 364.0 1326.4 362.3C1327.1 360.6 1327.8 358.1 1328.4 356.8C1329.1 355.5 1329.8 354.1 1330.5 353.9C1331.2 353.7 1331.8 353.6 1332.5 353.6C1333.2 353.6 1333.9 357.4 1334.6 358.7C1335.2 360.0 1335.9 361.2 1336.6 361.8C1337.3 362.4 1338.0 362.6 1338.6 363.1C1339.3 363.6 1340.0 364.3 1340.7 364.9C1341.4 365.5 1342.0 366.7 1342.7 366.7C1343.4 366.7 1344.1 364.3 1344.8 362.9C1345.4 361.4 1346.1 359.4 1346.8 358.0C1347.5 356.6 1348.2 354.4 1348.8 354.4C1349.5 354.4 1350.2 354.5 1350.9 354.6C1351.6 354.8 1352.2 355.9 1352.9 355.9C1353.6 355.9 1354.3 355.8 1355.0 355.8C1355.6 355.8 1356.3 356.5 1357.0 357.3C1357.7 358.0 1358.4 360.7 1359.0 362.1C1359.7 363.5 1360.4 365.9 1361.1 365.9C1361.8 365.9 1362.4 364.4 1363.1 363.3C1363.8 362.2 1364.5 359.5 1365.2 358.9C1365.8 358.4 1366.5 358.0 1367.2 358.0C1367.9 358.0 1368.6 359.2 1369.2 360.0C1369.9 360.9 1370.6 362.1 1371.3 363.2C1372.0 364.4 1372.6 367.0 1373.3 367.0C1374.0 367.0 1374.7 365.9 1375.4 365.1C1376.0 364.4 1376.7 362.5 1377.4 362.5C1378.1 362.5 1378.8 363.4 1379.4 363.6C1380.1 363.9 1380.8 364.1 1381.5 364.2C1382.2 364.4 1382.8 364.4 1383.5 364.6C1384.2 364.8 1384.9 368.8 1385.6 368.9C1386.2 369.0 1386.9 369.1 1387.6 369.1C1388.3 369.1 1389.0 367.0 1389.6 366.6C1390.3 366.2 1391.0 366.0 1391.7 365.7C1392.4 365.5 1393.0 365.3 1393.7 365.2C1394.4 365.1 1395.1 365.2 1395.8 365.1C1396.4 365.0 1397.1 364.7 1397.8 364.4C1398.5 364.0 1399.2 362.0 1399.8 362.0C1400.5 362.0 1401.2 362.7 1401.9 362.7C1402.6 362.7 1403.2 362.6 1403.9 362.6C1404.6 362.5 1405.3 360.5 1406.0 360.5C1406.6 360.5 1407.3 360.5 1408.0 360.5C1408.7 360.4 1409.4 359.8 1410.0 359.7C1410.7 359.6 1411.4 359.4 1412.1 359.4C1412.8 359.4 1413.4 362.4 1414.1 363.9" stroke="#0064c8"/>
<path d="M38.3 363.5C39.1 363.9 39.9 364.7 40.7 364.7C41.5 364.7 42.3 363.5 43.1 363.5C43.9 363.5 44.7 364.7 45.5 364.7C46.3 364.7 47.1 363.5 47.9 363.5C48.7 363.5 49.5 364.7 50.3 364.7C51.1 364.7 51.9 363.4 52.7 363.4C53.5 363.4 54.3 364.7 55.1 364.7C55.9 364.7 56.7 363.4 57.5 363.4C58.3 363.4 59.1 364.7 59.9 364.7C60.7 364.7 61.5 363.4 62.3 363.4C63.1 363.4 63.9 364.7 64.7 364.7C65.5 364.7 66.3 363.4 67.1 363.4C67.9 363.4 68.7 364.7 69.5 364.7C70.3 364.7 71.1 363.4 71.9 363.4C72.7 363.4 73.5 364.7 74.3 364.7C75.1 364.7 75.9 363.4 76.7 363.4C77.5 363.4 78.3 364.7 79.1 364.7C79.9 364.7 80.7 363.4 81.5 363.4C82.3 363.4 83.1 364.7 83.9 364.7C84.7 364.7 85.5 363.4 86.3 363.4C87.1 363.4 87.9 364.7 88.7 364.7C89.5 364.7 90.3 363.4 91.1 363.4C91.9 363.4 92.7 364.7 93.5 364.7C94.3 364.7 95.1 363.4 95.9 363.4C96.7 363.4 97.5 364.8 98.3 364.8C99.1 364.8 99.9 363.4 100.7 363.4C101.5 363.4 102.3 364.8 103.1 364.8C103.9 364.8 104.7 363.4 105.5 363.4C106.3 363.4 107.1 364.8 107.9 364.8C108.7 364.8 109.5 363.4 110.3 363.4C111.1 363.4 111.9 364.8 112.7 364.8C113.5 364.8 114.3 363.4 115.1 363.4C115.9 363.4 116.7 364.8 117.5 364.8C118.3 364.8 119.1 363.4 119.9 363.4C120.7 363.4 121.5 364.8 122.3 364.8C123.1 364.8 123.9 363.3 124.7 363.3C125.5 363.3 126.3 364.8 127.1 364.8C127.9 364.8 128.7 363.3 129.5 363.3C130.3 363.3 131.1 364.8 131.9 364.8C132.7 364.8 133.5 363.3 134.3 363.3C135.1 363.3 135.9 364.8 136.7 364.8C137.5 364.8 138.3 363.3 139.1 363.3C139.9 363.3 140.7 364.9 141.5 364.9C142.3 364.9 143.1 363.3 143.9 363.3C144.7 363.3 145.5 364.9 146.3 364.9C147.1 364.9 147.9 363.3 148.7 363.3C149.5 363.3 150.3 364.9 151.1 364.9C151.9 364.9 152.7 363.2 153.5 363.2C154.3 363.2 155.1 364.9 155.9 364.9C156.7 364.9 157.5 363.2 158.3 363.2C159.1 363.2 159.9 364.9 160.7 364.9C161.5 364.9 162.3 363.2 163.1 363.2C163.9 363.2 164.7 365.0 165.5 365.0C166.3 365.0 167.1 363.2 167.9 363.2C168.7 363.2 169.5 365.0 170.3 365.0C171.1 365.0 171.9 363.1 172.7 363.1C173.5 363.1 174.3 365.0 175.1 365.0C175.9 365.0 176.7 363.1 177.5 363.1C178.3 363.1 179.1 365.0 179.9 365.0C180.7 365.0 181.5 363.1 182.3 363.1C183.1 363.1 183.9 365.1 184.7 365.1C185.5 365.1 186.3 363.0 187.1 363.0C187.9 363.0 188.7 365.1 189.5 365.1C190.3 365.1 191.1 363.0 191.9 363.0C192.7 363.0 193.5 365.2 194.3 365.2C195.1 365.2 195.9 363.0 196.7 363.0C197.5 363.0 198.3 365.2 199.1 365.2C199.9 365.2 200.7 362.9 201.5 362.9C202.3 362.9 203.1 365.3 203.9 365.3C204.7 365.3 205.5 362.9 206.3 362.9C207.1 362.9 207.9 365.3 208.7 365.3C209.5 365.3 210.3 362.8 211.1 362.8C211.9 362.8 212.7 365.4 213.5 365.4C214.3 365.4 215.1 362.7 215.9 362.7C216.7 362.7 217.5 365.4 218.3 365.4C219.1 365.4 219.9 362.7 220.7 362.7C221.5 362.7 222.3 365.5 223.1 365.5C223.9 365.5 224.7 362.6 225.5 362.6C226.3 362.6 227.1 365.6 227.9 365.6C228.7 365.6 229.5 362.5 230.3 362.5C231.1 362.5 231.9 365.7 232.7 365.7C233.5 365.7 234.3 362.4 235.1 362.4C235.9 362.4 236.7 365.8 237.5 365.8C238.3 365.8 239.1 362.3 239.9 362.3C240.7 362.3 241.5 365.9 242.3 365.9C243.1 365.9 243.9 362.2 244.7 362.2C245.5 362.2 246.3 366.0 247.1 366.0C247.9 366.0 248.7 362.1 249.5 362.1C250.3 362.1 251.1 366.1 251.9 366.1C252.7 366.1 253.5 362.0 254.3 362.0C255.1 362.0 255.9 366.2 256.7 366.2C257.5 366.2 258.3 361.9 259.1 361.9C259.9 361.9 260.7 366.4 261.5 366.4C262.3 366.4 263.1 361.7 263.9 361.7C264.7 361.7 265.5 366.5 266.3 366.5C267.1 366.5 267.9 361.5 268.7 361.5C269.5 361.5 270.3 366.7 271.1 366.7C271.9 366.7 272.7 361.4 273.5 361.4C274.3 361.4 275.1 366.9 275.9 366.9C276.7 366.9 277.5 361.2 278.3 361.2C279.1 361.2 279.9 367.1 280.7 367.1C281.5 367.1 282.3 361.0 283.1 361.0C283.9 361.0 284.7 367.3 285.5 367.3C286.3 367.3 287.1 360.7 287.9 360.7C288.7 360.7 289.5 367.5 290.3 367.5C291.1 367.5 291.9 360.5 292.7 360.5C293.5 360.5 294.3 367.8 295.1 367.8C295.9 367.8 296.7 360.2 297.5 360.2C298.3 360.2 299.1 368.1 299.9 368.1C300.7 368.1 301.5 359.9 302.3 359.9C303.1 359.9 303.9 368.4 304.7 368.4C305.5 368.4 306.3 359.6 307.1 359.6C307.9 359.6 308.7 368.7 309.5 368.7C310.3 368.7 311.1 359.2 311.9 359.2C312.7 359.2 313.5 369.1 314.3 369.1C315.1 369.1 315.9 358.8 316.7 358.8C317.5 358.8 318.3 369.5 319.1 369.5C319.9 369.5 320.7 358.4 321.5 358.4C322.3 358.4 323.1 370.0 323.9 370.0C324.7 370.0 325.5 357.9 326.3 357.9C327.1 357.9 327.9 370.4 328.7 370.4C329.5 370.4 330.3 357.4 331.1 357.4C331.9 357.4 332.7 371.0 333.5 371.0C334.3 371.0 335.1 356.9 335.9 356.9C336.7 356.9 337.5 371.6 338.3 371.6C339.1 371.6 339.9 356.3 340.7 356.3C341.5 356.3 342.3 372.2 343.1 372.2C343.9 372.2 344.7 355.6 345.5 355.6C346.3 355.6 347.1 372.9 347.9 372.9C348.9 372.9 350.0 361.0 351.0 361.0C351.8 361.0 352.7 374.8 353.5 374.8C354.3 374.8 355.2 341.8 356.0 341.8C356.8 341.8 357.7 402.4 358.5 402.4C359.3 402.4 360.2 184.8 361.0 184.8C362.3 184.8 363.7 638.6 365.0 638.6C366.3 638.6 367.7 260.8 369.0 260.8C370.2 260.8 371.3 310.7 372.5 325.2C373.7 339.8 374.8 358.3 376.0 358.3C377.0 358.3 378.0 344.0 379.0 336.3C380.0 328.5 381.0 311.5 382.0 311.5C382.7 311.5 383.5 328.0 384.2 328.0C384.8 328.0 385.4 321.1 386.0 321.1C386.8 321.1 387.7 343.0 388.5 352.8C389.3 362.6 390.2 380.3 391.0 380.3C391.8 380.3 392.7 355.5 393.5 355.5C394.2 355.5 394.9 370.7 395.5 370.7C396.2 370.7 396.9 369.7 397.6 368.6C398.3 367.5 398.9 361.6 399.6 361.6C400.3 361.6 401.0 362.3 401.7 363.4C402.1 364.1 402.6 367.8 403.0 369.9C403.9 374.1 404.8 376.1 405.7 381.6C406.2 384.1 406.6 392.7 407.0 392.7C407.9 392.7 408.9 371.6 409.8 367.2C410.5 363.9 411.2 360.4 411.9 360.4C412.5 360.4 413.2 362.1 413.9 363.1C414.6 364.0 415.3 366.1 415.9 366.1C416.6 366.1 417.3 365.8 418.0 365.8C418.7 365.8 419.3 365.8 420.0 365.7C420.7 365.7 421.4 363.6 422.1 363.6C422.7 363.6 423.4 363.6 424.1 363.8C424.8 363.9 425.5 366.1 426.1 366.1C426.8 366.1 427.5 365.9 428.2 365.7C428.9 365.5 429.5 363.2 430.2 363.2C430.9 363.2 431.6 364.8 432.3 365.4C432.9 365.9 433.6 366.6 434.3 366.6C435.0 366.6 435.7 365.8 436.3 365.8C437.0 365.8 437.7 366.8 438.4 366.8C439.1 366.8 439.7 366.2 440.4 365.7C441.1 365.1 441.8 363.2 442.5 362.4C443.1 361.5 443.8 360.9 444.5 360.2C445.2 359.6 445.9 358.4 446.5 358.4C447.2 358.4 447.9 358.6 448.6 358.7C449.3 358.9 449.9 359.8 450.6 359.8C451.3 359.8 452.0 357.4 452.7 357.4C453.3 357.4 454.0 357.5 454.7 357.8C455.4 358.0 456.1 360.2 456.7 361.5C457.4 362.8 458.1 365.6 458.8 365.6C459.5 365.6 460.1 365.5 460.8 365.3C461.5 365.0 462.2 363.5 462.9 363.0C463.5 362.6 464.2 362.2 464.9 362.2C465.6 362.2 466.3 362.7 466.9 362.7C467.6 362.7 468.3 358.7 469.0 358.7C469.7 358.7 470.3 358.8 471.0 358.8C471.7 358.9 472.4 361.0 473.1 362.0C473.7 363.0 474.4 364.1 475.1 364.9C475.8 365.7 476.5 366.4 477.1 367.2C477.8 367.9 478.5 369.5 479.2 369.5C479.9 369.5 480.5 368.3 481.2 367.8C481.9 367.3 482.6 366.7 483.3 366.5C483.9 366.3 484.6 366.4 485.3 366.2C486.0 366.1 486.7 364.7 487.3 364.7C488.0 364.7 488.7 364.8 489.4 364.9C490.1 365.0 490.7 365.6 491.4 365.6C492.1 365.6 492.8 363.6 493.5 363.0C494.1 362.5 494.8 361.7 495.5 361.7C496.2 361.7 496.9 363.1 497.5 363.1C498.2 363.1 498.9 362.1 499.6 361.6C500.3 361.1 500.9 360.2 501.6 360.2C502.3 360.2 503.0 362.4 503.7 363.3C504.3 364.1 505.0 365.3 505.7 365.6C506.4 365.8 507.1 365.8 507.7 366.0C508.4 366.2 509.1 366.9 509.8 367.3C510.5 367.7 511.1 368.5 511.8 368.5C512.5 368.5 513.2 367.0 513.9 366.8C514.5 366.7 515.2 366.6 515.9 366.5C516.6 366.4 517.3 366.3 517.9 366.3C518.6 366.3 519.3 366.4 520.0 366.5C520.7 366.6 521.3 367.5 522.0 367.5C522.7 367.5 523.4 367.1 524.1 366.5C524.7 366.0 525.4 362.2 526.1 361.8C526.8 361.4 527.5 361.1 528.1 361.1C528.8 361.1 529.5 362.9 530.2 362.9C530.9 362.9 531.5 362.6 532.2 362.3C532.9 362.0 533.6 359.5 534.3 359.3C534.9 359.2 535.6 359.0 536.3 359.0C537.0 359.0 537.7 360.7 538.3 361.6C539.0 362.5 539.7 364.4 540.4 364.4C541.1 364.4 541.7 363.6 542.4 363.0C543.1 362.4 543.8 360.2 544.5 359.8C545.1 359.5 545.8 359.2 546.5 359.2C547.2 359.2 547.9 360.2 548.5 360.7C549.2 361.2 549.9 362.0 550.6 362.3C551.3 362.5 551.9 362.8 552.6 362.8C553.3 362.8 554.0 362.1 554.7 362.1C555.3 362.1 556.0 362.9 556.7 363.0C557.4 363.2 558.1 363.3 558.7 363.3C559.4 363.3 560.1 361.9 560.8 361.9C561.5 361.9 562.1 362.0 562.8 362.1C563.5 362.3 564.2 364.5 564.9 364.8C565.5 365.0 566.2 365.2 566.9 365.2C567.6 365.2 568.3 365.1 568.9 364.9C569.6 364.7 570.3 362.5 571.0 362.5C571.7 362.5 572.3 362.9 573.0 363.0C573.7 363.1 574.4 363.2 575.1 363.2C575.7 363.3 576.4 363.4 577.1 363.4C577.8 363.4 578.5 362.7 579.1 362.6C579.8 362.6 580.5 362.6 581.2 362.5C581.9 362.5 582.5 358.3 583.2 358.3C583.9 358.3 584.6 358.4 585.3 358.5C585.9 358.6 586.6 359.8 587.3 360.2C588.0 360.5 588.7 360.6 589.3 360.8C590.0 361.0 590.7 361.2 591.4 361.4C592.1 361.7 592.7 362.4 593.4 362.4C594.1 362.4 594.8 362.2 595.5 361.9C596.1 361.6 596.8 360.5 597.5 359.6C598.2 358.8 598.9 357.2 599.5 356.6C600.2 356.0 600.9 355.5 601.6 355.5C602.3 355.5 602.9 358.7 603.6 359.8C604.3 361.0 605.0 362.4 605.7 362.7C606.3 363.0 607.0 363.2 607.7 363.2C608.4 363.2 609.1 362.8 609.7 362.8C610.4 362.8 611.1 364.8 611.8 364.8C612.5 364.8 613.1 364.8 613.8 364.8C614.5 364.7 615.2 363.8 615.9 363.5C616.5 363.1 617.2 362.7 617.9 362.4C618.6 362.1 619.3 361.9 619.9 361.5C620.6 361.1 621.3 359.9 622.0 359.9C622.7 359.9 623.3 360.2 624.0 360.3C624.7 360.4 625.4 360.6 626.1 360.6C626.7 360.6 627.4 359.0 628.1 359.0C628.8 359.0 629.5 359.6 630.1 360.2C630.8 360.8 631.5 364.5 632.2 365.2C632.9 365.9 633.5 366.5 634.2 366.5C634.9 366.5 635.6 362.4 636.3 362.4C636.9 362.4 637.6 362.4 638.3 362.4C639.0 362.4 639.7 366.5 640.3 367.9C641.0 369.3 641.7 371.2 642.4 371.2C643.1 371.2 643.7 368.2 644.4 366.9C645.1 365.6 645.8 363.3 646.5 363.3C647.1 363.3 647.8 364.0 648.5 364.6C649.2 365.1 649.9 367.2 650.5 367.2C651.2 367.2 651.9 364.9 652.6 363.5C653.3 362.0 653.9 358.8 654.6 358.0C655.3 357.3 656.0 356.6 656.7 356.6C657.3 356.6 658.0 358.6 658.7 359.4C659.4 360.2 660.1 361.5 660.7 361.5C661.4 361.5 662.1 360.4 662.8 360.4C663.5 360.4 664.1 361.9 664.8 362.2C665.5 362.5 666.2 362.5 666.9 362.7C667.5 362.9 668.2 363.4 668.9 363.7C669.6 364.0 670.3 364.4 670.9 364.6C671.6 364.8 672.3 365.0 673.0 365.0C673.7 365.0 674.3 362.5 675.0 362.5C675.7 362.5 676.4 364.4 677.1 364.4C677.7 364.4 678.4 364.1 679.1 363.8C679.8 363.4 680.5 360.5 681.1 359.1C681.8 357.7 682.5 355.2 683.2 355.2C683.9 355.2 684.5 355.8 685.2 356.3C685.9 356.9 686.6 359.5 687.3 360.3C687.9 361.1 688.6 362.0 689.3 362.0C690.0 362.0 690.7 359.6 691.3 359.0C692.0 358.5 692.7 357.9 693.4 357.9C694.1 357.9 694.7 361.3 695.4 363.1C696.1 364.9 696.8 368.4 697.5 368.8C698.1 369.1 698.8 369.3 699.5 369.3C700.2 369.3 700.9 366.8 701.5 365.8C702.2 364.8 702.9 363.3 703.6 363.3C704.3 363.3 704.9 365.1 705.6 365.1C706.3 365.1 707.0 364.5 707.7 364.0C708.3 363.6 709.0 362.3 709.7 362.3C710.4 362.3 711.1 364.2 711.7 364.6C712.4 365.0 713.1 365.4 713.8 365.4C714.5 365.4 715.1 360.3 715.8 358.8C716.5 357.2 717.2 355.2 717.9 355.2C718.5 355.2 719.2 356.0 719.9 356.5C720.6 357.1 721.3 358.7 721.9 359.2C722.6 359.7 723.3 359.8 724.0 360.1C724.7 360.5 725.3 360.7 726.0 361.3C726.7 361.9 727.4 363.8 728.1 365.1C728.7 366.4 729.4 369.1 730.1 369.1C730.8 369.1 731.5 368.8 732.1 368.5C732.8 368.1 733.5 365.9 734.2 364.5C734.9 363.1 735.5 359.9 736.2 359.9C736.9 359.9 737.6 360.0 738.3 360.0C738.9 360.0 739.6 361.6 740.3 362.2C741.0 362.7 741.7 363.5 742.3 363.5C743.0 363.5 743.7 362.4 744.4 361.6C745.1 360.8 745.7 359.5 746.4 358.4C747.1 357.4 747.8 355.5 748.5 355.5C749.1 355.5 749.8 357.1 750.5 358.2C751.2 359.3 751.9 360.9 752.5 362.5C753.2 364.0 753.9 367.3 754.6 367.3C755.3 367.3 755.9 367.0 756.6 366.7C757.3 366.3 758.0 365.1 758.7 365.0C759.3 364.9 760.0 364.8 760.7 364.8C761.4 364.8 762.1 366.8 762.7 367.3C763.4 367.8 764.1 368.4 764.8 368.4C765.5 368.4 766.1 368.3 766.8 368.2C767.5 368.0 768.2 364.4 768.9 363.2C769.5 362.0 770.2 360.4 770.9 360.4C771.6 360.4 772.3 361.0 772.9 361.1C773.6 361.3 774.3 361.4 775.0 361.4C775.7 361.4 776.3 358.8 777.0 358.8C777.7 358.8 778.4 359.4 779.1 359.8C779.7 360.3 780.4 362.0 781.1 362.0C781.8 362.0 782.5 360.8 783.1 360.4C783.8 360.0 784.5 359.5 785.2 359.5C785.9 359.5 786.5 364.0 787.2 364.5C787.9 365.1 788.6 365.5 789.3 365.5C789.9 365.5 790.6 361.0 791.3 361.0C792.0 361.0 792.7 361.0 793.3 361.0C794.0 361.0 794.7 361.7 795.4 361.7C796.1 361.7 796.7 358.1 797.4 358.1C798.1 358.1 798.8 358.6 799.5 359.2C800.1 359.9 800.8 365.8 801.5 365.8C802.2 365.8 802.9 365.6 803.5 365.3C804.2 365.1 804.9 361.0 805.6 361.0C806.3 361.0 806.9 361.3 807.6 361.6C808.3 361.9 809.0 364.4 809.7 364.4C810.3 364.4 811.0 362.8 811.7 362.3C812.4 361.9 813.1 361.3 813.7 361.3C814.4 361.3 815.1 361.6 815.8 361.7C816.5 361.8 817.1 362.0 817.8 362.0C818.5 362.0 819.2 360.4 819.9 360.4C820.5 360.4 821.2 361.2 821.9 361.3C822.6 361.4 823.3 361.4 823.9 361.4C824.6 361.4 825.3 360.5 826.0 360.5C826.7 360.5 827.3 360.8 828.0 361.0C828.7 361.3 829.4 362.2 830.1 362.2C830.7 362.2 831.4 361.7 832.1 361.7C832.8 361.7 833.5 362.0 834.1 362.3C834.8 362.7 835.5 366.0 836.2 366.0C836.9 366.0 837.5 365.6 838.2 365.1C838.9 364.6 839.6 362.4 840.3 361.5C840.9 360.5 841.6 359.1 842.3 359.1C843.0 359.1 843.7 361.8 844.3 362.4C845.0 363.1 845.7 363.7 846.4 363.7C847.1 363.7 847.7 363.5 848.4 363.2C849.1 363.0 849.8 361.3 850.5 360.6C851.1 359.9 851.8 358.9 852.5 358.9C853.2 358.9 853.9 359.5 854.5 360.2C855.2 361.0 855.9 365.1 856.6 366.1C857.3 367.0 857.9 367.9 858.6 367.9C859.3 367.9 860.0 365.4 860.7 363.9C861.3 362.4 862.0 360.3 862.7 359.0C863.4 357.8 864.1 355.9 864.7 355.9C865.4 355.9 866.1 356.9 866.8 357.6C867.5 358.3 868.1 359.7 868.8 360.6C869.5 361.4 870.2 362.8 870.9 362.8C871.5 362.8 872.2 362.7 872.9 362.7C873.6 362.7 874.3 363.2 874.9 363.5C875.6 363.9 876.3 364.9 877.0 365.5C877.7 366.1 878.3 367.1 879.0 367.1C879.7 367.1 880.4 365.3 881.1 364.8C881.7 364.4 882.4 363.9 883.1 363.9C883.8 363.9 884.5 366.4 885.1 366.8C885.8 367.3 886.5 367.7 887.2 367.7C887.9 367.7 888.5 363.2 889.2 362.6C889.9 361.9 890.6 361.3 891.3 361.3C891.9 361.3 892.6 362.0 893.3 362.0C894.0 362.0 894.7 360.4 895.3 360.0C896.0 359.5 896.7 358.9 897.4 358.9C898.1 358.9 898.7 360.9 899.4 360.9C900.1 361.0 900.8 361.0 901.5 361.0C902.1 361.1 902.8 362.6 903.5 362.6C904.2 362.6 904.9 362.6 905.5 362.6C906.2 362.6 906.9 361.3 907.6 361.3C908.3 361.3 908.9 361.8 909.6 362.3C910.3 362.7 911.0 364.8 911.7 364.8C912.3 364.8 913.0 363.2 913.7 362.2C914.4 361.2 915.1 358.7 915.7 358.7C916.4 358.7 917.1 358.9 917.8 359.1C918.5 359.4 919.1 362.8 919.8 362.8C920.5 362.8 921.2 362.2 921.9 361.7C922.5 361.1 923.2 359.4 923.9 359.4C924.6 359.4 925.3 359.4 925.9 359.5C926.6 359.5 927.3 359.5 928.0 359.6C928.7 359.7 929.3 360.5 930.0 360.9C930.7 361.2 931.4 361.9 932.1 361.9C932.7 361.9 933.4 360.4 934.1 360.4C934.8 360.4 935.5 360.9 936.1 361.2C936.8 361.5 937.5 362.6 938.2 362.6C938.9 362.6 939.5 360.4 940.2 359.3C940.9 358.2 941.6 356.1 942.3 356.1C942.9 356.1 943.6 356.4 944.3 356.8C945.0 357.2 945.7 359.0 946.3 359.9C947.0 360.8 947.7 362.3 948.4 362.3C949.1 362.3 949.7 361.2 950.4 360.5C951.1 359.8 951.8 357.7 952.5 357.7C953.1 357.7 953.8 359.9 954.5 360.5C955.2 361.1 955.9 361.9 956.5 361.9C957.2 361.9 957.9 359.2 958.6 358.5C959.3 357.7 959.9 357.6 960.6 356.8C961.3 356.0 962.0 355.0 962.7 353.0C963.4 350.8 964.2 337.9 965.0 337.9C965.6 337.9 966.2 353.6 966.7 363.0C967.6 376.3 968.4 409.5 969.2 409.5C969.7 409.5 970.3 394.7 970.8 387.6C971.5 378.6 972.2 368.4 972.9 361.4C973.9 350.9 974.9 335.7 975.9 335.7C976.9 335.7 978.0 355.5 979.0 357.6C979.7 359.0 980.3 358.9 981.0 360.2C981.7 361.4 982.4 365.6 983.1 366.6C983.7 367.7 984.4 368.7 985.1 368.7C985.8 368.7 986.5 364.1 987.1 363.2C987.8 362.2 988.5 361.2 989.2 361.2C989.9 361.2 990.5 362.8 991.2 362.8C991.9 362.8 992.6 361.8 993.3 360.8C993.9 359.9 994.6 355.7 995.3 355.6C996.0 355.6 996.7 355.5 997.3 355.5C998.0 355.5 998.7 358.5 999.4 360.8C1000.2 363.7 1001.0 374.4 1001.8 374.4C1002.4 374.4 1002.9 372.3 1003.5 371.5C1004.1 370.5 1004.8 369.6 1005.5 369.0C1006.2 368.3 1006.9 368.0 1007.5 367.2C1008.2 366.4 1008.9 364.4 1009.6 363.7C1010.3 362.9 1010.9 362.0 1011.6 362.0C1012.3 362.0 1013.0 364.0 1013.7 364.0C1014.3 364.0 1015.0 363.9 1015.7 363.6C1016.4 363.4 1017.1 361.4 1017.7 360.7C1018.4 360.1 1019.1 359.3 1019.8 359.3C1020.5 359.3 1021.1 359.6 1021.8 359.7C1022.5 359.7 1023.2 359.7 1023.9 359.7C1024.5 359.8 1025.2 360.8 1025.9 361.8C1026.6 362.7 1027.3 366.0 1027.9 366.2C1028.6 366.4 1029.3 366.5 1030.0 366.5C1030.7 366.5 1031.3 364.0 1032.0 364.0C1032.7 364.0 1033.4 364.0 1034.1 364.0C1034.7 364.0 1035.4 363.9 1036.1 363.9C1036.8 363.8 1037.5 360.2 1038.1 359.6C1038.8 359.0 1039.5 358.5 1040.2 358.5C1040.9 358.5 1041.5 360.8 1042.2 360.8C1042.9 360.8 1043.6 360.8 1044.3 360.8C1044.9 360.7 1045.6 359.5 1046.3 359.5C1047.0 359.5 1047.7 360.2 1048.3 360.3C1049.0 360.5 1049.7 360.6 1050.4 360.6C1051.1 360.6 1051.7 360.5 1052.4 360.4C1053.1 360.4 1053.8 360.2 1054.5 360.2C1055.1 360.2 1055.8 361.4 1056.5 362.4C1057.2 363.3 1057.9 365.5 1058.5 366.4C1059.2 367.4 1059.9 368.8 1060.6 368.8C1061.3 368.8 1061.9 367.9 1062.6 367.6C1063.3 367.3 1064.0 366.9 1064.7 366.9C1065.3 366.9 1066.0 367.3 1066.7 367.3C1067.4 367.3 1068.1 365.9 1068.7 364.8C1069.4 363.6 1070.1 360.5 1070.8 359.7C1071.5 358.8 1072.1 358.0 1072.8 358.0C1073.5 358.0 1074.2 358.1 1074.9 358.3C1075.5 358.4 1076.2 358.7 1076.9 359.3C1077.6 359.8 1078.3 362.1 1078.9 363.0C1079.6 363.9 1080.3 365.2 1081.0 365.2C1081.7 365.2 1082.3 362.2 1083.0 361.0C1083.7 359.8 1084.4 357.7 1085.1 357.7C1085.7 357.7 1086.4 360.7 1087.1 361.9C1087.8 363.1 1088.5 365.0 1089.1 365.0C1089.8 365.0 1090.5 364.3 1091.2 364.1C1091.9 363.9 1092.5 363.7 1093.2 363.7C1093.9 363.7 1094.6 365.5 1095.3 365.5C1095.9 365.5 1096.6 364.7 1097.3 364.2C1098.0 363.8 1098.7 362.8 1099.3 362.8C1100.0 362.8 1100.7 363.1 1101.4 363.5C1102.1 363.9 1102.7 366.3 1103.4 366.9C1104.1 367.4 1104.8 367.9 1105.5 367.9C1106.1 367.9 1106.8 367.9 1107.5 367.9C1108.2 367.9 1108.9 365.1 1109.5 364.3C1110.2 363.6 1110.9 362.7 1111.6 362.7C1112.3 362.7 1112.9 364.0 1113.6 364.2C1114.3 364.4 1115.0 364.7 1115.7 364.7C1116.3 364.7 1117.0 363.1 1117.7 362.9C1118.4 362.6 1119.1 362.6 1119.7 362.4C1120.4 362.1 1121.1 361.2 1121.8 360.9C1122.5 360.7 1123.1 360.4 1123.8 360.4C1124.5 360.4 1125.2 363.1 1125.9 364.1C1126.5 365.2 1127.2 367.0 1127.9 367.0C1128.6 367.0 1129.3 366.0 1129.9 365.8C1130.6 365.6 1131.3 365.5 1132.0 365.5C1132.7 365.5 1133.3 366.3 1134.0 366.3C1134.7 366.3 1135.4 365.9 1136.1 365.5C1136.7 365.1 1137.4 362.4 1138.1 362.4C1138.8 362.4 1139.5 363.1 1140.1 363.4C1140.8 363.8 1141.5 364.5 1142.2 364.5C1142.9 364.5 1143.5 362.0 1144.2 361.7C1144.9 361.4 1145.6 361.2 1146.3 361.2C1146.9 361.2 1147.6 363.5 1148.3 364.4C1149.0 365.2 1149.7 366.4 1150.3 366.4C1151.0 366.4 1151.7 366.3 1152.4 366.3C1153.1 366.3 1153.7 368.1 1154.4 368.5C1155.1 368.9 1155.8 369.3 1156.5 369.3C1157.1 369.3 1157.8 362.0 1158.5 357.8C1158.9 355.1 1159.4 349.1 1159.8 349.1C1160.7 349.1 1161.7 364.9 1162.6 374.5C1163.2 381.1 1163.9 396.9 1164.5 396.9C1165.2 396.9 1165.9 379.7 1166.7 375.0C1167.3 370.6 1168.0 365.1 1168.7 365.1C1169.4 365.1 1170.1 368.2 1170.7 368.2C1171.4 368.2 1172.1 368.0 1172.8 367.7C1173.5 367.5 1174.1 366.4 1174.8 365.6C1175.5 364.9 1176.2 363.3 1176.9 363.3C1177.5 363.3 1178.2 363.3 1178.9 363.3C1179.6 363.3 1180.3 364.1 1180.9 364.1C1181.6 364.1 1182.3 364.1 1183.0 364.1C1183.7 364.0 1184.3 360.3 1185.0 360.3C1185.7 360.3 1186.4 361.3 1187.1 361.6C1187.7 362.0 1188.4 362.6 1189.1 362.6C1189.8 362.6 1190.5 361.9 1191.1 361.9C1191.8 361.9 1192.5 362.1 1193.2 362.5C1193.9 362.8 1194.5 365.4 1195.2 366.3C1195.9 367.2 1196.6 368.4 1197.3 368.4C1197.9 368.5 1198.6 368.5 1199.3 368.5C1200.0 368.5 1200.7 367.6 1201.3 367.2C1202.0 366.8 1202.7 366.4 1203.4 366.2C1204.1 366.0 1204.7 366.1 1205.4 365.9C1206.1 365.6 1206.8 364.0 1207.5 363.7C1208.1 363.4 1208.8 363.2 1209.5 363.2C1210.2 363.2 1210.9 363.4 1211.5 363.6C1212.2 363.8 1212.9 364.2 1213.6 364.2C1214.3 364.2 1214.9 363.5 1215.6 363.3C1216.3 363.1 1217.0 363.1 1217.7 362.9C1218.3 362.7 1219.0 361.7 1219.7 361.7C1220.4 361.7 1221.1 361.8 1221.7 361.9C1222.4 362.0 1223.1 363.6 1223.8 363.6C1224.5 363.6 1225.1 363.6 1225.8 363.6C1226.5 363.5 1227.2 361.1 1227.9 359.2C1228.5 357.4 1229.2 353.5 1229.9 351.3C1230.3 350.1 1230.6 348.0 1231.0 348.0C1232.0 348.0 1233.0 365.8 1234.0 373.5C1234.5 377.6 1235.1 385.0 1235.6 385.0C1236.4 385.0 1237.2 374.1 1238.1 370.2C1238.7 366.9 1239.4 363.7 1240.1 362.0C1240.8 360.3 1241.5 358.2 1242.1 358.2C1242.8 358.2 1243.5 360.0 1244.2 361.3C1244.9 362.6 1245.5 365.6 1246.2 366.5C1246.9 367.4 1247.6 368.4 1248.3 368.4C1248.9 368.4 1249.6 368.2 1250.3 368.1C1251.0 367.9 1251.7 367.3 1252.3 366.5C1253.0 365.8 1253.7 363.8 1254.4 362.5C1255.1 361.3 1255.7 359.1 1256.4 359.1C1257.1 359.1 1257.8 359.2 1258.5 359.5C1259.1 359.8 1259.8 364.1 1260.5 364.6C1261.2 365.1 1261.9 365.5 1262.5 365.5C1263.2 365.5 1263.9 362.5 1264.6 362.3C1265.3 362.0 1265.9 361.8 1266.6 361.8C1267.3 361.8 1268.0 363.3 1268.7 363.3C1269.3 363.3 1270.0 362.1 1270.7 361.4C1271.4 360.7 1272.1 359.2 1272.7 359.2C1273.4 359.2 1274.1 359.5 1274.8 359.9C1275.5 360.3 1276.1 361.9 1276.8 363.8C1277.5 365.8 1278.2 371.8 1278.9 375.6C1279.2 377.7 1279.6 381.7 1280.0 381.7C1281.0 381.7 1282.0 368.6 1282.9 366.5C1283.6 365.0 1284.3 364.2 1285.0 363.6C1285.7 362.9 1286.3 362.0 1287.0 362.0C1287.7 362.0 1288.4 363.0 1289.1 363.7C1289.7 364.3 1290.4 365.5 1291.1 366.1C1291.8 366.7 1292.5 367.5 1293.1 367.5C1293.8 367.5 1294.5 366.0 1295.2 364.8C1295.9 363.7 1296.5 361.2 1297.2 359.8C1297.9 358.4 1298.6 356.8 1299.3 356.3C1299.9 355.8 1300.6 355.4 1301.3 355.4C1302.0 355.4 1302.7 357.1 1303.3 358.0C1304.0 359.0 1304.7 360.6 1305.4 361.0C1306.1 361.5 1306.7 362.0 1307.4 362.0C1308.1 362.0 1308.8 359.9 1309.5 359.9C1310.1 359.9 1310.8 360.2 1311.5 360.6C1312.2 361.0 1312.9 363.0 1313.5 364.0C1314.2 364.9 1314.9 366.4 1315.6 366.4C1316.3 366.4 1316.9 366.0 1317.6 365.7C1318.3 365.4 1319.0 364.4 1319.7 364.4C1320.3 364.4 1321.0 365.4 1321.7 365.4C1322.4 365.4 1323.1 365.4 1323.7 365.3C1324.4 365.3 1325.1 363.9 1325.8 362.9C1326.5 361.9 1327.1 359.3 1327.8 358.8C1328.5 358.2 1329.2 357.8 1329.9 357.8C1330.5 357.8 1331.2 358.6 1331.9 359.3C1332.6 359.9 1333.3 361.1 1333.9 362.1C1334.6 363.1 1335.3 364.8 1336.0 365.3C1336.7 365.8 1337.3 366.4 1338.0 366.4C1338.7 366.4 1339.4 364.1 1340.1 362.7C1340.7 361.4 1341.4 359.1 1342.1 358.3C1342.8 357.5 1343.5 356.9 1344.1 356.6C1344.8 356.3 1345.5 356.1 1346.2 356.1C1346.9 356.1 1347.5 356.7 1348.2 357.3C1348.9 358.0 1349.6 361.5 1350.3 362.4C1350.9 363.3 1351.6 364.2 1352.3 364.2C1353.0 364.2 1353.7 363.0 1354.3 362.3C1355.0 361.6 1355.7 359.8 1356.4 359.8C1357.1 359.8 1357.7 360.5 1358.4 361.2C1359.1 361.8 1359.8 363.5 1360.5 364.7C1361.1 365.9 1361.8 368.3 1362.5 368.3C1363.2 368.3 1363.9 365.9 1364.5 364.6C1365.2 363.4 1365.9 360.6 1366.6 360.6C1367.3 360.6 1367.9 361.6 1368.6 362.1C1369.3 362.6 1370.0 363.7 1370.7 363.7C1371.3 363.7 1372.0 361.7 1372.7 360.7C1373.4 359.7 1374.1 357.7 1374.7 357.7C1375.4 357.7 1376.1 359.1 1376.8 359.9C1377.5 360.6 1378.1 361.5 1378.8 362.1C1379.5 362.6 1380.2 362.8 1380.9 363.4C1381.5 364.0 1382.2 365.1 1382.9 366.0C1383.6 366.9 1384.3 368.9 1384.9 368.9C1385.6 368.9 1386.3 366.7 1387.0 366.0C1387.7 365.2 1388.3 364.2 1389.0 364.2C1389.7 364.2 1390.4 365.2 1391.1 365.9C1391.7 366.5 1392.4 368.4 1393.1 368.4C1393.8 368.4 1394.5 367.0 1395.1 366.6C1395.8 366.3 1396.5 366.0 1397.2 366.0C1397.9 366.0 1398.5 366.9 1399.2 367.6C1399.9 368.3 1400.6 370.3 1401.3 370.3C1401.9 370.3 1402.6 369.2 1403.3 368.4C1404.0 367.5 1404.7 364.8 1405.3 364.5C1406.0 364.3 1406.7 364.2 1407.4 364.2C1408.1 364.2 1408.7 364.5 1409.4 364.5C1410.1 364.5 1410.8 362.6 1411.5 362.0C1412.1 361.4 1412.8 360.7 1413.5 360.7C1414.2 360.7 1414.9 361.0 1415.5 361.2" stroke="#9a4d00"/>
<path d="M38.4 363.9C39.1 364.3 40.0 365.1 40.8 365.1C41.5 365.1 42.4 363.8 43.1 363.8C43.9 363.8 44.8 365.1 45.5 365.1C46.3 365.1 47.1 363.8 47.9 363.8C48.7 363.8 49.5 365.1 50.3 365.1C51.1 365.1 51.9 363.8 52.7 363.8C53.5 363.8 54.3 365.1 55.1 365.1C55.9 365.1 56.7 363.8 57.5 363.8C58.3 363.8 59.1 365.1 59.9 365.1C60.7 365.1 61.5 363.8 62.3 363.8C63.1 363.8 63.9 365.1 64.7 365.1C65.5 365.1 66.3 363.8 67.1 363.8C67.9 363.8 68.8 365.1 69.5 365.1C70.3 365.1 71.2 363.8 72.0 363.8C72.8 363.8 73.6 365.2 74.4 365.2C75.2 365.2 76.0 363.8 76.8 363.8C77.6 363.8 78.4 365.2 79.2 365.2C80.0 365.2 80.8 363.8 81.6 363.8C82.4 363.8 83.2 365.2 84.0 365.2C84.8 365.2 85.6 363.8 86.4 363.8C87.2 363.8 88.0 365.2 88.8 365.2C89.6 365.2 90.4 363.8 91.2 363.8C92.0 363.8 92.8 365.2 93.6 365.2C94.4 365.2 95.2 363.8 96.0 363.8C96.8 363.8 97.6 365.2 98.4 365.2C99.2 365.2 100.0 363.8 100.8 363.8C101.6 363.8 102.4 365.2 103.2 365.2C104.0 365.2 104.8 363.8 105.6 363.8C106.4 363.8 107.2 365.2 108.0 365.2C108.8 365.2 109.6 363.8 110.4 363.8C111.2 363.8 112.0 365.2 112.8 365.2C113.6 365.2 114.4 363.8 115.2 363.8C116.0 363.8 116.8 365.2 117.6 365.2C118.4 365.2 119.2 363.7 120.0 363.7C120.8 363.7 121.6 365.2 122.4 365.2C123.2 365.2 124.0 363.7 124.8 363.7C125.6 363.7 126.4 365.2 127.2 365.2C128.0 365.2 128.8 363.7 129.6 363.7C130.4 363.7 131.2 365.3 132.0 365.3C132.8 365.3 133.6 363.7 134.4 363.7C135.2 363.7 136.0 365.3 136.8 365.3C137.6 365.3 138.4 363.7 139.2 363.7C140.0 363.7 140.8 365.3 141.6 365.3C142.4 365.3 143.2 363.7 144.0 363.7C144.8 363.7 145.6 365.3 146.4 365.3C147.2 365.3 148.0 363.7 148.8 363.7C149.6 363.7 150.4 365.3 151.2 365.3C152.0 365.3 152.8 363.6 153.6 363.6C154.4 363.6 155.2 365.4 156.0 365.4C156.8 365.4 157.6 363.6 158.4 363.6C159.2 363.6 160.0 365.4 160.8 365.4C161.6 365.4 162.4 363.6 163.2 363.6C164.0 363.6 164.8 365.4 165.6 365.4C166.4 365.4 167.2 363.6 168.0 363.6C168.8 363.6 169.6 365.4 170.4 365.4C171.2 365.4 172.0 363.5 172.8 363.5C173.6 363.5 174.4 365.5 175.2 365.5C176.0 365.5 176.8 363.5 177.6 363.5C178.4 363.5 179.2 365.5 180.0 365.5C180.8 365.5 181.6 363.5 182.4 363.5C183.2 363.5 184.0 365.5 184.8 365.5C185.6 365.5 186.4 363.4 187.2 363.4C188.0 363.4 188.8 365.6 189.6 365.6C190.4 365.6 191.2 363.4 192.0 363.4C192.8 363.4 193.6 365.6 194.4 365.6C195.2 365.6 196.0 363.3 196.8 363.3C197.6 363.3 198.4 365.7 199.2 365.7C200.0 365.7 200.8 363.3 201.6 363.3C202.4 363.3 203.2 365.7 204.0 365.7C204.8 365.7 205.6 363.2 206.4 363.2C207.2 363.2 208.0 365.8 208.8 365.8C209.6 365.8 210.4 363.2 211.2 363.2C212.0 363.2 212.8 365.8 213.6 365.8C214.4 365.8 215.2 363.1 216.0 363.1C216.8 363.1 217.6 365.9 218.4 365.9C219.2 365.9 220.0 363.0 220.8 363.0C221.6 363.0 222.4 366.0 223.2 366.0C224.0 366.0 224.8 363.0 225.6 363.0C226.4 363.0 227.2 366.1 228.0 366.1C228.8 366.1 229.6 362.9 230.4 362.9C231.2 362.9 232.0 366.1 232.8 366.1C233.6 366.1 234.4 362.8 235.2 362.8C236.0 362.8 236.8 366.2 237.6 366.2C238.4 366.2 239.2 362.7 240.0 362.7C240.8 362.7 241.6 366.3 242.4 366.3C243.2 366.3 244.0 362.6 244.8 362.6C245.6 362.6 246.4 366.4 247.2 366.4C248.0 366.4 248.8 362.5 249.6 362.5C250.4 362.5 251.2 366.6 252.0 366.6C252.8 366.6 253.6 362.3 254.4 362.3C255.2 362.3 256.0 366.7 256.8 366.7C257.6 366.7 258.4 362.2 259.2 362.2C260.0 362.2 260.8 366.9 261.6 366.9C262.4 366.9 263.2 362.0 264.0 362.0C264.8 362.0 265.6 367.0 266.4 367.0C267.2 367.0 268.0 361.9 268.8 361.9C269.6 361.9 270.4 367.2 271.2 367.2C272.0 367.2 272.8 361.7 273.6 361.7C274.4 361.7 275.2 367.4 276.0 367.4C276.8 367.4 277.6 361.5 278.4 361.5C279.2 361.5 280.0 367.6 280.8 367.6C281.6 367.6 282.4 361.3 283.2 361.3C284.0 361.3 284.8 367.8 285.6 367.8C286.4 367.8 287.2 361.0 288.0 361.0C288.8 361.0 289.6 368.1 290.4 368.1C291.2 368.1 292.0 360.8 292.8 360.8C293.6 360.8 294.4 368.3 295.2 368.3C296.0 368.3 296.8 360.5 297.6 360.5C298.4 360.5 299.1 368.6 299.9 368.6C300.8 368.6 301.5 360.2 302.3 360.2C303.1 360.2 303.9 369.0 304.7 369.0C305.5 369.0 306.3 359.9 307.1 359.9C307.9 359.9 308.7 369.3 309.5 369.3C310.3 369.3 311.1 359.5 311.9 359.5C312.7 359.5 313.5 369.7 314.3 369.7C315.1 369.7 315.9 359.1 316.7 359.1C317.5 359.1 318.3 370.1 319.1 370.1C319.9 370.1 320.7 358.6 321.5 358.6C322.3 358.6 323.1 370.6 323.9 370.6C324.7 370.6 325.5 358.2 326.3 358.2C327.1 358.2 327.9 371.1 328.7 371.1C329.5 371.1 330.3 357.6 331.1 357.6C331.9 357.6 332.7 371.6 333.5 371.6C334.3 371.6 335.1 357.1 335.9 357.1C336.7 357.1 337.5 372.2 338.3 372.2C339.1 372.2 339.9 356.5 340.7 356.5C341.5 356.5 342.3 372.9 343.1 372.9C343.9 372.9 344.7 355.8 345.5 355.8C346.3 355.8 347.1 373.6 347.9 373.6C348.7 373.6 349.5 355.0 350.3 355.0C350.9 355.0 351.4 358.7 352.0 361.0C352.8 364.6 353.7 374.8 354.5 374.8C355.3 374.8 356.2 339.0 357.0 339.0C357.8 339.0 358.7 390.3 359.5 418.9C360.3 447.4 361.2 511.2 362.0 511.2C362.5 511.2 363.1 398.1 363.6 336.3C364.3 258.9 364.9 87.8 365.6 87.8C366.3 87.8 366.9 285.5 367.6 350.0C368.3 417.8 369.0 510.6 369.7 510.6C370.5 510.6 371.2 470.1 372.0 454.7C372.9 437.3 373.7 427.2 374.6 410.6C375.2 398.5 375.9 378.6 376.5 369.3C377.2 359.5 377.8 347.3 378.5 347.3C379.3 347.3 380.2 377.6 381.0 377.6C382.0 377.6 383.0 352.8 384.0 352.8C385.0 352.8 386.0 380.3 387.0 380.3C387.7 380.3 388.4 372.1 389.0 368.9C389.7 365.7 390.4 361.8 391.1 360.7C391.8 359.6 392.4 358.7 393.1 358.7C393.8 358.7 394.5 364.3 395.2 367.0C395.8 369.6 396.5 374.4 397.2 374.8C397.9 375.2 398.6 375.5 399.2 375.5C399.9 375.5 400.6 375.4 401.3 375.2C402.0 375.0 402.6 374.3 403.3 373.3C404.0 372.4 404.7 369.7 405.4 367.3C406.0 365.0 406.7 361.3 407.4 358.6C408.1 355.9 408.8 351.1 409.4 351.1C410.1 351.1 410.8 352.4 411.5 353.9C412.2 355.5 412.8 366.7 413.5 366.7C414.2 366.7 414.9 366.5 415.6 366.2C416.2 365.9 416.9 351.8 417.6 351.8C418.3 351.7 419.0 351.7 419.6 351.7C420.3 351.7 421.0 357.2 421.7 357.2C422.4 357.2 423.0 356.6 423.7 355.9C424.4 355.3 425.1 350.1 425.8 350.1C426.4 350.1 427.1 354.2 427.8 356.8C428.5 359.3 429.2 365.5 429.8 365.6C430.5 365.6 431.2 365.7 431.9 365.7C432.6 365.7 433.2 356.8 433.9 354.3C434.6 351.8 435.3 348.8 436.0 348.8C436.6 348.8 437.3 351.2 438.0 353.3C438.7 355.4 439.4 362.4 440.0 364.1C440.7 365.8 441.4 367.5 442.1 367.5C442.8 367.5 443.4 366.9 444.1 366.0C444.8 365.0 445.5 358.4 446.2 352.6C446.8 347.4 447.4 330.7 448.0 330.7C448.7 330.7 449.5 350.7 450.2 354.7C450.9 358.4 451.6 362.2 452.3 362.2C453.0 362.2 453.6 361.7 454.3 361.1C455.0 360.6 455.7 358.4 456.4 357.0C457.0 355.7 457.7 354.5 458.4 353.0C459.1 351.5 459.8 347.6 460.4 347.6C461.1 347.6 461.8 353.7 462.5 353.7C463.2 353.7 463.8 348.4 464.5 344.8C464.9 342.7 465.3 337.4 465.7 337.4C466.7 337.4 467.6 354.9 468.6 354.9C469.3 355.0 470.0 355.0 470.6 355.0C471.3 355.0 472.0 357.6 472.7 357.6C473.4 357.6 474.0 354.5 474.7 354.5C475.4 354.5 476.1 356.4 476.8 356.4C477.4 356.4 478.1 350.0 478.8 344.1C479.5 338.3 480.1 312.8 480.8 312.8C481.8 312.8 482.8 410.6 483.8 410.6C484.2 410.6 484.5 396.4 484.9 389.0C485.6 375.2 486.3 346.3 487.0 346.3C487.7 346.3 488.3 348.7 489.0 350.2C489.7 351.7 490.4 353.4 491.0 355.5C491.7 357.5 492.4 361.1 493.1 363.0C493.8 364.9 494.4 367.6 495.1 367.6C495.8 367.6 496.5 366.6 497.2 366.1C497.8 365.7 498.5 364.8 499.2 364.8C499.9 364.8 500.6 365.3 501.2 365.6C501.9 365.8 502.6 366.2 503.3 366.2C504.0 366.2 504.6 362.2 505.3 360.4C506.0 358.6 506.7 355.3 507.4 355.3C508.0 355.3 508.7 358.5 509.4 359.9C510.1 361.4 510.8 363.9 511.4 363.9C512.1 363.9 512.8 360.7 513.5 360.7C514.2 360.7 514.8 364.5 515.5 366.3C516.2 368.0 516.9 371.2 517.6 371.2C518.2 371.2 518.9 366.2 519.6 364.2C520.3 362.3 521.0 359.2 521.6 359.2C522.3 359.2 523.0 360.0 523.7 360.3C524.4 360.6 525.0 360.5 525.7 361.0C526.4 361.4 527.1 367.4 527.8 368.4C528.4 369.3 529.1 370.1 529.8 370.1C530.5 370.1 531.2 368.4 531.8 367.2C532.5 366.1 533.2 364.5 533.9 363.1C534.6 361.7 535.2 358.8 535.9 358.7C536.6 358.7 537.3 358.7 538.0 358.7C538.6 358.7 539.3 363.4 540.0 363.4C540.7 363.4 541.4 357.8 542.0 355.1C542.7 352.4 543.4 347.2 544.1 347.2C544.8 347.2 545.4 349.6 546.1 349.8C546.8 350.0 547.5 350.1 548.2 350.1C548.8 350.1 549.5 349.0 550.2 349.0C550.9 349.0 551.6 351.6 552.2 353.8C552.9 356.0 553.6 361.2 554.3 364.8C555.0 368.5 555.6 375.8 556.3 375.8C557.0 375.8 557.7 375.7 558.4 375.4C559.0 375.1 559.7 365.3 560.4 361.7C561.1 358.0 561.8 352.9 562.4 352.5C563.1 352.2 563.8 352.0 564.5 352.0C565.2 352.0 565.8 357.3 566.5 358.5C567.2 359.7 567.9 361.1 568.6 361.1C569.2 361.1 569.9 358.5 570.6 356.6C571.3 354.7 572.0 348.8 572.6 348.8C573.3 348.8 574.0 353.9 574.7 357.0C575.4 360.1 576.0 364.6 576.7 367.9C577.4 371.3 578.1 374.8 578.8 377.5C579.3 379.6 579.9 383.1 580.4 383.1C581.2 383.1 582.0 371.8 582.8 369.5C583.5 367.6 584.2 365.6 584.9 365.6C585.6 365.6 586.2 367.8 586.9 368.8C587.6 369.7 588.3 370.5 589.0 371.4C589.6 372.3 590.3 374.4 591.0 374.4C591.7 374.4 592.4 374.2 593.0 373.8C593.7 373.4 594.4 365.6 595.1 362.2C595.8 358.8 596.4 356.9 597.1 353.2C598.0 348.2 599.0 333.5 599.9 333.5C600.3 333.5 600.8 340.8 601.2 345.1C602.1 354.5 603.1 378.7 604.0 378.7C604.4 378.7 604.9 377.5 605.3 376.0C606.0 373.6 606.6 351.6 607.3 339.1C607.9 328.8 608.4 307.6 609.0 307.6C609.8 307.6 610.6 340.9 611.4 355.7C612.3 371.7 613.1 400.2 614.0 400.2C614.5 400.2 615.0 387.8 615.5 381.5C616.2 372.7 616.8 357.2 617.5 354.4C618.2 351.5 618.9 349.3 619.6 349.3C620.2 349.3 620.9 353.6 621.6 355.6C622.3 357.6 623.0 359.0 623.6 361.4C624.3 363.9 625.0 367.6 625.7 371.4C626.3 374.8 626.9 383.1 627.5 383.1C628.3 383.1 629.0 373.9 629.8 368.8C630.4 364.3 631.1 354.3 631.8 354.3C632.5 354.3 633.2 354.8 633.8 355.5C634.5 356.2 635.2 367.9 635.9 368.0C636.6 368.1 637.2 368.1 637.9 368.1C638.6 368.1 639.3 353.1 640.0 347.1C640.4 343.4 640.8 337.1 641.2 337.1C642.1 337.1 643.1 356.0 644.0 361.4C644.7 365.2 645.4 370.3 646.1 370.3C646.8 370.3 647.4 368.3 648.1 366.7C648.8 365.2 649.5 361.2 650.2 359.6C650.8 358.1 651.5 356.1 652.2 356.1C652.9 356.1 653.6 357.1 654.2 357.1C654.9 357.1 655.6 354.8 656.3 354.8C657.0 354.8 657.6 359.3 658.3 359.3C659.0 359.3 659.7 355.2 660.4 352.2C660.9 349.7 661.5 342.3 662.0 342.3C662.8 342.3 663.6 348.2 664.4 350.7C665.1 352.8 665.8 353.6 666.5 356.4C667.2 359.1 667.8 370.8 668.5 371.1C669.2 371.5 669.9 371.7 670.6 371.7C671.2 371.7 671.9 359.1 672.6 357.4C673.3 355.6 674.0 355.6 674.6 354.1C675.4 352.4 676.2 345.6 677.0 345.6C677.6 345.6 678.1 351.9 678.7 354.2C679.4 357.0 680.1 359.5 680.8 361.3C681.4 363.1 682.1 365.7 682.8 365.7C683.5 365.7 684.2 357.2 684.8 351.7C685.4 347.2 685.9 335.4 686.5 335.4C687.3 335.4 688.1 350.2 688.9 354.6C689.6 358.3 690.3 360.7 691.0 363.3C691.6 365.9 692.3 370.5 693.0 370.5C693.7 370.5 694.4 368.3 695.0 366.7C695.7 365.0 696.4 362.1 697.1 359.8C697.8 357.4 698.4 352.8 699.1 352.8C699.8 352.8 700.5 354.5 701.2 355.4C701.8 356.4 702.5 357.3 703.2 358.8C703.9 360.2 704.6 363.4 705.2 365.2C705.9 367.0 706.6 368.2 707.3 369.9C708.0 371.5 708.6 375.0 709.3 375.0C710.0 375.0 710.7 372.8 711.4 371.2C712.0 369.5 712.7 364.6 713.4 364.2C714.1 363.8 714.8 363.5 715.4 363.5C716.1 363.5 716.8 363.9 717.5 364.2C718.2 364.5 718.8 365.3 719.5 365.3C720.2 365.3 720.9 364.8 721.6 364.8C722.2 364.8 722.9 366.9 723.6 367.2C724.3 367.6 725.0 367.5 725.6 367.9C726.3 368.4 727.0 372.6 727.7 372.6C728.4 372.6 729.0 367.7 729.7 367.3C730.4 367.0 731.1 366.8 731.8 366.8C732.4 366.8 733.1 368.4 733.8 368.7C734.5 369.1 735.2 369.6 735.8 369.6C736.5 369.6 737.2 364.6 737.9 363.9C738.6 363.2 739.2 363.0 739.9 362.6C740.6 362.2 741.3 361.5 742.0 361.5C742.6 361.5 743.3 363.7 744.0 365.2C744.7 366.6 745.4 370.6 746.0 370.6C746.7 370.6 747.4 370.5 748.1 370.5C748.8 370.4 749.4 364.1 750.1 362.7C750.8 361.4 751.5 360.1 752.2 360.1C752.8 360.1 753.5 365.4 754.2 366.9C754.9 368.3 755.6 370.1 756.2 370.1C756.9 370.1 757.6 366.7 758.3 364.6C759.0 362.4 759.6 356.8 760.3 356.6C761.0 356.5 761.7 356.4 762.4 356.4C763.0 356.4 763.7 361.2 764.4 364.1C765.1 366.9 765.8 374.0 766.4 374.0C767.1 374.0 767.8 373.7 768.5 373.3C769.2 372.9 769.8 367.3 770.5 364.8C771.2 362.3 771.9 359.9 772.6 358.1C773.2 356.4 773.9 354.7 774.6 353.9C775.3 353.1 776.0 352.2 776.6 352.2C777.3 352.2 778.0 355.0 778.7 357.3C779.4 359.6 780.0 366.6 780.7 367.7C781.4 368.8 782.1 369.7 782.8 369.7C783.4 369.7 784.1 368.6 784.8 368.6C785.5 368.6 786.2 370.4 786.8 371.2C787.5 372.0 788.2 373.3 788.9 373.3C789.6 373.3 790.2 372.7 790.9 372.4C791.6 372.0 792.3 371.7 793.0 371.2C793.6 370.6 794.3 369.4 795.0 367.9C795.7 366.5 796.4 361.5 797.0 361.2C797.7 360.9 798.4 360.8 799.1 360.6C799.8 360.4 800.4 360.0 801.1 360.0C801.8 360.0 802.5 369.2 803.2 374.5C803.8 379.2 804.4 390.0 805.0 390.0C805.7 390.0 806.5 373.7 807.2 363.6C807.7 357.0 808.2 340.9 808.7 340.9C809.6 340.9 810.4 362.9 811.3 364.3C812.0 365.3 812.7 366.0 813.4 366.0C814.0 366.0 814.7 361.8 815.4 361.5C816.1 361.2 816.8 361.3 817.4 361.0C818.1 360.8 818.8 360.0 819.5 360.0C820.2 360.0 820.8 360.7 821.5 361.5C822.2 362.4 822.9 369.3 823.6 371.3C824.2 373.3 824.9 375.6 825.6 375.6C826.3 375.6 827.0 374.7 827.6 374.7C828.3 374.7 829.0 374.7 829.7 374.7C830.4 374.7 831.0 369.9 831.7 367.3C832.4 364.6 833.1 361.0 833.8 358.5C834.4 356.0 835.1 355.1 835.8 351.9C836.7 347.7 837.6 327.2 838.5 327.2C839.0 327.2 839.4 346.9 839.9 357.6C840.6 373.2 841.2 407.3 841.9 407.3C842.6 407.3 843.3 379.0 844.0 366.4C844.5 356.4 845.1 338.5 845.6 338.5C846.4 338.5 847.2 353.9 848.0 357.6C848.7 360.8 849.4 363.6 850.1 364.4C850.8 365.2 851.4 365.0 852.1 365.9C852.8 366.7 853.5 373.8 854.2 377.4C854.7 380.4 855.3 385.8 855.8 385.8C856.6 385.8 857.4 379.1 858.2 376.1C858.9 373.6 859.6 371.8 860.3 369.2C861.0 366.5 861.6 360.8 862.3 359.7C863.0 358.5 863.7 357.6 864.4 357.6C865.0 357.6 865.7 357.8 866.4 357.9C867.1 358.1 867.8 358.3 868.4 358.7C869.1 359.2 869.8 361.9 870.5 364.2C871.2 366.5 871.8 373.1 872.5 373.1C873.2 373.1 873.9 371.7 874.6 371.4C875.2 371.1 875.9 371.2 876.6 370.9C877.3 370.6 878.0 369.8 878.6 368.8C879.3 367.9 880.0 366.5 880.7 364.5C881.4 362.5 882.0 358.4 882.7 354.5C883.6 349.4 884.5 335.4 885.4 335.4C885.9 335.4 886.3 344.3 886.8 348.7C887.5 355.1 888.2 367.9 888.8 367.9C889.5 367.9 890.2 366.7 890.9 365.9C891.6 365.0 892.2 363.0 892.9 362.5C893.6 362.0 894.3 362.1 895.0 361.5C896.0 360.6 897.0 341.8 898.0 341.8C899.0 341.8 900.1 368.9 901.1 370.5C901.8 371.6 902.4 372.4 903.1 372.4C903.8 372.4 904.5 362.0 905.2 358.9C905.8 355.7 906.5 351.7 907.2 351.7C907.9 351.7 908.6 352.4 909.2 352.6C909.9 352.8 910.6 352.8 911.3 353.0C912.0 353.3 912.6 357.3 913.3 360.2C914.0 363.2 914.7 369.4 915.4 371.9C916.0 374.5 916.7 377.6 917.4 377.6C918.1 377.6 918.8 375.0 919.4 372.9C920.1 370.9 920.8 365.7 921.5 363.7C922.2 361.7 922.8 359.4 923.5 359.3C924.2 359.1 924.9 359.1 925.6 359.1C926.2 359.0 926.9 358.9 927.6 358.9C928.3 358.9 929.0 358.9 929.6 358.9C930.3 358.9 931.0 361.3 931.7 363.4C932.4 365.5 933.0 370.5 933.7 373.4C934.2 375.7 934.8 379.5 935.3 379.5C936.1 379.5 937.0 362.6 937.8 355.5C938.2 352.0 938.6 345.9 939.0 345.9C940.0 345.9 940.9 360.4 941.9 360.4C942.6 360.4 943.2 357.1 943.9 357.1C944.6 357.1 945.3 357.5 946.0 358.2C946.6 358.8 947.3 365.2 948.0 367.1C948.7 369.1 949.4 371.5 950.0 371.5C950.7 371.5 951.4 370.6 952.1 370.3C952.8 370.0 953.4 369.6 954.1 369.6C954.8 369.6 955.5 372.4 956.2 372.4C956.8 372.4 957.5 370.0 958.2 368.7C958.9 367.3 959.6 364.1 960.2 364.1C961.3 364.1 962.3 381.7 963.3 381.7C964.4 381.7 965.6 340.9 966.7 340.9C967.3 340.9 967.8 348.2 968.4 351.5C969.1 355.6 969.8 361.4 970.4 363.0C971.1 364.7 971.8 366.3 972.5 366.3C973.2 366.3 973.8 365.6 974.5 364.8C975.2 364.0 975.9 359.9 976.6 358.8C977.2 357.6 977.9 356.4 978.6 356.4C979.3 356.4 980.0 363.2 980.6 365.1C981.3 366.9 982.0 369.2 982.7 369.2C983.4 369.2 984.0 365.5 984.7 363.4C985.4 361.4 986.1 356.8 986.8 356.8C987.4 356.8 988.1 357.6 988.8 357.9C989.5 358.2 990.2 358.6 990.8 358.6C991.5 358.6 992.2 355.8 992.9 355.5C993.6 355.2 994.2 355.0 994.9 355.0C995.6 355.0 996.3 361.3 997.0 362.5C997.6 363.6 998.3 364.8 999.0 364.8C999.7 364.8 1000.4 360.5 1001.0 359.2C1001.7 357.8 1002.4 355.9 1003.1 355.9C1003.8 355.9 1004.4 358.6 1005.1 358.6C1005.8 358.6 1006.5 357.4 1007.2 356.6C1007.8 355.8 1008.5 353.7 1009.2 353.7C1009.9 353.7 1010.6 355.4 1011.2 356.5C1011.9 357.6 1012.6 359.9 1013.3 360.7C1014.0 361.5 1014.6 362.0 1015.3 362.4C1016.0 362.9 1016.7 363.1 1017.4 363.6C1018.0 364.1 1018.7 365.8 1019.4 365.8C1020.1 365.8 1020.8 365.2 1021.4 365.2C1022.1 365.2 1022.8 366.1 1023.5 366.1C1024.2 366.1 1024.8 363.5 1025.5 363.5C1026.2 363.5 1026.9 365.2 1027.6 365.2C1028.2 365.2 1028.9 365.0 1029.6 365.0C1030.3 365.0 1031.0 366.4 1031.6 366.4C1032.3 366.4 1033.0 362.2 1033.7 361.9C1034.4 361.7 1035.0 361.6 1035.7 361.6C1036.4 361.6 1037.1 363.9 1037.8 365.4C1038.4 366.8 1039.1 370.6 1039.8 370.6C1040.5 370.6 1041.2 365.5 1041.8 363.8C1042.5 362.0 1043.2 360.5 1043.9 359.5C1044.6 358.5 1045.2 358.0 1045.9 357.3C1046.6 356.6 1047.3 355.4 1048.0 355.4C1048.6 355.4 1049.3 358.7 1050.0 359.8C1050.7 361.0 1051.4 362.8 1052.0 362.8C1052.7 362.8 1053.4 356.4 1054.1 354.3C1054.8 352.2 1055.4 349.1 1056.1 349.1C1056.8 349.1 1057.5 353.3 1058.2 355.2C1058.8 357.1 1059.5 360.5 1060.2 360.7C1060.9 360.8 1061.6 361.0 1062.2 361.0C1062.9 361.0 1063.6 359.1 1064.3 359.1C1065.0 359.1 1065.6 359.8 1066.3 360.2C1067.0 360.6 1067.7 361.3 1068.4 361.5C1069.0 361.7 1069.7 361.9 1070.4 361.9C1071.1 361.9 1071.8 358.9 1072.4 358.9C1073.1 358.9 1073.8 358.9 1074.5 358.9C1075.2 358.9 1075.8 363.2 1076.5 365.0C1077.2 366.9 1077.9 370.2 1078.6 370.2C1079.2 370.2 1079.9 364.0 1080.6 362.4C1081.3 360.9 1082.0 359.1 1082.6 359.1C1083.3 359.1 1084.0 365.9 1084.7 366.4C1085.4 366.9 1086.0 367.3 1086.7 367.3C1087.4 367.3 1088.1 358.4 1088.8 358.4C1089.4 358.4 1090.1 358.5 1090.8 358.5C1091.5 358.6 1092.2 364.7 1092.8 364.7C1093.5 364.7 1094.2 362.3 1094.9 360.8C1095.6 359.4 1096.2 356.0 1096.9 356.0C1097.6 356.0 1098.3 356.7 1099.0 356.7C1099.6 356.7 1100.3 355.9 1101.0 355.9C1101.7 355.8 1102.4 355.8 1103.0 355.8C1103.7 355.8 1104.4 359.5 1105.1 359.5C1105.8 359.5 1106.4 358.8 1107.1 358.2C1107.8 357.6 1108.5 354.6 1109.2 354.6C1109.8 354.6 1110.5 357.3 1111.2 359.0C1111.9 360.7 1112.6 364.0 1113.2 365.4C1113.9 366.8 1114.6 367.7 1115.3 368.5C1116.0 369.3 1116.6 370.6 1117.3 370.6C1118.0 370.6 1118.7 368.3 1119.4 366.8C1120.0 365.3 1120.7 363.1 1121.4 361.4C1122.1 359.8 1122.8 357.4 1123.4 357.0C1124.1 356.6 1124.8 356.3 1125.5 356.2C1126.2 356.2 1126.8 356.1 1127.5 356.1C1128.2 356.1 1128.9 361.1 1129.6 362.6C1130.2 364.1 1130.9 366.0 1131.6 366.0C1132.3 366.0 1133.0 366.0 1133.6 366.0C1134.3 365.9 1135.0 363.1 1135.7 363.1C1136.4 363.1 1137.0 364.4 1137.7 365.1C1138.4 365.9 1139.1 367.7 1139.8 367.7C1140.4 367.7 1141.1 365.3 1141.8 363.8C1142.5 362.3 1143.2 358.4 1143.8 358.3C1144.5 358.3 1145.2 358.3 1145.9 358.3C1146.6 358.2 1147.2 357.9 1147.9 357.4C1148.6 356.9 1149.3 352.1 1150.0 352.1C1150.6 352.1 1151.3 354.5 1152.0 355.7C1152.7 357.0 1153.4 359.4 1154.0 359.5C1154.7 359.6 1155.4 359.6 1156.1 359.7C1156.8 359.8 1157.4 360.9 1158.1 362.1C1158.8 363.3 1159.5 369.2 1160.2 369.2C1160.8 369.2 1161.5 368.1 1162.2 367.1C1162.9 366.1 1163.6 362.6 1164.2 361.1C1164.9 359.6 1165.6 358.4 1166.3 357.4C1167.0 356.5 1167.6 355.2 1168.3 355.2C1169.0 355.2 1169.7 356.2 1170.4 357.4C1171.0 358.6 1171.7 364.9 1172.4 366.6C1173.1 368.4 1173.8 370.3 1174.4 370.3C1175.1 370.3 1175.8 367.6 1176.5 366.7C1177.2 365.9 1177.8 364.7 1178.5 364.7C1179.2 364.7 1179.9 364.9 1180.6 364.9C1181.2 364.9 1181.9 363.1 1182.6 363.1C1183.3 363.1 1184.0 364.3 1184.6 365.3C1185.3 366.4 1186.0 369.2 1186.7 370.5C1187.4 371.9 1188.0 374.0 1188.7 374.0C1189.4 374.0 1190.1 373.9 1190.8 373.7C1191.4 373.5 1192.1 372.2 1192.8 370.8C1193.5 369.3 1194.2 365.3 1194.8 362.6C1195.5 359.8 1196.2 355.8 1196.9 354.4C1197.6 353.0 1198.2 351.6 1198.9 351.6C1199.6 351.6 1200.3 353.4 1201.0 354.9C1201.6 356.4 1202.3 361.2 1203.0 362.1C1203.7 363.0 1204.4 363.8 1205.0 363.8C1205.7 363.8 1206.4 359.2 1207.1 358.0C1207.8 356.9 1208.4 355.6 1209.1 355.6C1209.8 355.6 1210.5 359.6 1211.2 361.0C1211.8 362.5 1212.5 363.9 1213.2 364.6C1213.9 365.3 1214.6 366.1 1215.2 366.1C1215.9 366.1 1216.6 362.6 1217.3 362.6C1218.0 362.6 1218.6 363.4 1219.3 363.8C1220.0 364.2 1220.7 365.0 1221.4 365.0C1222.0 365.0 1222.7 364.7 1223.4 364.3C1224.1 363.9 1224.8 360.8 1225.4 360.8C1226.1 360.8 1226.8 361.8 1227.5 362.1C1228.2 362.5 1228.8 363.0 1229.5 363.0C1230.2 363.0 1230.9 361.9 1231.6 361.6C1232.2 361.2 1232.9 360.7 1233.6 360.7C1234.3 360.7 1235.0 364.7 1235.6 365.4C1236.3 366.1 1237.0 366.6 1237.7 366.6C1238.4 366.6 1239.0 366.4 1239.7 366.0C1240.4 365.7 1241.1 365.0 1241.8 364.1C1242.4 363.1 1243.1 360.1 1243.8 358.8C1244.5 357.5 1245.2 355.7 1245.8 355.7C1246.5 355.7 1247.2 359.2 1247.9 359.2C1248.6 359.2 1249.2 358.3 1249.9 358.3C1250.6 358.3 1251.3 358.4 1252.0 358.5C1252.6 358.7 1253.3 361.3 1254.0 361.9C1254.7 362.6 1255.4 363.2 1256.0 363.2C1256.7 363.2 1257.4 360.8 1258.1 360.8C1258.8 360.8 1259.4 362.6 1260.1 362.6C1260.8 362.6 1261.5 362.4 1262.2 362.4C1262.8 362.4 1263.5 363.2 1264.2 363.7C1264.9 364.2 1265.6 364.9 1266.2 365.7C1266.9 366.4 1267.6 368.2 1268.3 368.2C1269.0 368.2 1269.6 366.6 1270.3 366.6C1271.0 366.6 1271.7 368.3 1272.4 369.0C1273.0 369.8 1273.7 371.1 1274.4 371.1C1275.1 371.1 1275.8 368.8 1276.4 367.9C1277.1 367.0 1277.8 365.6 1278.5 365.6C1279.2 365.6 1279.8 369.6 1280.5 370.7C1281.2 371.8 1281.9 373.2 1282.6 373.2C1283.2 373.2 1283.9 367.3 1284.6 366.4C1285.3 365.6 1286.0 365.0 1286.6 365.0C1287.3 364.9 1288.0 364.9 1288.7 364.9C1289.4 364.8 1290.0 362.2 1290.7 361.0C1291.4 359.7 1292.1 357.6 1292.8 357.6C1293.4 357.6 1294.1 357.6 1294.8 357.6C1295.5 357.6 1296.2 355.4 1296.8 354.8C1297.5 354.2 1298.2 353.6 1298.9 353.6C1299.6 353.6 1300.2 357.0 1300.9 359.2C1301.6 361.4 1302.3 367.6 1303.0 367.6C1303.6 367.6 1304.3 367.4 1305.0 367.2C1305.7 367.0 1306.4 360.3 1307.0 359.1C1307.7 357.9 1308.4 356.8 1309.1 356.8C1309.8 356.8 1310.4 361.9 1311.1 364.8C1311.8 367.6 1312.5 374.2 1313.2 374.2C1313.8 374.2 1314.5 374.0 1315.2 373.7C1315.9 373.4 1316.6 370.1 1317.2 370.1C1317.9 370.1 1318.6 372.5 1319.3 372.5C1320.0 372.5 1320.6 372.4 1321.3 372.2C1322.0 372.0 1322.7 366.6 1323.4 366.6C1324.0 366.6 1324.7 367.0 1325.4 367.0C1326.1 367.0 1326.8 366.2 1327.4 365.3C1328.1 364.4 1328.8 358.3 1329.5 358.3C1330.2 358.3 1330.8 359.7 1331.5 360.7C1332.2 361.7 1332.9 364.8 1333.6 364.8C1334.2 364.8 1334.9 361.0 1335.6 358.9C1336.3 356.8 1337.0 352.3 1337.6 352.3C1338.3 352.3 1339.0 354.8 1339.7 355.7C1340.4 356.6 1341.0 358.1 1341.7 358.1C1342.4 358.1 1343.1 357.8 1343.8 357.8C1344.4 357.8 1345.1 358.3 1345.8 358.7C1346.5 359.1 1347.2 360.4 1347.8 360.4C1348.5 360.4 1349.2 358.6 1349.9 358.6C1350.6 358.6 1351.2 359.8 1351.9 361.1C1352.6 362.4 1353.3 367.6 1354.0 369.6C1354.6 371.6 1355.3 374.2 1356.0 374.2C1356.7 374.2 1357.4 373.4 1358.0 372.5C1358.7 371.6 1359.4 369.0 1360.1 366.9C1360.8 364.7 1361.4 360.5 1362.1 359.2C1362.8 357.9 1363.5 356.5 1364.2 356.5C1364.8 356.5 1365.5 356.8 1366.2 356.8C1366.9 356.8 1367.6 356.7 1368.2 356.7C1368.9 356.7 1369.6 358.9 1370.3 360.1C1371.0 361.2 1371.6 363.6 1372.3 363.7C1373.0 363.7 1373.7 363.7 1374.4 363.8C1375.0 363.8 1375.7 366.2 1376.4 367.0C1377.1 367.8 1377.8 369.1 1378.4 369.1C1379.1 369.1 1379.8 364.3 1380.5 363.6C1381.2 362.9 1381.8 362.2 1382.5 362.2C1383.2 362.2 1383.9 365.4 1384.6 365.7C1385.2 366.0 1385.9 366.3 1386.6 366.3C1387.3 366.3 1388.0 364.8 1388.6 364.8C1389.3 364.8 1390.0 366.1 1390.7 366.1C1391.4 366.1 1392.0 365.2 1392.7 364.4C1393.4 363.7 1394.1 361.2 1394.8 361.0C1395.4 360.8 1396.1 360.7 1396.8 360.7C1397.5 360.7 1398.2 363.5 1398.8 364.9C1399.5 366.3 1400.2 369.1 1400.9 369.1C1401.6 369.1 1402.2 368.8 1402.9 368.8C1403.9 368.8 1405.0 383.1 1406.0 383.1C1407.0 383.1 1408.0 362.6 1409.0 362.6C1409.7 362.6 1410.4 362.8 1411.1 363.2C1411.8 363.6 1412.4 370.0 1413.1 370.0C1413.8 370.0 1414.5 369.8 1415.2 369.7" stroke="#007d7d"/>
<path d="M38.4 363.4C39.2 363.9 40.0 364.7 40.8 364.7C41.6 364.7 42.4 363.4 43.2 363.4C44.0 363.4 44.8 364.7 45.6 364.7C46.4 364.7 47.2 363.4 48.0 363.4C48.8 363.4 49.6 364.7 50.4 364.7C51.2 364.7 52.0 363.4 52.8 363.4C53.6 363.4 54.4 364.7 55.2 364.7C56.0 364.7 56.8 363.4 57.6 363.4C58.4 363.4 59.2 364.7 60.0 364.7C60.8 364.7 61.6 363.4 62.4 363.4C63.2 363.4 64.0 364.8 64.8 364.8C65.6 364.8 66.4 363.4 67.2 363.4C68.0 363.4 68.8 364.8 69.6 364.8C70.4 364.8 71.2 363.4 72.0 363.4C72.8 363.4 73.6 364.8 74.4 364.8C75.2 364.8 76.0 363.4 76.8 363.4C77.6 363.4 78.4 364.8 79.2 364.8C80.0 364.8 80.8 363.4 81.6 363.4C82.4 363.4 83.2 364.8 84.0 364.8C84.8 364.8 85.6 363.4 86.4 363.4C87.2 363.4 88.0 364.8 88.8 364.8C89.6 364.8 90.4 363.4 91.2 363.4C92.0 363.4 92.8 364.8 93.6 364.8C94.4 364.8 95.2 363.4 96.0 363.4C96.8 363.4 97.6 364.8 98.4 364.8C99.2 364.8 100.0 363.4 100.8 363.4C101.6 363.4 102.4 364.8 103.2 364.8C104.0 364.8 104.8 363.3 105.6 363.3C106.4 363.3 107.2 364.8 108.0 364.8C108.8 364.8 109.6 363.3 110.4 363.3C111.2 363.3 112.0 364.8 112.8 364.8C113.6 364.8 114.4 363.3 115.2 363.3C116.0 363.3 116.8 364.8 117.6 364.8C118.4 364.8 119.2 363.3 120.0 363.3C120.8 363.3 121.6 364.8 122.4 364.8C123.2 364.8 124.0 363.3 124.8 363.3C125.6 363.3 126.4 364.9 127.2 364.9C128.0 364.9 128.8 363.3 129.6 363.3C130.4 363.3 131.2 364.9 132.0 364.9C132.8 364.9 133.6 363.3 134.4 363.3C135.2 363.3 136.0 364.9 136.8 364.9C137.6 364.9 138.4 363.3 139.2 363.3C140.0 363.3 140.8 364.9 141.6 364.9C142.4 364.9 143.2 363.2 144.0 363.2C144.8 363.2 145.6 364.9 146.4 364.9C147.2 364.9 148.0 363.2 148.8 363.2C149.6 363.2 150.4 364.9 151.2 364.9C152.0 364.9 152.8 363.2 153.6 363.2C154.4 363.2 155.2 365.0 156.0 365.0C156.8 365.0 157.6 363.2 158.4 363.2C159.2 363.2 160.0 365.0 160.8 365.0C161.6 365.0 162.4 363.1 163.2 363.1C164.0 363.1 164.8 365.0 165.6 365.0C166.4 365.0 167.2 363.1 168.0 363.1C168.8 363.1 169.6 365.0 170.4 365.0C171.2 365.0 172.0 363.1 172.8 363.1C173.6 363.1 174.4 365.1 175.2 365.1C176.0 365.1 176.8 363.1 177.6 363.1C178.4 363.1 179.2 365.1 180.0 365.1C180.8 365.1 181.6 363.0 182.4 363.0C183.2 363.0 184.0 365.1 184.8 365.1C185.6 365.1 186.4 363.0 187.2 363.0C188.0 363.0 188.8 365.2 189.6 365.2C190.4 365.2 191.2 362.9 192.0 362.9C192.8 362.9 193.6 365.2 194.4 365.2C195.2 365.2 196.0 362.9 196.8 362.9C197.6 362.9 198.4 365.3 199.2 365.3C200.0 365.3 200.8 362.8 201.6 362.8C202.4 362.8 203.2 365.3 204.0 365.3C204.8 365.3 205.6 362.8 206.4 362.8C207.2 362.8 208.0 365.4 208.8 365.4C209.6 365.4 210.4 362.7 211.2 362.7C212.0 362.7 212.8 365.5 213.6 365.5C214.4 365.5 215.2 362.7 216.0 362.7C216.8 362.7 217.6 365.5 218.4 365.5C219.2 365.5 220.0 362.6 220.8 362.6C221.6 362.6 222.4 365.6 223.2 365.6C224.0 365.6 224.8 362.5 225.6 362.5C226.4 362.5 227.2 365.7 228.0 365.7C228.8 365.7 229.6 362.4 230.4 362.4C231.2 362.4 232.0 365.8 232.8 365.8C233.6 365.8 234.4 362.3 235.2 362.3C236.0 362.3 236.8 365.9 237.6 365.9C238.4 365.9 239.2 362.2 240.0 362.2C240.8 362.2 241.6 366.0 242.4 366.0C243.2 366.0 244.0 362.1 244.8 362.1C245.6 362.1 246.4 366.1 247.2 366.1C248.0 366.1 248.8 362.0 249.6 362.0C250.4 362.0 251.2 366.2 252.0 366.2C252.8 366.2 253.6 361.9 254.4 361.9C255.2 361.9 256.0 366.4 256.8 366.4C257.6 366.4 258.4 361.7 259.2 361.7C260.0 361.7 260.8 366.5 261.6 366.5C262.4 366.5 263.2 361.6 264.0 361.6C264.8 361.6 265.6 366.7 266.4 366.7C267.2 366.7 268.0 361.4 268.8 361.4C269.6 361.4 270.4 366.9 271.2 366.9C272.0 366.9 272.8 361.2 273.6 361.2C274.4 361.2 275.2 367.1 276.0 367.1C276.8 367.1 277.6 361.0 278.4 361.0C279.2 361.0 280.0 367.3 280.8 367.3C281.6 367.3 282.4 360.8 283.2 360.8C284.0 360.8 284.8 367.5 285.6 367.5C286.4 367.5 287.2 360.5 288.0 360.5C288.8 360.5 289.6 367.8 290.4 367.8C291.2 367.8 292.0 360.3 292.8 360.3C293.6 360.3 294.4 368.0 295.2 368.0C296.0 368.0 296.8 360.0 297.6 360.0C298.4 360.0 299.2 368.3 300.0 368.3C300.8 368.3 301.6 359.6 302.4 359.6C303.2 359.6 304.0 368.7 304.8 368.7C305.6 368.7 306.4 359.3 307.2 359.3C308.0 359.3 308.8 369.0 309.6 369.0C310.4 369.0 311.2 358.9 312.0 358.9C312.8 358.9 313.6 369.4 314.4 369.4C315.2 369.4 316.0 358.5 316.8 358.5C317.6 358.5 318.4 369.9 319.2 369.9C320.0 369.9 320.8 358.0 321.6 358.0C322.4 358.0 323.2 370.3 324.0 370.3C324.8 370.3 325.6 357.6 326.4 357.6C327.2 357.6 328.0 370.9 328.8 370.9C329.6 370.9 330.4 357.0 331.2 357.0C332.0 357.0 332.8 371.4 333.6 371.4C334.4 371.4 335.2 356.4 336.0 356.4C336.8 356.4 337.6 372.0 338.4 372.0C338.9 372.0 339.5 361.0 340.0 361.0C340.8 361.0 341.7 370.0 342.5 374.8C343.3 379.2 344.0 388.6 344.8 388.6C345.6 388.6 346.5 306.0 347.3 306.0C348.8 306.0 350.4 515.3 351.9 515.3C353.1 515.3 354.4 87.8 355.6 87.8C356.9 87.8 358.3 484.2 359.6 484.2C360.4 484.2 361.2 314.2 362.0 314.2C362.8 314.2 363.7 402.4 364.5 402.4C365.3 402.4 366.2 339.0 367.0 339.0C367.8 339.0 368.7 385.8 369.5 385.8C370.3 385.8 371.2 347.3 372.0 347.3C373.0 347.3 374.0 377.6 375.0 377.6C376.0 377.6 377.0 352.8 378.0 352.8C378.7 352.8 379.4 352.9 380.0 353.0C380.7 353.0 381.4 353.1 382.1 353.4C382.8 353.7 383.4 360.9 384.1 361.0C384.8 361.1 385.5 361.2 386.2 361.2C386.8 361.2 387.5 358.6 388.2 358.6C388.9 358.6 389.6 363.2 390.2 364.7C390.9 366.3 391.6 368.6 392.3 368.6C393.0 368.6 393.6 367.3 394.3 366.3C395.0 365.4 395.7 362.7 396.4 362.7C397.0 362.7 397.7 363.8 398.4 364.6C399.1 365.3 399.8 366.5 400.4 367.4C401.1 368.4 401.8 369.5 402.5 370.4C403.2 371.3 403.8 372.9 404.5 372.9C405.2 372.9 405.9 368.9 406.6 365.8C407.2 362.7 407.9 353.5 408.6 352.3C409.3 351.1 410.0 350.2 410.6 350.2C411.3 350.2 412.0 359.5 412.7 363.4C413.4 367.3 414.0 373.9 414.7 373.9C415.4 373.9 416.1 371.0 416.8 368.4C417.4 365.7 418.1 354.2 418.8 354.0C419.5 353.7 420.2 353.6 420.8 353.6C421.5 353.6 422.2 361.3 422.9 364.3C423.6 367.3 424.2 371.7 424.9 372.3C425.6 372.9 426.3 373.4 427.0 373.4C427.6 373.4 428.3 370.2 429.0 367.6C429.7 365.0 430.4 356.8 431.0 355.2C431.7 353.6 432.4 352.3 433.1 352.3C433.8 352.3 434.4 363.0 435.1 364.4C435.8 365.7 436.5 366.8 437.2 366.8C437.8 366.8 438.5 348.4 439.2 340.7C439.7 335.4 440.1 326.3 440.6 326.3C441.5 326.3 442.4 346.5 443.3 351.7C444.0 355.6 444.6 357.1 445.3 360.3C446.0 363.6 446.7 368.3 447.4 371.5C448.0 374.8 448.7 380.1 449.4 380.1C450.1 380.1 450.8 379.9 451.4 379.6C452.1 379.3 452.8 376.2 453.5 376.2C454.2 376.2 454.8 376.2 455.5 376.1C456.2 376.1 456.9 373.2 457.6 370.7C458.2 368.1 458.9 361.0 459.6 358.1C460.3 355.1 461.0 351.4 461.6 351.4C462.3 351.4 463.0 357.4 463.7 357.4C464.4 357.4 465.0 357.4 465.7 357.4C466.4 357.4 467.1 351.7 467.8 351.7C468.4 351.7 469.1 353.2 469.8 355.0C470.5 356.7 471.2 365.8 471.8 368.1C472.5 370.4 473.2 372.7 473.9 372.7C474.6 372.7 475.2 365.0 475.9 363.0C476.6 361.0 477.3 358.6 478.0 358.6C478.6 358.6 479.3 366.2 480.0 368.7C480.7 371.1 481.4 374.4 482.0 374.4C482.7 374.4 483.4 373.3 484.1 373.3C484.8 373.3 485.4 375.7 486.1 376.2C486.8 376.7 487.5 377.2 488.2 377.2C488.8 377.2 489.5 372.5 490.2 372.5C491.1 372.5 492.1 391.3 493.0 391.3C493.4 391.3 493.9 370.5 494.3 360.8C494.9 347.8 495.4 323.9 496.0 323.9C496.8 323.9 497.6 348.1 498.4 353.9C499.0 358.9 499.7 363.6 500.4 364.7C501.1 365.8 501.8 366.7 502.4 366.7C503.1 366.7 503.8 365.3 504.5 364.5C505.2 363.8 505.8 362.5 506.5 362.5C507.2 362.5 507.9 368.2 508.6 369.9C509.2 371.6 509.9 373.9 510.6 373.9C511.3 373.9 512.0 371.8 512.6 371.6C513.3 371.5 514.0 371.5 514.7 371.4C515.4 371.2 516.0 368.0 516.7 366.4C517.4 364.8 518.1 362.1 518.8 362.0C519.4 361.8 520.1 361.9 520.8 361.7C521.5 361.6 522.2 357.9 522.8 355.6C523.5 353.4 524.2 347.8 524.9 347.8C525.6 347.8 526.2 349.3 526.9 350.9C527.6 352.4 528.3 358.2 529.0 359.9C529.6 361.6 530.3 363.5 531.0 363.5C531.7 363.5 532.4 363.1 533.0 363.0C533.7 362.8 534.4 362.6 535.1 362.6C535.8 362.6 536.4 363.0 537.1 363.5C537.8 364.0 538.5 365.3 539.2 366.2C539.8 367.1 540.5 369.0 541.2 369.0C541.9 369.0 542.6 363.3 543.2 362.3C543.9 361.4 544.6 360.5 545.3 360.5C546.0 360.5 546.6 366.7 547.3 369.1C548.0 371.6 548.7 375.7 549.4 375.7C550.0 375.7 550.7 374.3 551.4 373.3C552.1 372.4 552.8 371.4 553.4 369.8C554.1 368.2 554.8 365.1 555.5 362.5C556.2 359.8 556.8 356.3 557.5 353.9C558.2 351.6 558.9 347.9 559.6 347.9C560.2 347.9 560.9 354.3 561.6 356.6C562.3 359.0 563.0 361.4 563.6 362.5C564.3 363.6 565.0 364.1 565.7 364.8C566.4 365.5 567.0 366.6 567.7 366.6C568.4 366.6 569.1 365.6 569.8 364.5C570.4 363.5 571.1 358.2 571.8 358.2C572.5 358.2 573.2 360.3 573.8 360.3C574.5 360.3 575.2 359.8 575.9 359.2C576.6 358.6 577.2 351.5 577.9 351.5C578.6 351.5 579.3 353.9 580.0 355.5C580.6 357.0 581.3 361.4 582.0 361.4C582.7 361.4 583.4 358.6 584.0 356.6C584.7 354.5 585.4 347.7 586.1 347.7C586.8 347.7 587.4 349.1 588.1 349.9C588.8 350.7 589.5 351.3 590.2 352.6C590.8 353.8 591.5 358.7 592.2 358.7C593.1 358.7 594.1 344.5 595.0 344.5C595.4 344.5 595.9 350.1 596.3 352.0C597.0 355.0 597.6 359.2 598.3 359.2C599.0 359.2 599.7 355.8 600.4 355.8C601.0 355.8 601.7 359.3 602.4 361.0C603.1 362.6 603.8 365.8 604.4 365.8C605.1 365.8 605.8 364.8 606.5 364.1C607.2 363.3 607.8 360.7 608.5 360.7C609.2 360.7 609.9 367.9 610.6 367.9C611.2 367.9 611.9 366.7 612.6 365.3C613.3 363.8 614.0 354.4 614.6 352.6C615.3 350.7 616.0 349.0 616.7 349.0C617.4 349.0 618.0 355.4 618.7 358.8C619.4 362.1 620.1 366.7 620.8 369.0C621.4 371.3 622.1 374.4 622.8 374.4C623.5 374.4 624.2 373.8 624.8 373.4C625.5 373.1 626.2 372.7 626.9 372.4C627.6 372.0 628.2 371.8 628.9 371.5C629.6 371.2 630.3 371.1 631.0 370.5C631.6 370.0 632.3 363.9 633.0 362.9C633.7 362.0 634.4 361.1 635.0 361.1C635.7 361.1 636.4 366.8 637.1 367.9C637.8 369.0 638.4 370.0 639.1 370.0C639.8 370.0 640.5 359.8 641.2 358.0C641.8 356.3 642.5 354.7 643.2 354.7C643.9 354.7 644.6 360.1 645.2 361.7C645.9 363.3 646.6 365.3 647.3 365.3C648.0 365.3 648.6 363.9 649.3 363.9C650.0 363.9 650.7 364.7 651.4 365.5C652.0 366.3 652.7 370.0 653.4 370.0C654.1 370.0 654.8 368.1 655.4 366.0C656.1 364.0 656.8 357.0 657.5 354.0C658.2 351.0 658.8 346.8 659.5 346.8C660.2 346.8 660.9 352.3 661.6 352.3C662.2 352.3 662.9 349.2 663.6 347.2C664.0 346.2 664.3 343.4 664.7 343.4C665.7 343.4 666.7 358.5 667.7 358.5C668.4 358.5 669.0 356.8 669.7 356.8C670.4 356.8 671.1 356.8 671.8 356.9C672.4 356.9 673.1 363.6 673.8 363.6C674.5 363.7 675.2 363.7 675.8 363.7C676.5 363.7 677.2 360.3 677.9 360.3C678.6 360.3 679.2 362.3 679.9 363.1C680.6 363.9 681.3 365.1 682.0 365.1C682.6 365.1 683.3 359.9 684.0 358.9C684.7 357.9 685.4 357.4 686.0 356.9C686.7 356.4 687.4 356.3 688.1 355.7C688.8 355.2 689.4 352.8 690.1 352.8C690.8 352.8 691.5 352.8 692.2 352.8C692.8 352.8 693.5 358.5 694.2 360.6C694.9 362.7 695.6 365.7 696.2 365.7C696.9 365.8 697.6 365.8 698.3 365.8C699.0 365.8 699.6 363.2 700.3 361.5C701.0 359.8 701.7 357.6 702.4 355.3C703.0 353.1 703.7 347.9 704.4 347.9C705.1 347.9 705.8 351.5 706.4 353.5C707.1 355.5 707.8 358.4 708.5 360.0C709.2 361.6 709.8 363.8 710.5 363.8C711.2 363.8 711.9 362.0 712.6 362.0C713.2 362.0 713.9 364.2 714.6 365.0C715.3 365.8 716.0 367.0 716.6 367.0C717.3 367.0 718.0 365.4 718.7 364.1C719.4 362.8 720.0 358.1 720.7 358.1C721.4 358.1 722.1 363.6 722.8 363.6C723.4 363.6 724.1 363.6 724.8 363.6C725.5 363.6 726.2 357.6 726.8 357.6C727.5 357.6 728.2 358.7 728.9 359.6C729.6 360.5 730.2 363.7 730.9 363.7C731.6 363.7 732.3 358.9 733.0 356.1C733.6 353.3 734.3 347.0 735.0 347.0C735.7 347.0 736.4 347.2 737.0 347.4C737.7 347.6 738.4 350.4 739.1 352.5C739.8 354.6 740.4 359.4 741.1 360.4C741.8 361.5 742.5 362.5 743.2 362.5C743.8 362.5 744.5 360.5 745.2 360.5C745.9 360.5 746.6 361.1 747.2 361.6C747.9 362.1 748.6 363.8 749.3 363.8C750.0 363.8 750.6 362.8 751.3 362.8C752.0 362.8 752.7 363.3 753.4 363.8C754.0 364.4 754.7 369.0 755.4 369.0C756.1 369.0 756.8 366.9 757.4 366.3C758.1 365.7 758.8 365.0 759.5 365.0C760.2 365.0 760.8 365.1 761.5 365.1C762.2 365.1 762.9 367.4 763.6 368.3C764.2 369.2 764.9 369.7 765.6 370.7C766.3 371.7 767.0 374.9 767.6 374.9C768.3 374.9 769.0 368.9 769.7 366.1C770.4 363.3 771.0 358.1 771.7 358.1C772.4 358.1 773.1 360.4 773.8 361.0C774.4 361.6 775.1 362.3 775.8 362.3C776.5 362.3 777.2 361.3 777.8 361.3C778.5 361.3 779.2 368.0 779.9 368.0C780.6 368.0 781.2 367.4 781.9 366.5C782.6 365.7 783.3 357.6 784.0 355.8C784.6 353.9 785.3 352.0 786.0 352.0C786.7 352.0 787.4 355.8 788.0 358.1C788.7 360.4 789.4 365.5 790.1 366.0C790.8 366.4 791.4 366.8 792.1 366.8C792.8 366.8 793.5 361.1 794.2 359.0C794.8 356.8 795.5 353.4 796.2 353.4C796.9 353.4 797.6 356.4 798.2 357.5C798.9 358.6 799.6 360.3 800.3 360.3C801.0 360.3 801.6 358.9 802.3 358.0C803.0 357.1 803.7 354.2 804.4 354.2C805.0 354.2 805.7 357.1 806.4 359.2C807.1 361.3 807.8 367.5 808.4 368.1C809.1 368.7 809.8 369.2 810.5 369.2C811.2 369.2 811.8 364.2 812.5 364.2C813.2 364.2 813.9 366.3 814.6 366.3C815.2 366.4 815.9 366.4 816.6 366.4C817.3 366.4 818.0 360.2 818.6 358.9C819.3 357.6 820.0 356.3 820.7 356.3C821.4 356.3 822.0 361.7 822.7 364.0C823.4 366.4 824.1 370.5 824.8 370.5C825.4 370.5 826.1 369.4 826.8 368.1C827.5 366.8 828.2 360.7 828.8 357.5C829.5 354.3 830.2 348.9 830.9 348.9C831.6 348.9 832.2 352.1 832.9 353.8C833.6 355.4 834.3 357.8 835.0 358.8C835.6 359.7 836.3 360.0 837.0 360.9C837.7 361.7 838.4 363.9 839.0 364.4C839.7 364.9 840.4 365.4 841.1 365.4C841.8 365.4 842.4 356.6 843.1 356.4C843.8 356.3 844.5 356.2 845.2 356.2C845.8 356.2 846.5 363.0 847.2 363.9C847.9 364.7 848.6 364.9 849.2 365.4C849.9 365.8 850.6 366.5 851.3 366.5C852.0 366.5 852.6 366.2 853.3 365.8C854.0 365.5 854.7 363.1 855.4 361.4C856.0 359.6 856.7 354.9 857.4 354.9C858.1 354.9 858.8 356.1 859.4 357.2C860.1 358.4 860.8 360.7 861.5 362.6C862.2 364.6 862.8 369.2 863.5 369.2C864.2 369.2 864.9 366.3 865.6 365.1C866.2 363.9 866.9 362.9 867.6 361.9C868.3 360.8 869.0 358.7 869.6 358.7C870.3 358.7 871.0 360.2 871.7 360.4C872.4 360.6 873.0 360.6 873.7 360.8C874.4 360.9 875.1 361.9 875.8 361.9C876.4 361.9 877.1 356.4 877.8 356.4C878.5 356.4 879.2 357.1 879.8 357.5C880.5 358.0 881.2 359.1 881.9 359.1C882.6 359.1 883.2 358.5 883.9 357.9C884.6 357.3 885.3 355.2 886.0 355.2C886.6 355.2 887.3 357.3 888.0 358.9C888.7 360.4 889.4 363.9 890.0 365.9C890.7 368.0 891.4 371.3 892.1 371.3C892.8 371.3 893.4 371.0 894.1 370.6C894.8 370.2 895.5 367.7 896.2 366.8C896.8 366.0 897.5 364.9 898.2 364.9C898.9 364.9 899.6 365.4 900.2 365.4C900.9 365.4 901.6 363.7 902.3 362.4C903.0 361.1 903.6 357.1 904.3 357.1C905.0 357.1 905.7 358.6 906.4 360.2C907.0 361.8 907.7 367.7 908.4 370.1C909.1 372.6 909.8 375.9 910.4 375.9C911.1 375.9 911.8 375.3 912.5 374.7C913.2 374.0 913.8 370.9 914.5 369.8C915.2 368.7 915.9 367.2 916.6 367.2C917.2 367.2 917.9 367.4 918.6 367.6C919.3 367.7 920.0 367.9 920.6 368.3C921.3 368.6 922.0 370.2 922.7 370.2C923.4 370.2 924.0 369.1 924.7 368.5C925.4 367.9 926.1 366.6 926.8 366.6C927.4 366.6 928.1 369.2 928.8 370.0C929.5 370.8 930.2 371.9 930.8 371.9C931.5 371.9 932.2 368.0 932.9 366.1C933.6 364.2 934.2 360.5 934.9 360.5C935.6 360.5 936.3 360.9 937.0 361.5C937.6 362.0 938.3 365.5 939.0 365.5C939.7 365.5 940.4 365.5 941.0 365.4C941.7 365.4 942.4 363.9 943.1 363.1C943.8 362.2 944.4 361.2 945.1 360.5C945.8 359.7 946.5 358.4 947.2 358.4C947.8 358.4 948.5 361.4 949.2 363.5C949.9 365.5 950.6 371.7 951.2 371.7C951.9 371.7 952.6 370.9 953.3 370.4C954.0 369.8 954.6 368.8 955.3 367.8C956.0 366.9 956.7 364.9 957.4 364.3C958.0 363.7 958.7 363.4 959.4 363.0C960.1 362.6 960.8 361.6 961.4 361.6C962.1 361.6 962.8 362.9 963.5 363.6C964.2 364.3 964.8 365.9 965.5 366.1C966.2 366.4 966.9 366.6 967.6 366.6C968.2 366.6 968.9 361.9 969.6 361.9C970.3 361.9 971.0 363.0 971.6 364.1C972.3 365.3 973.0 372.1 973.7 372.8C974.4 373.6 975.0 374.1 975.7 374.1C976.4 374.1 977.1 373.0 977.8 372.8C978.4 372.6 979.1 372.7 979.8 372.4C980.5 372.2 981.2 369.3 981.8 366.9C982.5 364.4 983.2 357.3 983.9 356.2C984.6 355.1 985.2 354.3 985.9 354.3C986.6 354.3 987.3 360.7 988.0 363.3C988.6 366.0 989.3 370.3 990.0 370.3C990.7 370.3 991.4 366.8 992.0 364.7C992.7 362.7 993.4 358.8 994.1 357.9C994.8 357.0 995.4 356.2 996.1 356.2C996.8 356.2 997.5 359.4 998.2 359.6C998.8 359.7 999.5 359.8 1000.2 359.8C1000.9 359.8 1001.6 358.2 1002.2 356.5C1003.1 354.3 1004.0 341.2 1004.9 341.2C1005.4 341.2 1005.8 347.7 1006.3 351.3C1007.0 356.4 1007.7 365.6 1008.4 367.8C1009.0 370.0 1009.7 371.2 1010.4 372.0C1011.1 372.7 1011.8 373.6 1012.4 373.6C1013.1 373.6 1013.8 373.5 1014.5 373.3C1015.2 373.2 1015.8 368.6 1016.5 367.2C1017.2 365.9 1017.9 365.3 1018.6 364.1C1019.2 362.9 1019.9 361.5 1020.6 359.8C1021.3 358.0 1022.0 355.1 1022.6 353.3C1023.3 351.5 1024.0 348.6 1024.7 348.6C1025.4 348.6 1026.0 349.9 1026.7 350.6C1027.4 351.3 1028.1 352.8 1028.8 352.8C1029.4 352.8 1030.1 352.5 1030.8 352.3C1031.5 352.0 1032.2 350.6 1032.8 350.6C1033.5 350.6 1034.2 351.6 1034.9 352.3C1035.6 352.9 1036.2 353.5 1036.9 354.6C1037.6 355.7 1038.3 358.5 1039.0 360.5C1039.6 362.6 1040.3 367.0 1041.0 367.0C1041.7 367.0 1042.4 366.5 1043.0 365.8C1043.7 365.2 1044.4 360.1 1045.1 357.9C1045.8 355.8 1046.4 352.6 1047.1 352.6C1047.8 352.6 1048.5 356.6 1049.2 358.9C1049.8 361.2 1050.5 366.3 1051.2 366.6C1051.9 367.0 1052.6 367.3 1053.2 367.3C1053.9 367.3 1054.6 364.2 1055.3 364.2C1056.0 364.2 1056.6 367.1 1057.3 367.7C1058.0 368.2 1058.7 368.7 1059.4 368.8C1060.0 368.9 1060.7 368.9 1061.4 368.9C1062.1 368.9 1062.8 367.2 1063.4 367.2C1064.1 367.2 1064.8 368.7 1065.5 369.2C1066.2 369.6 1066.8 370.2 1067.5 370.2C1068.2 370.2 1068.9 367.2 1069.6 365.5C1070.2 363.8 1070.9 360.3 1071.6 359.8C1072.3 359.3 1073.0 358.9 1073.6 358.9C1074.3 358.9 1075.0 359.3 1075.7 359.7C1076.4 360.1 1077.0 362.4 1077.7 364.3C1078.4 366.3 1079.1 372.1 1079.8 372.1C1080.4 372.1 1081.1 372.0 1081.8 371.8C1082.5 371.6 1083.2 366.9 1083.8 364.8C1084.5 362.8 1085.2 359.2 1085.9 359.2C1086.6 359.2 1087.2 360.8 1087.9 360.8C1088.6 360.8 1089.3 360.7 1090.0 360.7C1090.6 360.6 1091.3 358.7 1092.0 358.7C1092.7 358.7 1093.4 359.8 1094.0 360.9C1094.7 362.1 1095.4 368.2 1096.1 368.7C1096.8 369.2 1097.4 369.4 1098.1 369.6C1098.8 369.8 1099.5 370.1 1100.2 370.1C1100.8 370.1 1101.5 369.2 1102.2 368.5C1102.9 367.8 1103.6 367.0 1104.2 365.9C1104.9 364.9 1105.6 361.5 1106.3 361.5C1107.0 361.5 1107.6 361.9 1108.3 362.2C1109.0 362.6 1109.7 364.1 1110.4 364.1C1111.0 364.1 1111.7 362.9 1112.4 361.6C1113.1 360.3 1113.8 353.6 1114.4 353.1C1115.1 352.7 1115.8 352.4 1116.5 352.4C1117.2 352.4 1117.8 357.4 1118.5 358.8C1119.2 360.1 1119.9 361.7 1120.6 361.7C1121.2 361.7 1121.9 358.6 1122.6 357.5C1123.3 356.5 1124.0 355.1 1124.6 355.1C1125.3 355.1 1126.0 355.9 1126.7 356.7C1127.4 357.5 1128.0 360.6 1128.7 360.6C1129.4 360.6 1130.1 360.2 1130.8 359.7C1131.4 359.2 1132.1 356.3 1132.8 355.1C1133.5 354.0 1134.2 352.4 1134.8 352.4C1135.5 352.4 1136.2 353.3 1136.9 354.2C1137.6 355.2 1138.2 359.3 1138.9 360.8C1139.6 362.3 1140.3 364.3 1141.0 364.3C1141.6 364.3 1142.3 361.1 1143.0 360.0C1143.7 358.9 1144.4 357.4 1145.0 357.4C1145.7 357.4 1146.4 363.8 1147.1 367.0C1147.8 370.1 1148.4 376.3 1149.1 376.3C1149.8 376.3 1150.5 374.5 1151.2 372.8C1151.8 371.0 1152.5 363.3 1153.2 363.3C1153.9 363.3 1154.6 363.6 1155.2 364.1C1155.9 364.5 1156.6 368.2 1157.3 368.2C1158.0 368.2 1158.6 367.2 1159.3 366.5C1160.0 365.7 1160.7 364.2 1161.4 363.1C1162.0 362.0 1162.7 361.3 1163.4 359.9C1164.1 358.6 1164.8 354.7 1165.4 354.0C1166.1 353.3 1166.8 352.7 1167.5 352.7C1168.2 352.7 1168.8 356.6 1169.5 357.5C1170.2 358.4 1170.9 359.5 1171.6 359.5C1172.2 359.5 1172.9 356.6 1173.6 356.6C1174.3 356.6 1175.0 358.8 1175.6 360.5C1176.3 362.3 1177.0 368.2 1177.7 368.7C1178.4 369.2 1179.0 369.5 1179.7 369.5C1180.4 369.5 1181.1 364.0 1181.8 363.3C1182.4 362.6 1183.1 362.0 1183.8 362.0C1184.5 362.0 1185.2 362.3 1185.8 362.3C1186.5 362.3 1187.2 360.5 1187.9 359.1C1188.6 357.7 1189.2 353.3 1189.9 353.1C1190.6 352.9 1191.3 352.7 1192.0 352.7C1192.6 352.7 1193.3 353.4 1194.0 354.2C1194.7 355.0 1195.4 358.6 1196.0 360.1C1196.7 361.7 1197.4 363.5 1198.1 363.9C1198.8 364.3 1199.4 364.7 1200.1 364.7C1200.8 364.7 1201.5 360.1 1202.2 359.9C1202.8 359.8 1203.5 359.8 1204.2 359.8C1204.9 359.8 1205.6 363.4 1206.2 363.4C1206.9 363.4 1207.6 363.3 1208.3 363.3C1209.0 363.2 1209.6 361.3 1210.3 361.1C1211.0 360.9 1211.7 360.8 1212.4 360.8C1213.0 360.8 1213.7 361.3 1214.4 361.5C1215.1 361.6 1215.8 361.6 1216.4 361.7C1217.1 361.9 1217.8 364.8 1218.5 364.8C1219.2 364.8 1219.8 363.8 1220.5 363.7C1221.2 363.7 1221.9 363.7 1222.6 363.7C1223.2 363.6 1223.9 362.0 1224.6 361.1C1225.3 360.2 1226.0 358.2 1226.6 358.2C1227.3 358.2 1228.0 359.7 1228.7 361.0C1229.4 362.3 1230.0 366.3 1230.7 368.2C1231.4 370.1 1232.1 372.9 1232.8 372.9C1233.4 372.9 1234.1 372.1 1234.8 370.8C1235.5 369.5 1236.2 358.7 1236.8 353.1C1237.2 349.9 1237.6 344.0 1238.0 344.0C1239.0 344.0 1239.9 356.4 1240.9 356.4C1241.6 356.4 1242.3 352.5 1243.0 351.3C1243.6 350.1 1244.3 348.5 1245.0 348.5C1245.7 348.5 1246.4 350.1 1247.0 351.3C1247.7 352.4 1248.4 356.1 1249.1 356.1C1249.8 356.1 1250.4 355.6 1251.1 355.0C1251.8 354.3 1252.5 350.9 1253.2 350.9C1253.8 350.9 1254.5 353.2 1255.2 355.0C1255.9 356.7 1256.6 362.4 1257.2 362.4C1257.9 362.4 1258.6 362.1 1259.3 361.8C1260.0 361.5 1260.6 359.9 1261.3 359.9C1262.0 359.9 1262.7 364.4 1263.4 365.7C1264.0 366.9 1264.7 368.4 1265.4 368.4C1266.1 368.4 1266.8 364.3 1267.4 363.7C1268.1 363.0 1268.8 362.4 1269.5 362.4C1270.2 362.4 1270.8 364.4 1271.5 364.4C1272.2 364.4 1272.9 363.8 1273.6 363.8C1274.2 363.8 1274.9 366.3 1275.6 366.5C1276.3 366.7 1277.0 366.8 1277.6 366.8C1278.3 366.8 1279.0 363.9 1279.7 362.9C1280.4 361.9 1281.0 360.3 1281.7 360.3C1282.4 360.3 1283.1 361.2 1283.8 361.2C1284.4 361.2 1285.1 357.9 1285.8 357.1C1286.5 356.2 1287.2 355.3 1287.8 355.3C1288.5 355.3 1289.2 358.9 1289.9 358.9C1290.6 358.9 1291.2 358.8 1291.9 358.7C1292.6 358.6 1293.3 354.6 1294.0 354.6C1294.6 354.6 1295.3 356.8 1296.0 358.1C1296.7 359.4 1297.4 362.4 1298.0 362.4C1298.7 362.4 1299.4 359.9 1300.1 358.9C1300.8 358.0 1301.4 356.7 1302.1 356.7C1302.8 356.7 1303.5 359.8 1304.2 361.0C1304.8 362.2 1305.5 364.0 1306.2 364.0C1306.9 364.0 1307.6 362.7 1308.2 361.7C1308.9 360.7 1309.6 358.2 1310.3 357.2C1311.0 356.3 1311.6 355.0 1312.3 355.0C1313.0 355.0 1313.7 355.2 1314.4 355.3C1315.0 355.5 1315.7 358.3 1316.4 358.8C1317.1 359.4 1317.8 359.4 1318.4 359.8C1319.1 360.3 1319.8 361.2 1320.5 362.3C1321.2 363.4 1321.8 365.2 1322.5 366.8C1323.2 368.4 1323.9 372.0 1324.6 372.0C1325.2 372.0 1325.9 369.6 1326.6 369.3C1327.3 369.0 1328.0 369.1 1328.6 368.8C1329.3 368.4 1330.0 366.7 1330.7 365.7C1331.4 364.6 1332.0 362.9 1332.7 362.6C1333.4 362.4 1334.1 362.2 1334.8 362.2C1335.4 362.2 1336.1 365.2 1336.8 365.4C1337.5 365.7 1338.2 365.7 1338.8 365.8C1339.5 366.0 1340.2 366.4 1340.9 366.6C1341.6 366.8 1342.2 367.2 1342.9 367.2C1343.6 367.2 1344.3 366.5 1345.0 365.7C1345.6 365.0 1346.3 361.0 1347.0 361.0C1347.7 361.0 1348.4 361.3 1349.0 361.7C1349.7 362.2 1350.4 365.0 1351.1 366.6C1351.8 368.1 1352.4 370.5 1353.1 371.1C1353.8 371.6 1354.5 372.1 1355.2 372.1C1355.8 372.1 1356.5 372.0 1357.2 371.9C1357.9 371.7 1358.6 369.7 1359.2 368.2C1359.9 366.8 1360.6 364.9 1361.3 362.9C1362.0 360.8 1362.6 355.7 1363.3 355.7C1364.0 355.7 1364.7 357.1 1365.4 357.9C1366.0 358.8 1366.7 361.0 1367.4 361.0C1368.1 361.0 1368.8 360.8 1369.4 360.8C1370.1 360.8 1370.8 362.3 1371.5 363.8C1372.2 365.2 1372.8 371.8 1373.5 371.8C1374.2 371.8 1374.9 371.0 1375.6 370.1C1376.2 369.2 1376.9 366.1 1377.6 363.8C1378.3 361.5 1379.0 356.4 1379.6 356.4C1380.3 356.4 1381.0 357.0 1381.7 357.5C1382.4 358.1 1383.0 360.0 1383.7 361.2C1384.4 362.4 1385.1 364.8 1385.8 364.8C1386.4 364.8 1387.1 362.4 1387.8 360.8C1388.5 359.3 1389.2 355.9 1389.8 355.0C1390.5 354.1 1391.2 353.2 1391.9 353.2C1392.6 353.2 1393.2 358.8 1393.9 361.3C1394.6 363.8 1395.3 367.4 1396.0 368.1C1396.6 368.9 1397.3 369.6 1398.0 369.6C1398.7 369.6 1399.4 369.6 1400.0 369.5C1400.7 369.5 1401.4 367.5 1402.1 366.3C1402.8 365.0 1403.4 361.7 1404.1 361.7C1404.8 361.7 1405.5 363.2 1406.2 364.4C1406.8 365.7 1407.5 370.8 1408.2 370.8C1408.9 370.8 1409.6 367.0 1410.2 364.7C1410.9 362.3 1411.6 357.6 1412.3 356.5C1413.0 355.4 1413.6 355.1 1414.3 354.4" stroke="#6e0aff"/>
<path d="M38.5 363.3C39.3 363.7 40.1 364.6 40.9 364.6C41.7 364.6 42.5 363.3 43.3 363.3C44.1 363.3 44.9 364.6 45.7 364.6C46.5 364.6 47.3 363.3 48.1 363.3C48.9 363.3 49.7 364.6 50.5 364.6C51.3 364.6 52.1 363.3 52.9 363.3C53.7 363.3 54.5 364.6 55.3 364.6C56.1 364.6 56.9 363.2 57.7 363.2C58.5 363.2 59.3 364.6 60.1 364.6C60.9 364.6 61.7 363.2 62.5 363.2C63.3 363.2 64.1 364.6 64.9 364.6C65.7 364.6 66.5 363.2 67.3 363.2C68.1 363.2 68.9 364.6 69.7 364.6C70.5 364.6 71.3 363.2 72.1 363.2C72.9 363.2 73.7 364.6 74.5 364.6C75.3 364.6 76.1 363.2 76.9 363.2C77.7 363.2 78.5 364.6 79.3 364.6C80.1 364.6 80.9 363.2 81.7 363.2C82.5 363.2 83.3 364.7 84.1 364.7C84.9 364.7 85.7 363.2 86.5 363.2C87.3 363.2 88.1 364.7 88.9 364.7C89.7 364.7 90.5 363.2 91.3 363.2C92.1 363.2 92.9 364.7 93.7 364.7C94.5 364.7 95.3 363.2 96.1 363.2C96.9 363.2 97.7 364.7 98.5 364.7C99.3 364.7 100.1 363.2 100.9 363.2C101.7 363.2 102.5 364.7 103.3 364.7C104.1 364.7 104.9 363.2 105.7 363.2C106.5 363.2 107.3 364.7 108.1 364.7C108.9 364.7 109.7 363.2 110.5 363.2C111.3 363.2 112.1 364.7 112.9 364.7C113.7 364.7 114.5 363.2 115.3 363.2C116.1 363.2 116.9 364.7 117.7 364.7C118.5 364.7 119.3 363.2 120.1 363.2C120.9 363.2 121.7 364.7 122.5 364.7C123.3 364.7 124.1 363.1 124.9 363.1C125.7 363.1 126.5 364.7 127.3 364.7C128.1 364.7 128.9 363.1 129.7 363.1C130.5 363.1 131.3 364.8 132.1 364.8C132.9 364.8 133.7 363.1 134.5 363.1C135.3 363.1 136.1 364.8 136.9 364.8C137.7 364.8 138.5 363.1 139.3 363.1C140.1 363.1 140.9 364.8 141.7 364.8C142.5 364.8 143.3 363.1 144.1 363.1C144.9 363.1 145.7 364.8 146.5 364.8C147.3 364.8 148.1 363.1 148.9 363.1C149.7 363.1 150.5 364.8 151.3 364.8C152.1 364.8 152.9 363.0 153.7 363.0C154.5 363.0 155.3 364.9 156.1 364.9C156.9 364.9 157.7 363.0 158.5 363.0C159.3 363.0 160.1 364.9 160.9 364.9C161.7 364.9 162.5 363.0 163.3 363.0C164.1 363.0 164.9 364.9 165.7 364.9C166.5 364.9 167.3 363.0 168.1 363.0C168.9 363.0 169.7 364.9 170.5 364.9C171.3 364.9 172.1 362.9 172.9 362.9C173.7 362.9 174.5 365.0 175.3 365.0C176.1 365.0 176.9 362.9 177.7 362.9C178.5 362.9 179.3 365.0 180.1 365.0C180.9 365.0 181.7 362.9 182.5 362.9C183.3 362.9 184.1 365.0 184.9 365.0C185.7 365.0 186.5 362.8 187.3 362.8C188.1 362.8 188.9 365.1 189.7 365.1C190.5 365.1 191.3 362.8 192.1 362.8C192.9 362.8 193.7 365.1 194.5 365.1C195.3 365.1 196.1 362.7 196.9 362.7C197.7 362.7 198.5 365.2 199.3 365.2C200.1 365.2 200.9 362.7 201.7 362.7C202.5 362.7 203.3 365.2 204.1 365.2C204.9 365.2 205.7 362.6 206.5 362.6C207.3 362.6 208.1 365.3 208.9 365.3C209.7 365.3 210.5 362.5 211.3 362.5C212.1 362.5 212.9 365.4 213.7 365.4C214.5 365.4 215.3 362.5 216.1 362.5C216.9 362.5 217.7 365.4 218.5 365.4C219.3 365.4 220.1 362.4 220.9 362.4C221.7 362.4 222.5 365.5 223.3 365.5C224.1 365.5 224.9 362.3 225.7 362.3C226.5 362.3 227.3 365.6 228.1 365.6C228.9 365.6 229.7 362.2 230.5 362.2C231.3 362.2 232.1 365.7 232.9 365.7C233.7 365.7 234.5 362.1 235.3 362.1C236.1 362.1 236.9 365.8 237.7 365.8C238.5 365.8 239.3 362.0 240.1 362.0C240.9 362.0 241.7 365.9 242.5 365.9C243.3 365.9 244.1 361.9 244.9 361.9C245.7 361.9 246.5 366.0 247.3 366.0C248.1 366.0 248.9 361.8 249.7 361.8C250.5 361.8 251.3 366.2 252.1 366.2C252.9 366.2 253.7 361.7 254.5 361.7C255.3 361.7 256.1 366.3 256.9 366.3C257.7 366.3 258.5 361.5 259.3 361.5C260.1 361.5 260.9 366.5 261.7 366.5C262.5 366.5 263.3 361.3 264.1 361.3C264.9 361.3 265.7 366.6 266.5 366.6C267.3 366.6 268.1 361.2 268.9 361.2C269.7 361.2 270.5 366.8 271.3 366.8C272.1 366.8 272.9 361.0 273.7 361.0C274.5 361.0 275.3 367.0 276.1 367.0C276.9 367.0 277.7 360.8 278.5 360.8C279.3 360.8 280.1 367.2 280.9 367.2C281.7 367.2 282.5 360.5 283.3 360.5C284.1 360.5 284.9 367.5 285.7 367.5C286.5 367.5 287.3 360.3 288.1 360.3C288.9 360.3 289.7 367.7 290.5 367.7C291.3 367.7 292.1 360.0 292.9 360.0C293.7 360.0 294.5 368.0 295.3 368.0C296.1 368.0 296.9 359.7 297.7 359.7C298.5 359.7 299.3 368.3 300.1 368.3C300.9 368.3 301.7 359.4 302.5 359.4C303.3 359.4 304.1 368.7 304.9 368.7C305.7 368.7 306.5 359.0 307.3 359.0C308.1 359.0 308.9 369.1 309.7 369.1C310.5 369.1 311.3 358.6 312.1 358.6C312.9 358.6 313.7 369.5 314.5 369.5C315.3 369.5 316.1 358.2 316.9 358.2C317.7 358.2 318.5 369.9 319.3 369.9C320.1 369.9 320.9 357.7 321.7 357.7C322.5 357.7 323.3 370.4 324.1 370.4C324.9 370.4 325.7 357.2 326.5 357.2C327.3 357.2 328.1 370.9 328.9 370.9C329.7 370.9 330.5 357.3 331.3 356.7C332.2 355.9 333.1 356.3 334.0 355.5C334.5 355.1 335.1 340.4 335.6 340.4C336.0 340.4 336.4 341.8 336.8 341.8C337.4 341.8 337.9 319.8 338.5 311.5C339.3 299.2 340.2 280.6 341.0 280.6C341.8 280.6 342.7 347.3 343.5 347.3C344.0 347.3 344.5 336.3 345.0 336.3C345.9 336.3 346.8 514.2 347.7 514.2C349.1 514.2 350.6 87.8 352.0 87.8C353.3 87.8 354.7 497.4 356.0 497.4C357.2 497.4 358.3 325.2 359.5 325.2C360.3 325.2 361.2 407.9 362.0 407.9C363.0 407.9 364.0 336.3 365.0 336.3C366.0 336.3 367.0 391.3 368.0 391.3C369.0 391.3 370.0 347.3 371.0 347.3C372.0 347.3 373.0 385.8 374.0 385.8C375.0 385.8 376.0 352.8 377.0 352.8C378.0 352.8 379.0 380.3 380.0 380.3C381.0 380.3 382.0 357.9 383.0 350.0C384.0 342.2 385.0 330.7 386.0 330.7C386.8 330.7 387.5 416.1 388.3 416.1C389.2 416.1 390.1 352.8 391.0 352.8C392.0 352.8 393.0 377.6 394.0 377.6C394.7 377.6 395.4 370.7 396.0 368.4C396.7 366.0 397.4 363.9 398.1 362.6C398.8 361.3 399.4 359.9 400.1 359.7C400.8 359.5 401.5 359.4 402.2 359.4C402.8 359.4 403.5 360.3 404.2 361.0C404.9 361.8 405.6 365.1 406.2 365.1C406.9 365.1 407.6 364.5 408.3 364.0C409.0 363.4 409.6 360.0 410.3 360.0C411.0 359.9 411.7 359.9 412.4 359.9C413.0 359.9 413.7 366.5 414.4 368.8C415.1 371.1 415.8 374.6 416.4 374.6C417.1 374.6 417.8 373.6 418.5 372.4C419.2 371.2 419.8 365.5 420.5 363.5C421.2 361.6 421.9 359.2 422.6 359.2C423.2 359.2 423.9 364.2 424.6 365.6C425.3 367.0 426.0 368.7 426.6 368.7C427.3 368.7 428.0 362.0 428.7 358.9C429.4 355.9 430.0 350.5 430.7 350.5C431.4 350.5 432.1 353.0 432.8 355.2C433.4 357.3 434.1 363.2 434.8 365.9C435.5 368.5 436.2 372.2 436.8 372.2C437.5 372.2 438.2 368.2 438.9 365.9C439.6 363.6 440.2 358.1 440.9 358.1C441.6 358.1 442.3 358.4 443.0 358.4C443.6 358.4 444.3 357.8 445.0 357.1C445.7 356.4 446.4 351.0 447.0 351.0C447.7 351.0 448.4 351.0 449.1 351.0C449.8 351.0 450.4 355.3 451.1 357.0C451.8 358.7 452.5 361.4 453.2 361.4C453.8 361.4 454.5 360.4 455.2 360.4C455.9 360.4 456.6 361.6 457.2 362.7C457.9 363.8 458.6 368.1 459.3 368.1C460.0 368.1 460.6 365.5 461.3 363.7C462.0 361.9 462.7 356.3 463.4 356.3C464.0 356.3 464.7 359.0 465.4 360.6C466.1 362.2 466.8 366.4 467.4 366.4C468.1 366.4 468.8 364.6 469.5 363.2C470.2 361.9 470.8 359.2 471.5 357.5C472.2 355.8 472.9 353.4 473.6 353.0C474.2 352.5 474.9 352.2 475.6 352.2C476.3 352.2 477.0 357.9 477.6 359.9C478.3 361.9 479.0 364.0 479.7 364.8C480.4 365.7 481.0 366.5 481.7 366.5C482.4 366.5 483.1 366.4 483.8 366.4C484.4 366.3 485.1 364.2 485.8 362.3C486.5 360.3 487.2 352.2 487.8 352.2C488.5 352.2 489.2 353.9 489.9 355.0C490.6 356.0 491.2 358.5 491.9 358.5C492.6 358.5 493.3 355.1 494.0 355.1C494.6 355.1 495.3 356.0 496.0 357.0C496.7 357.9 497.4 362.8 498.0 362.8C498.7 362.8 499.4 360.7 500.1 359.1C500.8 357.6 501.4 353.1 502.1 352.6C502.8 352.1 503.5 351.7 504.2 351.7C504.8 351.7 505.5 354.8 506.2 356.9C506.9 359.1 507.6 365.5 508.2 365.5C508.9 365.5 509.6 365.5 510.3 365.4C511.0 365.4 511.6 359.9 512.3 357.5C513.0 355.1 513.7 351.0 514.4 351.0C515.0 351.0 515.7 352.6 516.4 353.7C517.1 354.8 517.8 357.6 518.4 357.6C519.1 357.6 519.8 356.6 520.5 356.6C521.2 356.6 521.8 357.8 522.5 358.8C523.2 359.9 523.9 364.6 524.6 364.6C525.2 364.6 525.9 361.2 526.6 361.2C527.3 361.2 528.0 361.3 528.6 361.6C529.3 361.8 530.0 369.5 530.7 371.9C531.4 374.3 532.0 377.4 532.7 377.4C533.4 377.4 534.1 374.1 534.8 372.0C535.4 369.9 536.1 367.0 536.8 364.5C537.5 361.9 538.2 356.8 538.8 356.8C539.5 356.8 540.2 357.1 540.9 357.4C541.6 357.8 542.2 360.1 542.9 361.1C543.6 362.2 544.3 363.9 545.0 363.9C545.6 363.9 546.3 361.1 547.0 359.7C547.7 358.3 548.4 355.6 549.0 355.6C549.7 355.6 550.4 356.4 551.1 357.2C551.8 357.9 552.4 360.2 553.1 361.5C553.8 362.7 554.5 364.8 555.2 364.8C555.8 364.8 556.5 364.2 557.2 363.5C557.9 362.8 558.6 357.5 559.2 357.5C559.9 357.5 560.6 357.6 561.3 357.8C562.0 358.0 562.6 365.1 563.3 365.5C564.0 366.0 564.7 366.2 565.4 366.2C566.0 366.2 566.7 361.2 567.4 361.1C568.1 361.0 568.8 361.1 569.4 361.0C570.1 360.9 570.8 360.6 571.5 360.1C572.2 359.7 572.8 358.1 573.5 356.8C574.2 355.5 574.9 352.2 575.6 352.2C576.2 352.2 576.9 352.5 577.6 352.9C578.3 353.3 579.0 359.1 579.6 361.4C580.3 363.7 581.0 366.9 581.7 367.1C582.4 367.4 583.0 367.5 583.7 367.5C584.4 367.5 585.1 367.4 585.8 367.4C586.4 367.4 587.1 367.9 587.8 367.9C588.5 367.9 589.2 364.0 589.8 362.8C590.5 361.5 591.2 359.8 591.9 359.8C592.6 359.8 593.2 361.3 593.9 362.1C594.6 362.9 595.3 364.5 596.0 364.5C596.6 364.5 597.3 362.2 598.0 362.2C598.7 362.2 599.4 362.4 600.0 362.7C600.7 363.1 601.4 367.9 602.1 367.9C602.8 367.9 603.4 365.5 604.1 365.5C604.8 365.5 605.5 370.2 606.2 374.9C607.0 380.4 607.8 410.4 608.6 410.4C609.1 410.4 609.7 372.4 610.2 352.7C610.9 327.9 611.6 276.2 612.3 276.2C613.0 276.2 613.6 310.6 614.3 328.6C615.0 346.9 615.7 371.0 616.4 385.3C616.9 397.5 617.5 415.0 618.1 415.0C618.9 415.0 619.7 378.2 620.4 378.2C621.0 378.2 621.5 378.9 622.0 378.9C622.8 378.9 623.7 353.6 624.5 341.4C625.1 333.2 625.6 317.2 626.2 317.2C627.0 317.2 627.8 347.9 628.6 347.9C629.4 347.9 630.2 343.4 631.0 341.8C631.8 340.1 632.7 337.6 633.5 337.6C633.9 337.6 634.3 348.7 634.7 348.7C635.2 348.7 635.7 335.4 636.2 335.4C637.1 335.4 637.9 353.6 638.8 358.7C639.5 362.7 640.2 366.8 640.8 367.9C641.5 368.9 642.2 369.7 642.9 369.7C643.6 369.7 644.2 368.7 644.9 368.1C645.6 367.6 646.3 366.6 647.0 366.6C647.6 366.6 648.3 369.0 649.0 369.8C649.7 370.6 650.4 371.7 651.0 371.7C651.7 371.7 652.4 368.4 653.1 366.9C653.8 365.3 654.4 362.4 655.1 362.4C655.8 362.4 656.5 366.2 657.2 368.1C657.6 369.4 658.1 372.0 658.5 372.0C659.4 372.0 660.3 354.1 661.2 354.1C661.9 354.1 662.6 355.5 663.3 356.9C664.0 358.4 664.6 364.9 665.3 365.7C666.0 366.5 666.7 367.0 667.4 367.0C668.0 367.0 668.7 366.0 669.4 366.0C670.1 366.0 670.8 368.8 671.4 369.4C672.1 369.9 672.8 370.5 673.5 370.5C674.2 370.5 674.8 365.5 675.5 364.6C676.2 363.7 676.9 362.9 677.6 362.9C678.2 362.9 678.9 367.2 679.6 367.2C680.3 367.2 681.0 366.0 681.6 364.5C682.3 363.1 683.0 356.0 683.7 354.3C684.4 352.6 685.0 351.0 685.7 351.0C686.4 351.0 687.1 353.7 687.8 355.3C688.4 356.9 689.1 359.2 689.8 360.7C690.5 362.2 691.2 363.7 691.8 364.6C692.5 365.5 693.2 366.0 693.9 366.7C694.6 367.4 695.2 368.9 695.9 368.9C696.6 368.9 697.3 367.5 698.0 366.8C698.6 366.0 699.3 364.6 700.0 364.4C700.7 364.2 701.4 364.2 702.0 364.0C702.7 363.9 703.4 363.5 704.1 363.1C704.8 362.7 705.4 361.0 706.1 361.0C706.8 361.0 707.5 363.2 708.2 364.4C708.8 365.6 709.5 367.1 710.2 368.4C710.9 369.6 711.6 371.8 712.2 371.8C712.9 371.8 713.6 370.9 714.3 370.0C715.0 369.1 715.6 364.7 716.3 364.7C717.0 364.7 717.7 366.7 718.4 367.2C719.0 367.7 719.7 368.3 720.4 368.3C721.1 368.3 721.8 363.1 722.4 361.3C723.1 359.4 723.8 356.6 724.5 356.6C725.2 356.6 725.8 361.2 726.5 363.3C727.2 365.4 727.9 369.3 728.6 369.3C729.2 369.3 729.9 368.6 730.6 367.7C731.3 366.8 732.0 360.6 732.6 359.9C733.3 359.3 734.0 358.8 734.7 358.8C735.4 358.8 736.0 363.8 736.7 365.9C737.4 368.0 738.1 371.6 738.8 371.6C739.4 371.6 740.1 369.6 740.8 368.0C741.5 366.4 742.2 362.4 742.8 360.9C743.5 359.5 744.2 357.7 744.9 357.7C745.6 357.7 746.2 358.8 746.9 359.3C747.6 359.7 748.3 360.4 749.0 360.4C749.6 360.4 750.3 358.4 751.0 357.7C751.7 357.1 752.4 356.5 753.0 356.2C753.7 355.8 754.4 355.8 755.1 355.4C755.8 355.0 756.4 352.9 757.1 352.2C757.8 351.4 758.5 350.5 759.2 350.5C759.8 350.5 760.5 353.1 761.2 355.0C761.9 356.9 762.6 362.7 763.2 362.8C763.9 362.9 764.6 362.9 765.3 362.9C766.0 362.9 766.6 357.8 767.3 356.4C768.0 354.9 768.7 353.0 769.4 353.0C770.0 353.0 770.7 355.5 771.4 356.2C772.1 356.9 772.8 357.5 773.4 357.9C774.1 358.2 774.8 358.6 775.5 358.6C776.2 358.6 776.8 358.1 777.5 357.5C778.2 357.0 778.9 355.0 779.6 353.9C780.2 352.9 780.9 351.0 781.6 351.0C782.3 351.0 783.0 353.2 783.6 354.7C784.3 356.2 785.0 359.5 785.7 360.6C786.4 361.7 787.0 362.1 787.7 362.9C788.4 363.7 789.1 365.6 789.8 365.6C790.4 365.6 791.1 365.2 791.8 364.7C792.5 364.3 793.2 361.6 793.8 361.6C794.5 361.6 795.2 362.5 795.9 363.4C796.6 364.3 797.2 369.4 797.9 369.4C798.6 369.4 799.3 366.9 800.0 365.2C800.6 363.5 801.3 360.3 802.0 358.7C802.7 357.2 803.4 355.1 804.0 355.1C804.7 355.1 805.4 357.7 806.1 359.8C806.8 361.8 807.4 366.2 808.1 368.6C808.8 371.1 809.5 374.9 810.2 374.9C810.8 374.9 811.5 372.0 812.2 370.9C812.9 369.7 813.6 368.2 814.2 367.8C814.9 367.4 815.6 367.5 816.3 367.1C817.0 366.7 817.6 364.3 818.3 363.3C819.0 362.3 819.7 360.9 820.4 360.9C821.0 360.9 821.7 364.9 822.4 366.1C823.1 367.3 823.8 368.8 824.4 368.8C825.1 368.8 825.8 368.7 826.5 368.7C827.2 368.7 827.8 372.1 828.5 372.1C829.2 372.2 829.9 372.2 830.6 372.2C831.2 372.2 831.9 368.7 832.6 367.7C833.3 366.7 834.0 365.3 834.6 365.3C835.3 365.3 836.0 367.2 836.7 367.6C837.4 368.0 838.0 368.4 838.7 368.4C839.4 368.4 840.1 366.8 840.8 365.7C841.4 364.6 842.1 361.2 842.8 361.2C843.5 361.2 844.2 361.4 844.8 361.4C845.5 361.4 846.2 360.8 846.9 360.8C847.6 360.8 848.2 362.4 848.9 363.5C849.6 364.5 850.3 366.4 851.0 367.1C851.6 367.8 852.3 368.3 853.0 368.6C853.7 368.9 854.4 368.9 855.0 369.2C855.7 369.5 856.4 372.6 857.1 372.6C857.8 372.6 858.4 372.4 859.1 372.2C859.8 372.1 860.5 371.5 861.2 371.5C861.8 371.5 862.5 373.1 863.2 373.7C863.9 374.3 864.6 375.3 865.2 375.3C865.9 375.3 866.6 372.2 867.3 370.5C868.0 368.8 868.6 366.5 869.3 365.0C870.0 363.5 870.7 361.4 871.4 361.3C872.0 361.1 872.7 361.0 873.4 361.0C874.1 361.0 874.8 361.1 875.4 361.3C876.1 361.5 876.8 362.1 877.5 362.2C878.2 362.4 878.8 362.3 879.5 362.5C880.2 362.6 880.9 365.0 881.6 365.8C882.2 366.6 882.9 367.8 883.6 367.8C884.3 367.8 885.0 365.1 885.6 363.6C886.3 362.2 887.0 359.0 887.7 359.0C888.4 359.0 889.0 359.2 889.7 359.5C890.4 359.8 891.1 363.6 891.8 363.6C892.4 363.6 893.1 362.9 893.8 362.4C894.5 361.9 895.2 360.5 895.8 360.5C896.5 360.5 897.2 363.5 897.9 363.5C898.6 363.5 899.2 363.4 899.9 363.2C900.6 362.9 901.3 360.7 902.0 360.7C902.6 360.7 903.3 362.0 904.0 362.0C904.7 362.0 905.4 361.5 906.0 360.8C907.0 359.7 908.0 345.6 909.0 345.6C909.4 345.6 909.7 353.2 910.1 357.4C910.8 365.3 911.5 383.4 912.2 383.4C912.9 383.4 913.5 372.2 914.2 369.3C914.9 366.4 915.6 363.0 916.2 363.0C916.9 363.0 917.6 364.4 918.3 364.4C919.0 364.4 919.6 363.4 920.3 362.7C921.0 362.0 921.7 360.6 922.4 360.0C923.0 359.5 923.7 358.8 924.4 358.8C925.1 358.8 925.8 359.8 926.4 360.3C927.1 360.9 927.8 361.8 928.5 361.8C929.2 361.8 929.8 358.8 930.5 357.8C931.2 356.9 931.9 356.0 932.6 355.5C933.2 355.0 933.9 354.4 934.6 354.4C935.3 354.4 936.0 355.8 936.6 356.5C937.3 357.3 938.0 358.8 938.7 358.9C939.4 359.0 940.0 359.1 940.7 359.1C941.4 359.1 942.1 356.5 942.8 356.0C943.4 355.6 944.1 355.5 944.8 355.3C945.5 355.0 946.2 354.6 946.8 354.6C947.5 354.6 948.2 357.5 948.9 359.0C949.6 360.5 950.2 362.0 950.9 363.5C951.6 365.0 952.3 367.9 953.0 367.9C953.6 367.9 954.3 367.0 955.0 366.4C955.7 365.8 956.4 364.8 957.0 363.8C957.7 362.7 958.4 360.2 959.1 360.2C959.8 360.2 960.4 360.5 961.1 360.8C961.8 361.2 962.5 363.4 963.2 364.6C963.8 365.8 964.5 368.3 965.2 368.3C965.9 368.3 966.6 368.1 967.2 368.0C967.9 367.9 968.6 367.7 969.3 367.3C970.0 366.9 970.6 365.1 971.3 363.6C972.0 362.2 972.7 359.6 973.4 358.4C974.0 357.3 974.7 355.9 975.4 355.9C976.1 355.9 976.8 357.5 977.4 358.9C978.1 360.3 978.8 364.1 979.5 366.5C980.2 368.8 980.8 373.0 981.5 373.0C982.2 373.0 982.9 371.9 983.6 370.7C984.2 369.5 984.9 364.0 985.6 361.9C986.3 359.9 987.0 357.2 987.6 357.2C988.3 357.1 989.0 357.1 989.7 357.1C990.4 357.1 991.0 355.6 991.7 355.5C992.4 355.4 993.1 355.3 993.8 355.3C994.4 355.3 995.1 361.3 995.8 363.5C996.5 365.8 997.2 369.4 997.8 369.4C998.5 369.4 999.2 366.5 999.9 364.3C1000.6 362.0 1001.2 355.7 1001.9 354.6C1002.6 353.4 1003.3 352.5 1004.0 352.5C1004.6 352.5 1005.3 369.6 1006.0 380.8C1006.7 392.9 1007.5 425.8 1008.2 425.8C1008.8 425.8 1009.5 381.0 1010.1 358.6C1010.7 336.9 1011.3 293.6 1011.9 293.6C1012.9 293.6 1013.9 414.2 1014.9 414.2C1015.3 414.2 1015.8 398.0 1016.2 395.3C1016.8 391.6 1017.4 391.9 1018.0 388.6C1018.8 384.4 1019.5 372.4 1020.3 363.3C1021.0 354.8 1021.7 335.7 1022.4 335.7C1023.1 335.7 1023.7 347.3 1024.4 351.6C1025.0 356.0 1025.7 362.5 1026.4 362.5C1027.1 362.5 1027.8 361.3 1028.4 360.3C1029.1 359.3 1029.8 356.0 1030.5 356.0C1031.2 356.0 1031.8 356.3 1032.5 356.8C1033.2 357.2 1033.9 361.5 1034.6 362.8C1035.2 364.1 1035.9 364.9 1036.6 365.7C1037.3 366.6 1038.0 368.0 1038.6 368.0C1039.3 368.0 1040.0 367.2 1040.7 366.6C1041.4 366.1 1042.0 364.6 1042.7 364.6C1043.4 364.6 1044.1 366.7 1044.8 367.1C1045.4 367.4 1046.1 367.7 1046.8 367.7C1047.5 367.7 1048.2 362.5 1048.8 361.9C1049.5 361.3 1050.2 361.2 1050.9 360.8C1051.6 360.4 1052.2 359.8 1052.9 359.2C1053.6 358.6 1054.3 356.8 1055.0 356.8C1055.6 356.8 1056.3 360.9 1057.0 362.6C1057.7 364.3 1058.4 367.0 1059.0 367.2C1059.7 367.4 1060.4 367.4 1061.1 367.5C1061.8 367.6 1062.4 368.1 1063.1 368.5C1063.8 368.8 1064.5 369.6 1065.2 369.6C1065.8 369.6 1066.5 364.5 1067.2 363.0C1067.9 361.5 1068.6 359.4 1069.2 359.4C1069.9 359.4 1070.6 362.5 1071.3 364.7C1072.0 367.0 1072.6 374.0 1073.3 374.1C1074.0 374.3 1074.7 374.3 1075.4 374.3C1076.0 374.3 1076.7 368.1 1077.4 366.5C1078.1 364.9 1078.8 363.7 1079.4 363.0C1080.1 362.2 1080.8 362.1 1081.5 361.3C1082.2 360.5 1082.8 358.9 1083.5 357.7C1084.2 356.4 1084.9 353.8 1085.6 353.8C1086.2 353.8 1086.9 354.2 1087.6 354.4C1088.3 354.5 1089.0 354.5 1089.6 354.6C1090.3 354.8 1091.0 355.6 1091.7 356.2C1092.4 356.8 1093.0 357.1 1093.7 358.1C1094.4 359.0 1095.1 363.4 1095.8 364.0C1096.4 364.5 1097.1 364.9 1097.8 364.9C1098.5 364.9 1099.2 364.6 1099.8 364.3C1100.5 363.9 1101.2 361.6 1101.9 360.9C1102.6 360.1 1103.2 359.5 1103.9 359.2C1104.6 358.8 1105.3 358.4 1106.0 358.4C1106.6 358.4 1107.3 364.1 1108.0 364.1C1108.7 364.1 1109.4 363.8 1110.0 363.4C1110.7 363.1 1111.4 361.7 1112.1 360.8C1112.8 359.9 1113.4 357.8 1114.1 357.8C1114.8 357.8 1115.5 359.4 1116.2 360.2C1116.8 361.0 1117.5 362.1 1118.2 362.6C1118.9 363.2 1119.6 363.8 1120.2 363.8C1120.9 363.8 1121.6 359.4 1122.3 359.4C1123.0 359.4 1123.6 363.8 1124.3 367.2C1124.9 369.9 1125.4 378.7 1126.0 378.7C1126.8 378.7 1127.6 372.1 1128.4 369.8C1129.1 367.9 1129.8 365.0 1130.4 365.0C1131.1 365.0 1131.8 365.2 1132.5 365.2C1133.2 365.2 1133.8 362.2 1134.5 361.0C1135.2 359.7 1135.9 357.7 1136.6 357.7C1137.2 357.7 1137.9 362.2 1138.6 363.5C1139.3 364.7 1140.0 366.3 1140.6 366.3C1141.3 366.3 1142.0 364.2 1142.7 363.9C1143.4 363.6 1144.0 363.6 1144.7 363.4C1145.4 363.1 1146.1 362.7 1146.8 362.4C1147.4 362.1 1148.1 361.7 1148.8 361.7C1149.5 361.7 1150.2 365.8 1150.8 366.4C1151.5 367.0 1152.2 367.5 1152.9 367.5C1153.6 367.5 1154.2 366.3 1154.9 365.5C1155.6 364.7 1156.3 363.0 1157.0 362.5C1157.6 362.0 1158.3 361.5 1159.0 361.5C1159.7 361.5 1160.4 363.6 1161.0 365.2C1161.7 366.7 1162.4 371.6 1163.1 371.6C1163.8 371.6 1164.4 371.3 1165.1 371.1C1165.8 370.9 1166.5 370.9 1167.2 370.5C1167.8 370.1 1168.5 368.1 1169.2 366.5C1169.9 364.9 1170.6 361.9 1171.2 360.4C1171.9 358.9 1172.6 356.8 1173.3 356.8C1174.0 356.8 1174.6 356.9 1175.3 357.1C1176.0 357.3 1176.7 359.9 1177.4 361.0C1178.0 362.0 1178.7 363.7 1179.4 363.7C1180.1 363.7 1180.8 362.0 1181.4 361.1C1182.1 360.3 1182.8 358.5 1183.5 358.5C1184.2 358.5 1184.8 362.2 1185.5 364.1C1186.2 366.1 1186.9 370.3 1187.6 370.3C1188.2 370.3 1188.9 368.8 1189.6 367.4C1190.3 365.9 1191.0 358.9 1191.6 358.8C1192.3 358.8 1193.0 358.7 1193.7 358.7C1194.4 358.7 1195.0 364.1 1195.7 365.6C1196.4 367.0 1197.1 368.8 1197.8 368.8C1198.4 368.8 1199.1 367.8 1199.8 367.8C1200.5 367.8 1201.2 369.3 1201.8 369.3C1202.5 369.3 1203.2 369.1 1203.9 368.8C1204.6 368.4 1205.2 365.6 1205.9 364.4C1206.6 363.1 1207.3 361.2 1208.0 361.2C1208.6 361.2 1209.3 362.0 1210.0 362.7C1210.7 363.4 1211.4 365.7 1212.0 366.6C1212.7 367.5 1213.4 368.7 1214.1 368.7C1214.8 368.7 1215.4 367.6 1216.1 367.0C1216.8 366.3 1217.5 365.0 1218.2 364.7C1218.8 364.5 1219.5 364.5 1220.2 364.3C1220.9 364.0 1221.6 362.2 1222.2 360.7C1222.9 359.3 1223.6 355.6 1224.3 355.4C1225.0 355.1 1225.6 355.0 1226.3 355.0C1227.0 355.0 1227.7 358.6 1228.4 359.8C1229.0 360.9 1229.7 361.6 1230.4 362.5C1231.1 363.3 1231.8 363.7 1232.4 364.8C1233.1 365.9 1233.8 369.6 1234.5 369.9C1235.2 370.1 1235.8 370.0 1236.5 370.3C1237.2 370.6 1237.9 375.6 1238.6 379.3C1239.1 382.2 1239.7 390.2 1240.2 390.2C1241.0 390.2 1241.8 351.9 1242.6 332.1C1243.1 321.9 1243.5 301.0 1243.9 301.0C1245.2 301.0 1246.4 431.3 1247.7 431.3C1248.7 431.3 1249.8 369.1 1250.8 346.9C1251.5 331.2 1252.3 307.3 1253.0 307.3C1253.6 307.3 1254.3 338.3 1254.9 354.0C1255.6 370.9 1256.2 405.1 1256.9 405.1C1257.6 405.1 1258.3 382.4 1259.0 375.6C1259.6 368.9 1260.3 360.4 1261.0 360.4C1261.7 360.4 1262.4 364.9 1263.0 364.9C1263.7 364.9 1264.4 364.3 1265.1 363.6C1265.8 363.0 1266.4 359.9 1267.1 359.3C1267.8 358.7 1268.5 358.1 1269.2 358.1C1269.8 358.1 1270.5 359.0 1271.2 359.7C1271.9 360.5 1272.6 362.4 1273.2 363.2C1273.9 364.1 1274.6 365.3 1275.3 365.3C1276.0 365.3 1276.6 364.0 1277.3 363.2C1278.0 362.4 1278.7 360.3 1279.4 360.3C1280.0 360.3 1280.7 360.6 1281.4 361.1C1282.1 361.6 1282.8 366.9 1283.4 368.5C1284.1 370.0 1284.8 371.9 1285.5 371.9C1286.2 371.9 1286.8 371.1 1287.5 370.3C1288.2 369.4 1288.9 365.7 1289.6 364.9C1290.2 364.1 1290.9 363.4 1291.6 363.4C1292.3 363.4 1293.0 367.1 1293.6 368.6C1294.3 370.2 1295.0 373.0 1295.7 373.0C1296.4 373.0 1297.0 369.9 1297.7 368.3C1298.4 366.7 1299.1 363.7 1299.8 363.1C1300.4 362.5 1301.1 362.3 1301.8 362.1C1302.5 361.9 1303.2 361.7 1303.8 361.5C1304.5 361.3 1305.2 361.1 1305.9 360.8C1306.6 360.4 1307.2 359.5 1307.9 358.5C1308.6 357.5 1309.3 355.1 1310.0 353.6C1310.6 352.1 1311.3 349.7 1312.0 349.4C1312.7 349.2 1313.4 349.1 1314.0 349.1C1314.7 349.0 1315.4 348.9 1316.1 348.9C1316.8 348.9 1317.4 349.8 1318.1 350.7C1318.8 351.6 1319.5 355.0 1320.2 356.2C1320.8 357.4 1321.5 359.0 1322.2 359.0C1322.9 359.0 1323.6 357.4 1324.2 356.7C1324.9 355.9 1325.6 354.2 1326.3 354.2C1327.0 354.2 1327.6 357.3 1328.3 359.3C1329.0 361.2 1329.7 365.3 1330.4 366.4C1331.0 367.5 1331.7 368.5 1332.4 368.5C1333.1 368.5 1333.8 366.0 1334.4 366.0C1335.1 366.0 1335.8 366.9 1336.5 366.9C1337.2 366.9 1337.8 365.4 1338.5 365.4C1339.2 365.4 1339.9 365.4 1340.6 365.4C1341.2 365.4 1341.9 369.3 1342.6 369.3C1343.3 369.3 1344.0 367.3 1344.6 366.1C1345.3 364.9 1346.0 361.7 1346.7 361.7C1347.4 361.7 1348.0 361.7 1348.7 361.6C1349.4 361.6 1350.1 360.8 1350.8 360.8C1351.4 360.8 1352.1 361.3 1352.8 362.1C1353.5 362.8 1354.2 370.7 1354.8 371.7C1355.5 372.6 1356.2 373.4 1356.9 373.4C1357.6 373.4 1358.2 372.0 1358.9 371.0C1359.6 370.0 1360.3 368.3 1361.0 366.5C1361.6 364.8 1362.3 360.8 1363.0 360.3C1363.7 359.8 1364.4 359.5 1365.0 359.5C1365.7 359.5 1366.4 367.4 1367.1 367.4C1367.8 367.4 1368.4 367.4 1369.1 367.3C1369.8 367.3 1370.5 365.5 1371.2 364.7C1371.8 363.9 1372.5 363.6 1373.2 362.6C1373.9 361.6 1374.6 359.0 1375.2 357.5C1375.9 355.9 1376.6 353.1 1377.3 353.1C1378.0 353.1 1378.6 357.5 1379.3 358.0C1380.0 358.6 1380.7 359.0 1381.4 359.0C1382.0 359.0 1382.7 355.1 1383.4 354.7C1384.1 354.3 1384.8 354.0 1385.4 354.0C1386.1 354.0 1386.8 355.1 1387.5 356.1C1388.2 357.1 1388.8 359.9 1389.5 361.7C1390.2 363.4 1390.9 366.8 1391.6 366.8C1392.2 366.8 1392.9 365.1 1393.6 364.1C1394.3 363.1 1395.0 361.0 1395.6 361.0C1396.3 361.0 1397.0 363.4 1397.7 363.4C1398.4 363.4 1399.0 362.4 1399.7 361.8C1400.4 361.3 1401.1 360.0 1401.8 360.0C1402.4 360.0 1403.1 360.5 1403.8 360.5C1404.5 360.5 1405.2 358.7 1405.8 357.6C1406.5 356.6 1407.2 354.2 1407.9 354.2C1408.6 354.2 1409.2 355.1 1409.9 355.9C1410.6 356.7 1411.3 359.5 1412.0 359.5C1412.6 359.5 1413.3 359.3 1414.0 359.2" stroke="#a000c8"/>
<path d="M38.6 363.1C39.4 363.6 40.2 364.5 41.0 364.5C41.8 364.5 42.6 363.1 43.4 363.1C44.2 363.1 45.0 364.5 45.8 364.5C46.6 364.5 47.4 363.1 48.2 363.1C49.0 363.1 49.8 364.5 50.6 364.5C51.4 364.5 52.2 363.1 53.0 363.1C53.8 363.1 54.6 364.5 55.4 364.5C56.2 364.5 57.0 363.1 57.8 363.1C58.6 363.1 59.4 364.5 60.2 364.5C61.0 364.5 61.8 363.1 62.6 363.1C63.4 363.1 64.2 364.5 65.0 364.5C65.8 364.5 66.6 363.1 67.4 363.1C68.2 363.1 69.0 364.5 69.8 364.5C70.6 364.5 71.4 363.1 72.2 363.1C73.0 363.1 73.8 364.5 74.6 364.5C75.4 364.5 76.2 363.1 77.0 363.1C77.8 363.1 78.6 364.5 79.4 364.5C80.2 364.5 81.0 363.1 81.8 363.1C82.6 363.1 83.4 364.5 84.2 364.5C85.0 364.5 85.8 363.1 86.6 363.1C87.4 363.1 88.2 364.5 89.0 364.5C89.8 364.5 90.6 363.1 91.4 363.1C92.2 363.1 93.0 364.6 93.8 364.6C94.6 364.6 95.4 363.0 96.2 363.0C97.0 363.0 97.8 364.6 98.6 364.6C99.4 364.6 100.2 363.0 101.0 363.0C101.8 363.0 102.6 364.6 103.4 364.6C104.2 364.6 105.0 363.0 105.8 363.0C106.6 363.0 107.4 364.6 108.2 364.6C109.0 364.6 109.8 363.0 110.6 363.0C111.4 363.0 112.2 364.6 113.0 364.6C113.8 364.6 114.6 363.0 115.4 363.0C116.2 363.0 117.0 364.6 117.8 364.6C118.6 364.6 119.4 363.0 120.2 363.0C121.0 363.0 121.8 364.6 122.6 364.6C123.4 364.6 124.2 363.0 125.0 363.0C125.8 363.0 126.6 364.6 127.4 364.6C128.2 364.6 129.0 363.0 129.8 363.0C130.6 363.0 131.4 364.6 132.2 364.6C133.0 364.6 133.8 362.9 134.6 362.9C135.4 362.9 136.2 364.7 137.0 364.7C137.8 364.7 138.6 362.9 139.4 362.9C140.2 362.9 141.0 364.7 141.8 364.7C142.6 364.7 143.4 362.9 144.2 362.9C145.0 362.9 145.8 364.7 146.6 364.7C147.4 364.7 148.2 362.9 149.0 362.9C149.8 362.9 150.6 364.7 151.4 364.7C152.2 364.7 153.0 362.9 153.8 362.9C154.6 362.9 155.4 364.7 156.2 364.7C157.0 364.7 157.8 362.8 158.6 362.8C159.4 362.8 160.2 364.8 161.0 364.8C161.8 364.8 162.6 362.8 163.4 362.8C164.2 362.8 165.0 364.8 165.8 364.8C166.6 364.8 167.4 362.8 168.2 362.8C169.0 362.8 169.8 364.8 170.6 364.8C171.4 364.8 172.2 362.8 173.0 362.8C173.8 362.8 174.6 364.9 175.4 364.9C176.2 364.9 177.0 362.7 177.8 362.7C178.6 362.7 179.4 364.9 180.2 364.9C181.0 364.9 181.8 362.7 182.6 362.7C183.4 362.7 184.2 364.9 185.0 364.9C185.8 364.9 186.6 362.6 187.4 362.6C188.2 362.6 189.0 365.0 189.8 365.0C190.6 365.0 191.4 362.6 192.2 362.6C193.0 362.6 193.8 365.0 194.6 365.0C195.4 365.0 196.2 362.5 197.0 362.5C197.8 362.5 198.6 365.1 199.4 365.1C200.2 365.1 201.0 362.5 201.8 362.5C202.6 362.5 203.4 365.1 204.2 365.1C205.0 365.1 205.8 362.4 206.6 362.4C207.4 362.4 208.2 365.2 209.0 365.2C209.8 365.2 210.6 362.4 211.4 362.4C212.2 362.4 213.0 365.3 213.8 365.3C214.6 365.3 215.4 362.3 216.2 362.3C217.0 362.3 217.8 365.3 218.6 365.3C219.4 365.3 220.2 362.2 221.0 362.2C221.8 362.2 222.6 365.4 223.4 365.4C224.2 365.4 225.0 362.1 225.8 362.1C226.6 362.1 227.4 365.5 228.2 365.5C229.0 365.5 229.8 362.0 230.6 362.0C231.4 362.0 232.2 365.6 233.0 365.6C233.8 365.6 234.6 361.9 235.4 361.9C236.2 361.9 237.0 365.7 237.8 365.7C238.6 365.7 239.4 361.8 240.2 361.8C241.0 361.8 241.8 365.8 242.6 365.8C243.4 365.8 244.2 361.7 245.0 361.7C245.8 361.7 246.6 365.9 247.4 365.9C248.2 365.9 249.0 361.6 249.8 361.6C250.6 361.6 251.4 366.1 252.2 366.1C253.0 366.1 253.8 361.5 254.6 361.5C255.4 361.5 256.2 366.2 257.0 366.2C257.8 366.2 258.6 361.3 259.4 361.3C260.2 361.3 261.0 366.4 261.8 366.4C262.6 366.4 263.4 361.1 264.2 361.1C265.0 361.1 265.8 366.6 266.6 366.6C267.4 366.6 268.2 360.9 269.0 360.9C269.8 360.9 270.6 366.8 271.4 366.8C272.2 366.8 273.0 360.7 273.8 360.7C274.6 360.7 275.4 367.0 276.2 367.0C277.0 367.0 277.8 360.5 278.6 360.5C279.4 360.5 280.2 367.2 281.0 367.2C281.8 367.2 282.6 360.3 283.4 360.3C284.2 360.3 285.0 367.4 285.8 367.4C286.6 367.4 287.4 360.0 288.2 360.0C289.0 360.0 289.8 367.7 290.6 367.7C291.4 367.7 292.2 359.7 293.0 359.7C293.8 359.7 294.6 368.0 295.4 368.0C296.2 368.0 297.0 359.4 297.8 359.4C298.6 359.4 299.4 368.3 300.2 368.3C301.0 368.3 301.8 359.1 302.6 359.1C303.4 359.1 304.2 368.7 305.0 368.7C305.8 368.7 306.6 358.7 307.4 358.7C308.2 358.7 309.0 369.1 309.8 369.1C310.6 369.1 311.4 358.3 312.2 358.3C313.0 358.3 313.8 369.5 314.6 369.5C315.4 369.5 316.2 357.9 317.0 357.9C317.8 357.9 318.6 369.9 319.4 369.9C320.2 369.9 321.0 357.4 321.8 357.4C322.6 357.4 323.4 370.4 324.2 370.4C325.0 370.4 325.8 356.9 326.6 356.9C327.4 356.9 328.2 371.0 329.0 371.0C329.8 371.0 330.6 356.3 331.4 356.3C332.2 356.3 333.0 371.6 333.8 371.6C334.4 371.6 335.1 357.6 335.8 355.0C336.5 352.2 337.3 349.5 338.0 349.5C338.7 349.5 339.5 379.5 340.2 379.5C342.5 379.5 344.7 270.4 347.0 270.4C348.0 270.4 349.0 516.7 350.0 516.7C351.3 516.7 352.7 87.8 354.0 87.8C355.3 87.8 356.5 471.2 357.8 471.2C358.7 471.2 359.6 358.3 360.5 358.3C361.2 358.3 361.8 402.4 362.5 402.4C363.3 402.4 364.0 366.5 364.8 358.3C365.5 350.4 366.3 341.8 367.0 341.8C367.7 341.8 368.3 362.2 369.0 374.8C369.7 387.4 370.3 418.9 371.0 418.9C371.8 418.9 372.7 352.8 373.5 352.8C374.3 352.8 375.2 391.3 376.0 391.3C376.8 391.3 377.7 360.0 378.5 358.3C379.3 356.6 380.2 355.5 381.0 355.5C381.9 355.5 382.7 399.6 383.6 399.6C384.4 399.6 385.2 370.3 386.0 358.3C386.8 345.8 387.7 325.2 388.5 325.2C389.3 325.2 390.2 347.7 391.0 355.5C391.8 363.4 392.7 374.8 393.5 374.8C394.3 374.8 395.2 350.0 396.0 350.0C397.2 350.0 398.3 412.0 399.5 412.0C401.0 412.0 402.5 386.5 404.0 375.6C404.7 370.7 405.4 362.1 406.0 361.9C407.0 361.7 408.0 361.6 409.0 361.6C409.4 361.6 409.7 366.3 410.1 368.3C410.7 371.1 411.2 375.7 411.8 375.7C412.6 375.7 413.4 364.6 414.2 359.2C414.8 355.1 415.4 347.0 416.0 347.0C417.0 347.0 418.0 373.4 419.0 373.4C419.4 373.4 419.9 369.3 420.3 367.7C420.9 365.7 421.4 362.6 422.0 362.6C422.8 362.6 423.5 369.0 424.3 369.0C425.0 369.0 425.7 359.4 426.4 354.5C426.9 351.4 427.3 345.2 427.8 345.2C428.7 345.2 429.6 356.0 430.5 359.8C431.3 363.1 432.2 368.1 433.0 368.1C433.5 368.1 434.1 365.2 434.6 363.8C435.3 361.9 436.0 358.9 436.6 358.1C437.4 357.1 438.2 356.3 439.0 356.3C439.6 356.3 440.1 361.5 440.7 363.8C441.3 366.2 441.9 370.5 442.5 370.5C443.3 370.5 444.0 367.0 444.8 365.2C445.5 363.6 446.2 362.2 446.8 360.3C447.7 357.8 448.6 350.9 449.5 350.9C450.0 350.9 450.4 354.3 450.9 356.1C451.6 358.8 452.3 363.8 453.0 364.5C453.6 365.2 454.3 365.7 455.0 365.7C455.7 365.7 456.4 362.0 457.0 359.8C457.8 357.5 458.5 351.9 459.2 351.9C459.8 351.9 460.5 358.2 461.1 360.7C462.0 364.2 462.9 369.5 463.8 369.5C464.3 369.5 464.7 367.8 465.2 367.1C465.9 366.1 466.6 364.5 467.2 364.5C467.9 364.4 468.6 364.4 469.3 364.4C470.0 364.3 470.6 363.7 471.3 363.1C472.2 362.4 473.1 359.8 474.0 359.8C474.5 359.8 474.9 362.0 475.4 362.9C476.1 364.2 476.8 366.1 477.4 366.1C478.1 366.1 478.8 365.3 479.5 365.3C480.2 365.3 480.8 366.2 481.5 366.8C482.0 367.2 482.5 368.4 483.0 368.4C483.9 368.4 484.7 362.7 485.6 361.9C486.3 361.2 487.0 360.7 487.6 360.6C488.3 360.6 489.0 360.6 489.7 360.5C490.7 360.4 491.8 354.5 492.8 354.5C493.8 354.5 494.8 359.8 495.8 359.8C496.5 359.8 497.2 359.8 497.8 359.8C498.5 359.8 499.2 358.0 499.9 358.0C500.6 358.0 501.2 358.1 501.9 358.1C502.6 358.2 503.3 361.4 504.0 361.9C504.6 362.4 505.3 362.8 506.0 362.8C506.7 362.8 507.4 360.8 508.0 360.4C508.7 360.1 509.4 359.9 510.1 359.9C510.8 359.9 511.4 359.9 512.1 359.9C512.8 359.8 513.5 358.2 514.2 358.2C514.8 358.2 515.5 358.7 516.2 359.3C516.9 359.9 517.6 362.2 518.2 362.9C518.9 363.5 519.6 364.2 520.3 364.2C521.0 364.2 521.6 364.0 522.3 364.0C523.0 364.0 523.7 364.7 524.4 365.1C525.0 365.5 525.7 366.3 526.4 366.3C527.1 366.3 527.8 365.4 528.4 364.8C529.1 364.2 529.8 363.3 530.5 362.5C531.2 361.8 531.8 361.0 532.5 360.1C533.2 359.3 533.9 357.1 534.6 357.1C535.2 357.1 535.9 357.2 536.6 357.4C537.3 357.6 538.0 362.1 538.6 362.6C539.3 363.2 540.0 363.6 540.7 363.6C541.4 363.6 542.0 358.4 542.7 358.4C543.4 358.4 544.1 358.6 544.8 359.0C545.4 359.4 546.1 364.4 546.8 364.9C547.5 365.4 548.2 365.8 548.8 365.8C549.5 365.8 550.2 361.8 550.9 361.5C551.6 361.2 552.2 361.1 552.9 360.9C553.6 360.8 554.3 360.8 555.0 360.6C555.6 360.3 556.3 359.1 557.0 358.4C557.7 357.6 558.4 356.2 559.0 356.1C559.7 356.0 560.4 356.0 561.1 355.9C561.8 355.8 562.4 355.6 563.1 355.6C563.8 355.6 564.5 356.5 565.2 357.1C565.8 357.7 566.5 359.1 567.2 359.1C567.9 359.1 568.6 359.0 569.2 358.8C569.9 358.6 570.6 356.9 571.3 356.2C572.0 355.4 572.6 354.3 573.3 354.3C574.0 354.3 574.7 357.6 575.4 359.0C576.0 360.4 576.7 362.7 577.4 362.7C578.1 362.7 578.8 362.2 579.4 361.6C580.1 361.0 580.8 356.9 581.5 356.9C582.2 356.9 582.8 357.1 583.5 357.5C584.2 357.8 584.9 359.7 585.6 360.5C586.2 361.2 586.9 362.4 587.6 362.4C588.3 362.4 589.0 360.3 589.6 359.2C590.3 358.1 591.0 356.5 591.7 355.8C592.4 355.0 593.0 354.1 593.7 354.1C594.4 354.1 595.1 354.5 595.8 354.9C596.4 355.2 597.1 355.6 597.8 356.3C598.5 356.9 599.2 358.5 599.8 359.5C600.5 360.6 601.2 362.6 601.9 362.7C602.6 362.8 603.2 362.9 603.9 362.9C604.6 362.9 605.3 361.6 606.0 361.6C606.6 361.5 607.3 361.5 608.0 361.5C608.7 361.4 609.4 361.1 610.0 361.1C610.7 361.1 611.4 362.0 612.1 362.9C612.8 363.8 613.4 367.6 614.1 368.0C614.8 368.4 615.5 368.7 616.2 368.7C616.8 368.7 617.5 365.8 618.2 365.0C618.9 364.2 619.6 363.1 620.2 363.1C620.9 363.1 621.6 363.4 622.3 363.6C623.0 363.9 623.6 365.8 624.3 365.9C625.0 366.0 625.7 366.0 626.4 366.0C627.0 366.0 627.7 363.8 628.4 363.2C629.1 362.6 629.8 362.2 630.4 361.8C631.1 361.3 631.8 361.0 632.5 360.4C633.2 359.8 633.8 358.0 634.5 357.7C635.2 357.4 635.9 357.3 636.6 357.1C637.2 356.9 637.9 356.5 638.6 356.5C639.3 356.5 640.0 356.6 640.6 356.8C641.3 356.9 642.0 360.8 642.7 361.2C643.4 361.6 644.0 361.9 644.7 361.9C645.4 361.9 646.1 360.1 646.8 359.2C647.4 358.3 648.1 357.8 648.8 356.5C649.6 354.8 650.5 346.2 651.3 346.2C651.8 346.2 652.4 354.2 652.9 354.2C653.6 354.2 654.3 352.4 655.0 352.4C655.7 352.4 656.3 359.3 657.0 359.3C658.0 359.3 659.0 353.1 660.0 353.1C661.0 353.1 662.1 360.1 663.1 360.1C664.1 360.1 665.0 344.1 666.0 344.1C666.4 344.1 666.8 347.2 667.2 348.5C667.8 350.9 668.5 354.9 669.2 354.9C669.8 354.9 670.4 349.3 671.0 349.3C671.8 349.3 672.5 354.9 673.3 355.3C674.0 355.7 674.6 355.6 675.3 356.0C676.0 356.3 676.7 358.0 677.4 359.0C678.0 360.1 678.7 362.4 679.4 362.4C680.1 362.4 680.8 362.1 681.4 361.9C682.1 361.6 682.8 360.8 683.5 360.1C684.2 359.4 684.8 358.4 685.5 357.4C686.2 356.3 686.9 354.0 687.6 354.0C688.2 354.0 688.9 354.6 689.6 355.4C690.3 356.1 691.0 360.2 691.6 361.5C692.3 362.8 693.0 364.4 693.7 364.4C694.4 364.4 695.0 362.9 695.7 362.5C696.4 362.0 697.1 361.5 697.8 361.5C698.4 361.5 699.1 363.1 699.8 363.8C700.5 364.5 701.2 365.5 701.8 365.5C702.5 365.5 703.2 363.3 703.9 362.6C704.6 361.8 705.2 361.2 705.9 360.9C706.6 360.6 707.3 360.7 708.0 360.4C708.6 360.1 709.3 359.3 710.0 358.7C710.7 358.2 711.4 356.9 712.0 356.9C712.7 356.9 713.4 357.9 714.1 358.7C714.8 359.4 715.4 361.7 716.1 362.4C716.8 363.0 717.5 363.4 718.2 363.6C718.8 363.9 719.5 363.9 720.2 364.1C720.9 364.4 721.6 365.7 722.2 365.7C722.9 365.7 723.6 365.6 724.3 365.5C725.0 365.3 725.6 362.0 726.3 361.1C727.0 360.3 727.7 359.3 728.4 359.3C729.0 359.3 729.7 360.0 730.4 360.0C731.1 360.0 731.8 358.7 732.4 358.7C733.1 358.7 733.8 358.9 734.5 359.0C735.2 359.2 735.8 359.3 736.5 359.6C737.2 359.9 737.9 360.8 738.6 361.5C739.2 362.1 739.9 363.3 740.6 363.4C741.3 363.6 742.0 363.7 742.6 363.7C743.3 363.7 744.0 363.0 744.7 363.0C745.4 363.0 746.0 364.0 746.7 364.0C747.4 364.0 748.1 362.8 748.8 361.8C749.4 360.8 750.1 357.5 750.8 356.8C751.5 356.2 752.2 355.6 752.8 355.6C753.5 355.6 754.2 357.8 754.9 359.2C755.6 360.6 756.2 364.2 756.9 364.5C757.6 364.8 758.3 365.0 759.0 365.0C759.6 365.0 760.3 360.8 761.0 359.8C761.7 358.8 762.4 357.6 763.0 357.6C763.7 357.6 764.4 358.8 765.1 359.3C765.8 359.8 766.4 360.5 767.1 360.5C767.8 360.5 768.5 359.5 769.2 359.4C769.8 359.3 770.5 359.3 771.2 359.3C771.9 359.3 772.6 360.3 773.2 360.8C773.9 361.2 774.6 361.5 775.3 362.0C776.0 362.6 776.6 363.5 777.3 364.2C778.0 364.8 778.7 365.9 779.4 365.9C780.0 365.9 780.7 364.4 781.4 363.6C782.1 362.9 782.8 361.5 783.4 361.5C784.1 361.5 784.8 362.4 785.5 362.7C786.2 363.0 786.8 363.3 787.5 363.3C788.2 363.3 788.9 362.4 789.6 361.7C790.2 360.9 790.9 359.0 791.6 358.1C792.3 357.2 793.0 355.8 793.6 355.8C794.3 355.8 795.0 357.8 795.7 358.4C796.4 359.0 797.0 359.7 797.7 359.7C798.4 359.8 799.1 359.8 799.8 359.8C800.4 359.8 801.1 358.7 801.8 358.7C802.5 358.7 803.2 358.7 803.8 358.7C804.5 358.8 805.2 359.7 805.9 359.7C806.6 359.7 807.2 358.8 807.9 358.4C808.6 357.9 809.3 356.7 810.0 356.7C810.6 356.7 811.3 360.3 812.0 361.5C812.7 362.7 813.4 364.3 814.0 364.3C814.7 364.3 815.4 361.3 816.1 360.3C816.8 359.4 817.4 358.7 818.1 358.2C818.8 357.7 819.5 357.5 820.2 357.0C820.8 356.5 821.5 355.1 822.2 355.1C822.9 355.1 823.6 355.4 824.2 355.8C824.9 356.3 825.6 359.8 826.3 361.1C827.0 362.3 827.6 363.9 828.3 363.9C829.0 363.9 829.7 363.2 830.4 363.0C831.0 362.9 831.7 362.9 832.4 362.8C833.1 362.7 833.8 362.5 834.4 362.1C835.1 361.7 835.8 358.7 836.5 358.3C837.2 357.9 837.8 357.6 838.5 357.6C839.2 357.6 839.9 359.9 840.6 361.0C841.2 362.0 841.9 363.2 842.6 363.9C843.3 364.5 844.0 365.1 844.6 365.4C845.3 365.7 846.0 366.0 846.7 366.0C847.4 366.0 848.0 362.9 848.7 362.8C849.4 362.6 850.1 362.5 850.8 362.5C851.4 362.5 852.1 364.1 852.8 365.0C853.5 365.8 854.2 367.5 854.8 367.5C855.5 367.5 856.2 367.1 856.9 367.1C857.6 367.1 858.2 367.4 858.9 367.4C859.6 367.4 860.3 366.8 861.0 366.8C861.6 366.8 862.3 367.4 863.0 367.4C863.7 367.4 864.4 367.3 865.0 367.2C865.7 367.1 866.4 366.3 867.1 366.0C867.8 365.7 868.4 365.4 869.1 365.3C869.8 365.3 870.5 365.3 871.2 365.3C871.8 365.2 872.5 363.3 873.2 362.8C873.9 362.2 874.6 361.5 875.2 361.5C875.9 361.5 876.6 363.9 877.3 364.6C878.0 365.2 878.6 366.0 879.3 366.0C880.0 366.0 880.7 364.3 881.4 363.3C882.0 362.3 882.7 360.3 883.4 360.0C884.1 359.8 884.8 359.7 885.4 359.6C886.1 359.5 886.8 359.6 887.5 359.5C888.2 359.4 888.8 357.9 889.5 357.6C890.2 357.2 890.9 356.9 891.6 356.9C892.2 356.9 892.9 357.6 893.6 357.6C894.3 357.6 895.0 357.2 895.6 356.9C896.3 356.6 897.0 355.8 897.7 355.8C898.4 355.8 899.0 356.3 899.7 356.3C900.4 356.3 901.1 356.3 901.8 356.2C902.4 356.2 903.1 355.5 903.8 355.3C904.5 355.0 905.2 354.7 905.8 354.7C906.5 354.6 907.2 354.5 907.9 354.5C908.6 354.5 909.2 355.4 909.9 356.3C910.6 357.1 911.3 359.5 912.0 361.1C912.6 362.6 913.3 365.7 914.0 365.7C914.7 365.7 915.4 365.4 916.0 365.1C916.7 364.7 917.4 362.4 918.1 362.0C918.8 361.6 919.4 361.2 920.1 361.2C920.8 361.2 921.5 362.7 922.2 362.7C922.8 362.7 923.5 362.5 924.2 362.3C924.9 362.2 925.6 361.3 926.2 361.2C926.9 361.1 927.6 361.1 928.3 361.1C929.0 361.0 929.6 360.9 930.3 360.7C931.0 360.5 931.7 359.1 932.4 359.1C933.0 359.1 933.7 359.5 934.4 360.1C935.1 360.6 935.8 362.8 936.4 364.3C937.1 365.8 937.8 368.2 938.5 369.1C939.2 370.0 939.8 370.9 940.5 370.9C941.2 370.9 941.9 368.1 942.6 366.8C943.2 365.6 943.9 363.2 944.6 363.2C945.3 363.2 946.0 365.2 946.6 365.5C947.3 365.9 948.0 366.2 948.7 366.2C949.4 366.2 950.0 360.9 950.7 360.9C951.4 360.9 952.1 361.4 952.8 361.9C953.4 362.5 954.1 365.6 954.8 365.6C955.5 365.6 956.2 364.5 956.8 364.2C957.5 363.8 958.2 363.4 958.9 363.4C959.6 363.4 960.2 368.0 960.9 368.6C961.6 369.3 962.3 369.8 963.0 369.8C963.6 369.8 964.3 366.6 965.0 365.1C965.7 363.6 966.4 360.7 967.0 360.7C967.7 360.7 968.4 361.5 969.1 361.9C969.8 362.4 970.4 363.4 971.1 363.4C971.8 363.4 972.5 361.5 973.2 361.3C973.8 361.0 974.5 360.8 975.2 360.8C975.9 360.8 976.6 364.0 977.2 364.2C977.9 364.4 978.6 364.6 979.3 364.6C980.0 364.6 980.6 361.5 981.3 361.0C982.0 360.4 982.7 360.0 983.4 360.0C984.0 360.0 984.7 362.4 985.4 363.7C986.1 365.0 986.8 367.8 987.4 367.8C988.1 367.8 988.8 367.8 989.5 367.7C990.2 367.6 990.8 365.3 991.5 364.1C992.2 362.9 992.9 360.6 993.6 360.3C994.2 360.0 994.9 359.9 995.6 359.9C996.3 359.8 997.0 359.8 997.6 359.8C998.3 359.7 999.0 356.8 999.7 356.1C1000.4 355.4 1001.0 354.7 1001.7 354.7C1002.4 354.7 1003.1 356.8 1003.8 356.8C1004.4 356.8 1005.1 356.8 1005.8 356.8C1006.5 356.8 1007.2 354.3 1007.8 354.3C1008.5 354.3 1009.2 354.6 1009.9 355.1C1010.6 355.6 1011.2 358.7 1011.9 360.8C1012.6 363.0 1013.3 366.9 1014.0 368.5C1014.6 370.1 1015.3 372.0 1016.0 372.0C1016.7 372.0 1017.4 369.5 1018.0 368.5C1018.7 367.5 1019.4 365.9 1020.1 365.7C1020.8 365.5 1021.4 365.3 1022.1 365.3C1022.8 365.3 1023.5 365.7 1024.2 366.1C1024.8 366.4 1025.5 366.9 1026.2 368.0C1027.2 369.5 1028.1 385.0 1029.1 385.0C1029.5 385.0 1029.9 380.0 1030.3 376.6C1031.0 370.6 1031.6 355.7 1032.3 351.5C1032.8 348.7 1033.2 345.6 1033.7 345.6C1034.6 345.6 1035.5 355.1 1036.4 361.0C1037.1 365.6 1037.8 372.4 1038.4 376.9C1039.0 380.3 1039.5 385.8 1040.0 385.8C1040.8 385.8 1041.7 381.4 1042.5 381.4C1042.9 381.4 1043.3 389.4 1043.7 389.4C1044.7 389.4 1045.6 373.9 1046.6 370.6C1047.3 368.3 1048.0 367.6 1048.6 365.8C1049.3 364.0 1050.0 360.5 1050.7 359.9C1051.4 359.4 1052.0 358.9 1052.7 358.9C1053.4 358.9 1054.1 361.3 1054.8 362.2C1055.4 363.0 1056.1 364.3 1056.8 364.3C1057.5 364.3 1058.2 364.1 1058.8 363.8C1059.5 363.5 1060.2 362.3 1060.9 362.3C1061.6 362.3 1062.2 363.1 1062.9 363.8C1063.6 364.4 1064.3 366.4 1065.0 366.8C1065.6 367.2 1066.3 367.6 1067.0 367.6C1067.7 367.6 1068.4 364.7 1069.0 363.1C1069.7 361.4 1070.4 359.3 1071.1 357.8C1071.8 356.4 1072.4 355.0 1073.1 354.2C1073.8 353.4 1074.5 353.1 1075.2 352.4C1075.8 351.7 1076.5 349.6 1077.2 349.6C1077.9 349.6 1078.6 351.3 1079.2 352.5C1079.9 353.7 1080.6 356.0 1081.3 357.2C1082.0 358.4 1082.6 359.0 1083.3 360.0C1084.0 361.1 1084.7 361.8 1085.4 363.7C1086.2 366.1 1087.1 380.2 1088.0 380.2C1088.5 380.2 1089.0 376.4 1089.4 374.3C1090.1 371.3 1090.8 365.3 1091.5 364.6C1092.2 363.9 1092.8 363.6 1093.5 363.4C1094.2 363.2 1094.9 363.3 1095.6 363.1C1096.2 362.9 1096.9 362.1 1097.6 361.9C1098.3 361.7 1099.0 361.4 1099.6 361.4C1100.3 361.4 1101.0 362.2 1101.7 362.2C1102.4 362.2 1103.0 361.1 1103.7 360.5C1104.4 359.9 1105.1 358.7 1105.8 358.7C1106.4 358.7 1107.1 359.0 1107.8 359.5C1108.5 359.9 1109.2 364.6 1109.8 364.6C1110.5 364.6 1111.2 364.5 1111.9 364.4C1112.6 364.2 1113.2 361.0 1113.9 359.4C1114.6 357.8 1115.3 354.9 1116.0 354.8C1116.6 354.7 1117.3 354.7 1118.0 354.7C1118.7 354.7 1119.4 357.5 1120.0 358.4C1120.7 359.3 1121.4 360.7 1122.1 360.7C1122.8 360.7 1123.4 359.3 1124.1 358.7C1124.8 358.1 1125.5 357.0 1126.2 357.0C1126.8 357.0 1127.5 360.4 1128.2 362.1C1128.9 363.8 1129.6 366.3 1130.2 367.1C1130.9 368.0 1131.6 368.8 1132.3 368.8C1133.0 368.8 1133.6 366.0 1134.3 366.0C1135.0 366.0 1135.7 366.7 1136.4 367.2C1137.0 367.8 1137.7 368.6 1138.4 369.3C1139.1 370.0 1139.8 371.3 1140.4 371.3C1141.1 371.3 1141.8 369.3 1142.5 368.8C1143.2 368.3 1143.8 368.3 1144.5 367.8C1145.2 367.3 1145.9 365.6 1146.6 364.4C1147.2 363.2 1147.9 361.8 1148.6 360.6C1149.3 359.5 1150.0 358.3 1150.6 357.3C1151.3 356.3 1152.0 355.4 1152.7 354.7C1153.4 354.0 1154.0 353.0 1154.7 353.0C1155.4 353.0 1156.1 356.9 1156.8 357.7C1157.4 358.6 1158.1 359.5 1158.8 359.5C1159.5 359.5 1160.2 359.3 1160.8 359.3C1161.5 359.3 1162.2 360.4 1162.9 361.3C1163.6 362.3 1164.2 365.5 1164.9 365.9C1165.6 366.4 1166.3 366.7 1167.0 366.7C1167.6 366.7 1168.3 365.1 1169.0 363.7C1169.7 362.4 1170.4 358.2 1171.0 357.5C1171.7 356.8 1172.4 356.2 1173.1 356.2C1173.8 356.2 1174.4 359.2 1175.1 360.4C1175.8 361.6 1176.5 363.4 1177.2 363.4C1177.8 363.4 1178.5 362.1 1179.2 361.2C1179.9 360.2 1180.6 357.1 1181.2 357.1C1181.9 357.1 1182.6 357.2 1183.3 357.2C1184.0 357.2 1184.6 357.1 1185.3 357.0C1186.0 357.0 1186.7 357.0 1187.4 356.8C1188.2 356.7 1189.1 353.5 1190.0 353.5C1190.5 353.5 1191.0 359.9 1191.4 362.1C1192.1 365.3 1192.8 368.7 1193.5 369.9C1194.2 371.1 1194.8 372.3 1195.5 372.3C1196.2 372.3 1196.9 371.7 1197.6 371.3C1198.2 370.8 1198.9 369.6 1199.6 368.9C1200.3 368.2 1201.0 367.1 1201.6 366.9C1202.3 366.6 1203.0 366.7 1203.7 366.4C1204.4 366.2 1205.0 363.4 1205.7 363.4C1206.4 363.4 1207.1 363.6 1207.8 363.9C1208.4 364.2 1209.1 367.2 1209.8 368.7C1210.5 370.3 1211.2 373.3 1211.8 373.3C1212.5 373.3 1213.2 370.6 1213.9 368.6C1214.6 366.6 1215.2 360.6 1215.9 360.6C1216.6 360.6 1217.3 361.0 1218.0 361.6C1218.6 362.3 1219.3 369.5 1220.0 370.3C1220.7 371.1 1221.4 371.7 1222.0 371.7C1222.7 371.7 1223.4 371.3 1224.1 370.8C1224.8 370.3 1225.4 368.2 1226.1 366.2C1226.6 364.8 1227.1 360.7 1227.6 360.7C1228.5 360.7 1229.3 364.6 1230.2 367.0C1230.6 368.2 1231.1 371.1 1231.5 371.1C1232.7 371.1 1233.8 345.6 1235.0 345.6C1235.4 345.6 1235.9 346.2 1236.3 347.0C1237.0 348.1 1237.7 354.9 1238.4 358.7C1238.9 361.9 1239.5 368.0 1240.0 368.0C1241.2 368.0 1242.3 356.2 1243.5 356.2C1244.5 356.2 1245.5 360.9 1246.5 363.7C1247.5 366.3 1248.4 372.7 1249.4 372.7C1249.8 372.7 1250.2 367.8 1250.6 365.2C1251.3 360.6 1252.0 350.8 1252.7 350.8C1253.5 350.8 1254.2 370.3 1255.0 370.3C1255.8 370.3 1256.6 322.8 1257.4 322.8C1257.9 322.8 1258.3 352.5 1258.8 366.8C1259.3 384.0 1259.9 417.0 1260.4 417.0C1261.2 417.0 1262.0 326.4 1262.8 281.5C1263.2 260.2 1263.6 217.8 1264.0 217.8C1265.2 217.8 1266.3 482.0 1267.5 482.0C1268.0 482.0 1268.5 446.5 1269.0 428.3C1269.5 409.1 1270.0 377.7 1270.5 369.5C1271.3 355.9 1272.2 352.3 1273.0 345.2C1273.4 341.9 1273.8 336.3 1274.2 336.3C1275.5 336.3 1276.7 366.0 1278.0 366.0C1278.4 366.0 1278.8 360.8 1279.2 359.2C1279.8 356.4 1280.5 352.9 1281.2 352.9C1281.9 352.9 1282.6 353.0 1283.2 353.0C1283.9 353.1 1284.6 354.7 1285.3 354.7C1286.0 354.7 1286.6 351.4 1287.3 349.1C1288.0 346.8 1288.6 339.6 1289.3 339.6C1290.0 339.6 1290.7 352.9 1291.4 359.7C1291.9 364.8 1292.5 375.3 1293.0 375.3C1293.8 375.3 1294.7 371.9 1295.5 370.5C1296.2 369.2 1296.8 368.2 1297.5 367.1C1298.2 365.9 1298.9 364.5 1299.6 363.6C1300.2 362.7 1300.9 362.6 1301.6 361.4C1302.5 359.8 1303.5 341.2 1304.4 341.2C1304.8 341.2 1305.3 347.6 1305.7 351.1C1306.4 356.8 1307.0 364.6 1307.7 369.5C1308.5 375.1 1309.2 383.4 1310.0 383.4C1310.6 383.4 1311.2 372.9 1311.8 369.1C1312.5 364.8 1313.2 358.5 1313.8 358.5C1314.5 358.5 1315.2 365.9 1315.9 365.9C1316.6 365.9 1317.2 362.8 1317.9 360.0C1318.6 357.3 1319.3 345.9 1320.0 345.9C1320.7 345.9 1321.3 354.8 1322.0 358.8C1322.7 362.8 1323.4 368.8 1324.0 370.1C1324.7 371.4 1325.4 372.0 1326.1 372.4C1326.8 372.8 1327.4 373.3 1328.1 373.3C1328.8 373.3 1329.5 370.3 1330.2 369.7C1330.8 369.0 1331.5 368.3 1332.2 368.3C1332.9 368.3 1333.6 372.5 1334.2 372.5C1334.9 372.5 1335.6 371.4 1336.3 370.2C1337.0 368.9 1337.6 362.3 1338.3 360.9C1339.0 359.4 1339.7 357.9 1340.4 357.9C1341.0 357.9 1341.7 360.3 1342.4 361.8C1343.1 363.4 1343.8 367.4 1344.4 367.6C1345.1 367.8 1345.8 368.0 1346.5 368.0C1347.2 368.0 1347.8 363.0 1348.5 360.9C1349.2 358.8 1349.9 355.1 1350.6 355.1C1351.2 355.1 1351.9 357.6 1352.6 359.4C1353.3 361.2 1354.0 364.8 1354.6 366.4C1355.3 367.9 1356.0 369.8 1356.7 369.9C1357.4 370.0 1358.0 370.0 1358.7 370.0C1359.4 370.0 1360.1 366.5 1360.8 364.7C1361.4 362.9 1362.1 360.4 1362.8 359.0C1363.5 357.6 1364.2 355.6 1364.8 355.6C1365.5 355.6 1366.2 358.4 1366.9 359.5C1367.6 360.6 1368.2 362.0 1368.9 362.3C1369.6 362.6 1370.3 362.9 1371.0 362.9C1371.6 362.9 1372.3 362.1 1373.0 360.9C1374.0 359.3 1375.0 331.3 1376.0 331.3C1377.0 331.3 1378.1 359.9 1379.1 369.0C1379.9 375.7 1380.6 385.0 1381.4 385.0C1382.0 385.0 1382.6 374.9 1383.2 370.8C1383.9 366.1 1384.6 358.5 1385.2 358.4C1385.9 358.4 1386.6 358.4 1387.3 358.3C1388.0 358.2 1388.6 357.6 1389.3 356.9C1390.0 356.2 1390.7 353.0 1391.4 351.8C1392.0 350.6 1392.7 349.0 1393.4 349.0C1394.1 349.0 1394.8 354.8 1395.4 356.2C1396.1 357.7 1396.8 359.3 1397.5 359.3C1398.2 359.3 1398.8 356.2 1399.5 356.2C1400.2 356.2 1400.9 356.5 1401.6 357.0C1402.2 357.4 1402.9 365.3 1403.6 365.3C1404.3 365.3 1405.0 365.1 1405.6 364.9C1406.3 364.7 1407.0 360.3 1407.7 358.5C1408.4 356.6 1409.0 353.7 1409.7 353.7C1410.4 353.7 1411.1 355.2 1411.8 356.4C1412.4 357.5 1413.1 360.0 1413.8 361.5C1414.5 363.0 1415.2 364.2 1415.8 365.5" stroke="#ff0032"/>
</g>
<g shape-rendering="crispEdges"><path d="M39 60.5H1414 M40.5 60V669" stroke="#000" stroke-width="1" fill="none"/></g>
<text x="716.5" y="30.5" font-size="22.9" fill="#000" text-anchor="middle" font-family="Liberation Sans, sans-serif" textLength="442.0" lengthAdjust="spacingAndGlyphs">Réponses impulsionnelles après calibrage</text>
<text x="727.2" y="84.8" font-size="24.2" fill="#fff" text-anchor="middle" font-family="Liberation Sans, sans-serif" textLength="207.0" lengthAdjust="spacingAndGlyphs" font-weight="bold" stroke="#fff" stroke-width="2.6" stroke-linejoin="round">Impulse Response</text>
<text x="727.2" y="84.8" font-size="24.2" fill="#3c3c3c" text-anchor="middle" font-family="Liberation Sans, sans-serif" textLength="207.0" lengthAdjust="spacingAndGlyphs" font-weight="bold" stroke="#3c3c3c" stroke-width="0.45">Impulse Response</text>
<text x="38.4" y="643.0" font-size="12" fill="#1e1e1e" text-anchor="end" font-family="Liberation Sans, sans-serif" textLength="22.7" lengthAdjust="spacingAndGlyphs">-100</text>
<text x="38.4" y="616.0" font-size="12" fill="#7d7d7d" text-anchor="end" font-family="Liberation Sans, sans-serif" textLength="16.8" lengthAdjust="spacingAndGlyphs">-90</text>
<text x="38.4" y="588.0" font-size="12" fill="#1e1e1e" text-anchor="end" font-family="Liberation Sans, sans-serif" textLength="16.8" lengthAdjust="spacingAndGlyphs">-80</text>
<text x="38.4" y="561.0" font-size="12" fill="#7d7d7d" text-anchor="end" font-family="Liberation Sans, sans-serif" textLength="16.8" lengthAdjust="spacingAndGlyphs">-70</text>
<text x="38.4" y="533.0" font-size="12" fill="#1e1e1e" text-anchor="end" font-family="Liberation Sans, sans-serif" textLength="16.8" lengthAdjust="spacingAndGlyphs">-60</text>
<text x="38.4" y="506.0" font-size="12" fill="#7d7d7d" text-anchor="end" font-family="Liberation Sans, sans-serif" textLength="16.8" lengthAdjust="spacingAndGlyphs">-50</text>
<text x="38.4" y="478.0" font-size="12" fill="#1e1e1e" text-anchor="end" font-family="Liberation Sans, sans-serif" textLength="16.8" lengthAdjust="spacingAndGlyphs">-40</text>
<text x="38.4" y="451.0" font-size="12" fill="#7d7d7d" text-anchor="end" font-family="Liberation Sans, sans-serif" textLength="16.8" lengthAdjust="spacingAndGlyphs">-30</text>
<text x="38.4" y="423.0" font-size="12" fill="#1e1e1e" text-anchor="end" font-family="Liberation Sans, sans-serif" textLength="16.8" lengthAdjust="spacingAndGlyphs">-20</text>
<text x="38.4" y="396.0" font-size="12" fill="#7d7d7d" text-anchor="end" font-family="Liberation Sans, sans-serif" textLength="16.8" lengthAdjust="spacingAndGlyphs">-10</text>
<text x="38.4" y="368.0" font-size="12" fill="#1e1e1e" text-anchor="end" font-family="Liberation Sans, sans-serif" textLength="5.9" lengthAdjust="spacingAndGlyphs">0</text>
<text x="38.4" y="340.0" font-size="12" fill="#7d7d7d" text-anchor="end" font-family="Liberation Sans, sans-serif" textLength="11.8" lengthAdjust="spacingAndGlyphs">10</text>
<text x="38.4" y="313.0" font-size="12" fill="#1e1e1e" text-anchor="end" font-family="Liberation Sans, sans-serif" textLength="11.8" lengthAdjust="spacingAndGlyphs">20</text>
<text x="38.4" y="285.0" font-size="12" fill="#7d7d7d" text-anchor="end" font-family="Liberation Sans, sans-serif" textLength="11.8" lengthAdjust="spacingAndGlyphs">30</text>
<text x="38.4" y="258.0" font-size="12" fill="#1e1e1e" text-anchor="end" font-family="Liberation Sans, sans-serif" textLength="11.8" lengthAdjust="spacingAndGlyphs">40</text>
<text x="38.4" y="230.0" font-size="12" fill="#7d7d7d" text-anchor="end" font-family="Liberation Sans, sans-serif" textLength="11.8" lengthAdjust="spacingAndGlyphs">50</text>
<text x="38.4" y="203.0" font-size="12" fill="#1e1e1e" text-anchor="end" font-family="Liberation Sans, sans-serif" textLength="11.8" lengthAdjust="spacingAndGlyphs">60</text>
<text x="38.4" y="175.0" font-size="12" fill="#7d7d7d" text-anchor="end" font-family="Liberation Sans, sans-serif" textLength="11.8" lengthAdjust="spacingAndGlyphs">70</text>
<text x="38.4" y="148.0" font-size="12" fill="#1e1e1e" text-anchor="end" font-family="Liberation Sans, sans-serif" textLength="11.8" lengthAdjust="spacingAndGlyphs">80</text>
<text x="38.4" y="120.0" font-size="12" fill="#7d7d7d" text-anchor="end" font-family="Liberation Sans, sans-serif" textLength="11.8" lengthAdjust="spacingAndGlyphs">90</text>
<text x="38.4" y="93.0" font-size="12" fill="#1e1e1e" text-anchor="end" font-family="Liberation Sans, sans-serif" textLength="17.7" lengthAdjust="spacingAndGlyphs">100</text>
<text x="28.0" y="54.1" font-size="12" fill="#1e1e1e" text-anchor="start" font-family="Liberation Sans, sans-serif" textLength="10.5" lengthAdjust="spacingAndGlyphs">%</text>
<rect x="6.5" y="52.5" width="32" height="16" fill="#fff" stroke="#0000ff" stroke-width="1" shape-rendering="crispEdges"/>
<text x="9.8" y="65.9" font-size="12" fill="#0000ff" text-anchor="start" font-family="Liberation Sans, sans-serif" textLength="26.6" lengthAdjust="spacingAndGlyphs">110,0</text>
<text x="117.8" y="683.2" font-size="12" fill="#1e1e1e" text-anchor="middle" font-family="Liberation Sans, sans-serif" textLength="30.2" lengthAdjust="spacingAndGlyphs">-2,5m</text>
<text x="166.8" y="683.2" font-size="12" fill="#1e1e1e" text-anchor="middle" font-family="Liberation Sans, sans-serif" textLength="30.2" lengthAdjust="spacingAndGlyphs">-2,0m</text>
<text x="215.8" y="683.2" font-size="12" fill="#1e1e1e" text-anchor="middle" font-family="Liberation Sans, sans-serif" textLength="30.2" lengthAdjust="spacingAndGlyphs">-1,5m</text>
<text x="264.8" y="683.2" font-size="12" fill="#1e1e1e" text-anchor="middle" font-family="Liberation Sans, sans-serif" textLength="30.2" lengthAdjust="spacingAndGlyphs">-1,0m</text>
<text x="313.8" y="683.2" font-size="12" fill="#1e1e1e" text-anchor="middle" font-family="Liberation Sans, sans-serif" textLength="30.6" lengthAdjust="spacingAndGlyphs">-500u</text>
<text x="362.8" y="683.2" font-size="12" fill="#1e1e1e" text-anchor="middle" font-family="Liberation Sans, sans-serif" textLength="13.1" lengthAdjust="spacingAndGlyphs">0u</text>
<text x="411.8" y="683.2" font-size="12" fill="#1e1e1e" text-anchor="middle" font-family="Liberation Sans, sans-serif" textLength="25.9" lengthAdjust="spacingAndGlyphs">500u</text>
<text x="460.8" y="683.2" font-size="12" fill="#1e1e1e" text-anchor="middle" font-family="Liberation Sans, sans-serif" textLength="25.6" lengthAdjust="spacingAndGlyphs">1,0m</text>
<text x="509.8" y="683.2" font-size="12" fill="#1e1e1e" text-anchor="middle" font-family="Liberation Sans, sans-serif" textLength="25.6" lengthAdjust="spacingAndGlyphs">1,5m</text>
<text x="557.8" y="683.2" font-size="12" fill="#1e1e1e" text-anchor="middle" font-family="Liberation Sans, sans-serif" textLength="25.6" lengthAdjust="spacingAndGlyphs">2,0m</text>
<text x="606.8" y="683.2" font-size="12" fill="#1e1e1e" text-anchor="middle" font-family="Liberation Sans, sans-serif" textLength="25.6" lengthAdjust="spacingAndGlyphs">2,5m</text>
<text x="655.8" y="683.2" font-size="12" fill="#1e1e1e" text-anchor="middle" font-family="Liberation Sans, sans-serif" textLength="25.6" lengthAdjust="spacingAndGlyphs">3,0m</text>
<text x="704.8" y="683.2" font-size="12" fill="#1e1e1e" text-anchor="middle" font-family="Liberation Sans, sans-serif" textLength="25.6" lengthAdjust="spacingAndGlyphs">3,5m</text>
<text x="753.8" y="683.2" font-size="12" fill="#1e1e1e" text-anchor="middle" font-family="Liberation Sans, sans-serif" textLength="25.6" lengthAdjust="spacingAndGlyphs">4,0m</text>
<text x="802.8" y="683.2" font-size="12" fill="#1e1e1e" text-anchor="middle" font-family="Liberation Sans, sans-serif" textLength="25.6" lengthAdjust="spacingAndGlyphs">4,5m</text>
<text x="851.8" y="683.2" font-size="12" fill="#1e1e1e" text-anchor="middle" font-family="Liberation Sans, sans-serif" textLength="25.6" lengthAdjust="spacingAndGlyphs">5,0m</text>
<text x="900.8" y="683.2" font-size="12" fill="#1e1e1e" text-anchor="middle" font-family="Liberation Sans, sans-serif" textLength="25.6" lengthAdjust="spacingAndGlyphs">5,5m</text>
<text x="949.8" y="683.2" font-size="12" fill="#1e1e1e" text-anchor="middle" font-family="Liberation Sans, sans-serif" textLength="25.6" lengthAdjust="spacingAndGlyphs">6,0m</text>
<text x="998.8" y="683.2" font-size="12" fill="#1e1e1e" text-anchor="middle" font-family="Liberation Sans, sans-serif" textLength="25.6" lengthAdjust="spacingAndGlyphs">6,5m</text>
<text x="1047.8" y="683.2" font-size="12" fill="#1e1e1e" text-anchor="middle" font-family="Liberation Sans, sans-serif" textLength="25.6" lengthAdjust="spacingAndGlyphs">7,0m</text>
<text x="1096.8" y="683.2" font-size="12" fill="#1e1e1e" text-anchor="middle" font-family="Liberation Sans, sans-serif" textLength="25.6" lengthAdjust="spacingAndGlyphs">7,5m</text>
<text x="1145.8" y="683.2" font-size="12" fill="#1e1e1e" text-anchor="middle" font-family="Liberation Sans, sans-serif" textLength="25.6" lengthAdjust="spacingAndGlyphs">8,0m</text>
<text x="1194.8" y="683.2" font-size="12" fill="#1e1e1e" text-anchor="middle" font-family="Liberation Sans, sans-serif" textLength="25.6" lengthAdjust="spacingAndGlyphs">8,5m</text>
<text x="1242.8" y="683.2" font-size="12" fill="#1e1e1e" text-anchor="middle" font-family="Liberation Sans, sans-serif" textLength="25.6" lengthAdjust="spacingAndGlyphs">9,0m</text>
<text x="1291.8" y="683.2" font-size="12" fill="#1e1e1e" text-anchor="middle" font-family="Liberation Sans, sans-serif" textLength="25.6" lengthAdjust="spacingAndGlyphs">9,5m</text>
<text x="1340.8" y="683.2" font-size="12" fill="#1e1e1e" text-anchor="middle" font-family="Liberation Sans, sans-serif" textLength="32.1" lengthAdjust="spacingAndGlyphs">10,0m</text>
<text x="1392.3" y="683.2" font-size="12" fill="#1e1e1e" text-anchor="middle" font-family="Liberation Sans, sans-serif" textLength="38.4" lengthAdjust="spacingAndGlyphs">10,5ms</text>
<rect x="19.5" y="669.5" width="41" height="16" fill="#fff" stroke="#0000ff" stroke-width="1" shape-rendering="crispEdges"/>
<text x="22.6" y="683.0" font-size="12" fill="#0000ff" text-anchor="start" font-family="Liberation Sans, sans-serif" textLength="36.4" lengthAdjust="spacingAndGlyphs">-3,29m</text>
<rect x="8.5" y="698.5" width="13" height="13" rx="3" ry="3" fill="#fff" stroke="#1478ff" stroke-width="1.1"/>
<path d="M10.90 705.20L13.50 708.30L18.60 701.10" fill="none" stroke="#1478ff" stroke-width="1.85" stroke-linejoin="miter"/>
<text x="28.4" y="710.0" font-size="12" fill="#4a3cd2" text-anchor="start" font-family="Liberation Sans, sans-serif" textLength="60.2" lengthAdjust="spacingAndGlyphs">3: L août 12</text>
<rect x="192.0" y="705.0" width="51" height="2" fill="#4646d2" shape-rendering="crispEdges"/>
<text x="327.3" y="710.0" font-size="12" fill="#4a3cd2" text-anchor="end" font-family="Liberation Sans, sans-serif" textLength="28.0" lengthAdjust="spacingAndGlyphs">0,3 %</text>
<rect x="365.5" y="698.5" width="13" height="13" rx="3" ry="3" fill="#fff" stroke="#1478ff" stroke-width="1.1"/>
<path d="M367.90 705.20L370.50 708.30L375.60 701.10" fill="none" stroke="#1478ff" stroke-width="1.85" stroke-linejoin="miter"/>
<text x="385.4" y="710.0" font-size="12" fill="#e6780a" text-anchor="start" font-family="Liberation Sans, sans-serif" textLength="60.7" lengthAdjust="spacingAndGlyphs">4: R août 12</text>
<rect x="549.0" y="705.0" width="51" height="2" fill="#e6780a" shape-rendering="crispEdges"/>
<text x="684.3" y="710.0" font-size="12" fill="#e6780a" text-anchor="end" font-family="Liberation Sans, sans-serif" textLength="28.0" lengthAdjust="spacingAndGlyphs">0,2 %</text>
<rect x="722.5" y="698.5" width="13" height="13" rx="3" ry="3" fill="#fff" stroke="#1478ff" stroke-width="1.1"/>
<path d="M724.90 705.20L727.50 708.30L732.60 701.10" fill="none" stroke="#1478ff" stroke-width="1.85" stroke-linejoin="miter"/>
<text x="742.4" y="710.0" font-size="12" fill="#149614" text-anchor="start" font-family="Liberation Sans, sans-serif" textLength="61.9" lengthAdjust="spacingAndGlyphs">5: C août 12</text>
<rect x="906.0" y="705.0" width="51" height="2" fill="#0a960a" shape-rendering="crispEdges"/>
<text x="1041.3" y="710.0" font-size="12" fill="#149614" text-anchor="end" font-family="Liberation Sans, sans-serif" textLength="28.0" lengthAdjust="spacingAndGlyphs">0,3 %</text>
<rect x="1079.5" y="698.5" width="13" height="13" rx="3" ry="3" fill="#fff" stroke="#1478ff" stroke-width="1.1"/>
<path d="M1081.90 705.20L1084.50 708.30L1089.60 701.10" fill="none" stroke="#1478ff" stroke-width="1.85" stroke-linejoin="miter"/>
<text x="1099.4" y="710.0" font-size="12" fill="#0064c8" text-anchor="start" font-family="Liberation Sans, sans-serif" textLength="66.2" lengthAdjust="spacingAndGlyphs">6: SL août 12</text>
<rect x="1263.0" y="705.0" width="51" height="2" fill="#0064c8" shape-rendering="crispEdges"/>
<text x="1398.3" y="710.0" font-size="12" fill="#0064c8" text-anchor="end" font-family="Liberation Sans, sans-serif" textLength="32.6" lengthAdjust="spacingAndGlyphs">-0,2 %</text>
<rect x="8.5" y="719.5" width="13" height="13" rx="3" ry="3" fill="#fff" stroke="#1478ff" stroke-width="1.1"/>
<path d="M10.90 726.20L13.50 729.30L18.60 722.10" fill="none" stroke="#1478ff" stroke-width="1.85" stroke-linejoin="miter"/>
<text x="28.4" y="731.0" font-size="12" fill="#9a4d00" text-anchor="start" font-family="Liberation Sans, sans-serif" textLength="66.4" lengthAdjust="spacingAndGlyphs">7: SR août 12</text>
<rect x="192.0" y="726.0" width="51" height="2" fill="#9a4d00" shape-rendering="crispEdges"/>
<text x="327.3" y="731.0" font-size="12" fill="#9a4d00" text-anchor="end" font-family="Liberation Sans, sans-serif" textLength="32.6" lengthAdjust="spacingAndGlyphs">-0,3 %</text>
<rect x="365.5" y="719.5" width="13" height="13" rx="3" ry="3" fill="#fff" stroke="#1478ff" stroke-width="1.1"/>
<path d="M367.90 726.20L370.50 729.30L375.60 722.10" fill="none" stroke="#1478ff" stroke-width="1.85" stroke-linejoin="miter"/>
<text x="385.4" y="731.0" font-size="12" fill="#007d7d" text-anchor="start" font-family="Liberation Sans, sans-serif" textLength="115.2" lengthAdjust="spacingAndGlyphs">8: Atmos AVG août 12</text>
<rect x="549.0" y="726.0" width="51" height="2" fill="#007d7d" shape-rendering="crispEdges"/>
<text x="684.3" y="731.0" font-size="12" fill="#007d7d" text-anchor="end" font-family="Liberation Sans, sans-serif" textLength="32.6" lengthAdjust="spacingAndGlyphs">-0,2 %</text>
<rect x="722.5" y="719.5" width="13" height="13" rx="3" ry="3" fill="#fff" stroke="#1478ff" stroke-width="1.1"/>
<path d="M724.90 726.20L727.50 729.30L732.60 722.10" fill="none" stroke="#1478ff" stroke-width="1.85" stroke-linejoin="miter"/>
<text x="742.4" y="731.0" font-size="12" fill="#8214e6" text-anchor="start" font-family="Liberation Sans, sans-serif" textLength="115.2" lengthAdjust="spacingAndGlyphs">9: Atmos AVD août 12</text>
<rect x="906.0" y="726.0" width="51" height="2" fill="#6e0aff" shape-rendering="crispEdges"/>
<text x="1041.3" y="731.0" font-size="12" fill="#8214e6" text-anchor="end" font-family="Liberation Sans, sans-serif" textLength="32.6" lengthAdjust="spacingAndGlyphs">-0,2 %</text>
<rect x="1079.5" y="719.5" width="13" height="13" rx="3" ry="3" fill="#fff" stroke="#1478ff" stroke-width="1.1"/>
<path d="M1081.90 726.20L1084.50 729.30L1089.60 722.10" fill="none" stroke="#1478ff" stroke-width="1.85" stroke-linejoin="miter"/>
<text x="1099.4" y="731.0" font-size="12" fill="#b400b4" text-anchor="start" font-family="Liberation Sans, sans-serif" textLength="120.7" lengthAdjust="spacingAndGlyphs">10: Atmos ARG août 12</text>
<rect x="1263.0" y="726.0" width="51" height="2" fill="#a000c8" shape-rendering="crispEdges"/>
<text x="1398.3" y="731.0" font-size="12" fill="#b400b4" text-anchor="end" font-family="Liberation Sans, sans-serif" textLength="32.6" lengthAdjust="spacingAndGlyphs">-0,2 %</text>
<rect x="8.5" y="740.5" width="13" height="13" rx="3" ry="3" fill="#fff" stroke="#1478ff" stroke-width="1.1"/>
<path d="M10.90 747.20L13.50 750.30L18.60 743.10" fill="none" stroke="#1478ff" stroke-width="1.85" stroke-linejoin="miter"/>
<text x="28.4" y="752.0" font-size="12" fill="#ff0032" text-anchor="start" font-family="Liberation Sans, sans-serif" textLength="121.2" lengthAdjust="spacingAndGlyphs">11: Atmos ARD août 12</text>
<rect x="192.0" y="747.0" width="51" height="2" fill="#ff0032" shape-rendering="crispEdges"/>
<text x="327.3" y="752.0" font-size="12" fill="#ff0032" text-anchor="end" font-family="Liberation Sans, sans-serif" textLength="28.0" lengthAdjust="spacingAndGlyphs">0,0 %</text>
</svg>
</body></html>
